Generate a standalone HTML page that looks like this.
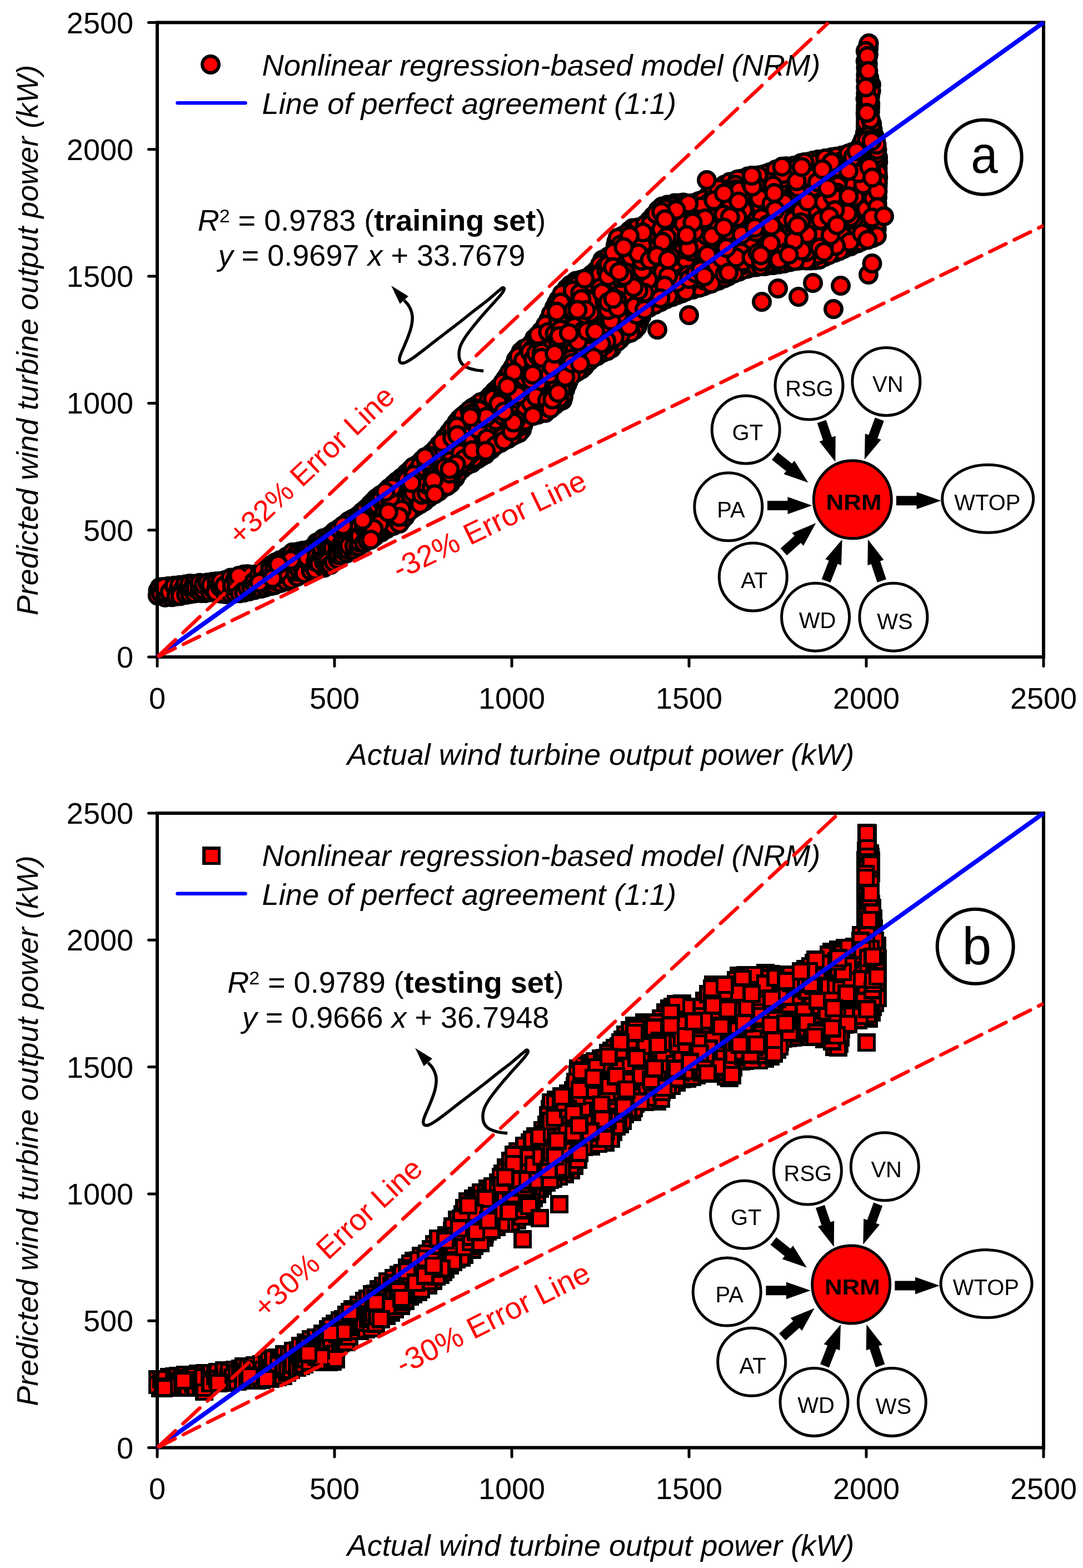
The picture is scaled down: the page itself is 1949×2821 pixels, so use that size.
<!DOCTYPE html>
<html><head><meta charset="utf-8"><title>NRM scatter plots</title>
<style>html,body{margin:0;padding:0;background:#fff;width:1949px;height:2821px;overflow:hidden}svg{display:block}</style>
</head><body>
<svg width="1949" height="2821" viewBox="0 0 1949 2821">
<rect width="1949" height="2821" fill="#fff"/>
<g fill="#ff0000" stroke="#000" stroke-width="6">
<circle cx="1293.4" cy="504.7" r="15"/>
<circle cx="1499.4" cy="430.3" r="15"/>
<circle cx="1379.9" cy="332.3" r="15"/>
<circle cx="999.1" cy="643.3" r="15"/>
<circle cx="1379.4" cy="374.7" r="15"/>
<circle cx="1106.4" cy="561.7" r="15"/>
<circle cx="1223.7" cy="400.7" r="15"/>
<circle cx="1457.3" cy="385.3" r="15"/>
<circle cx="1177.1" cy="470" r="15"/>
<circle cx="1001.6" cy="659.7" r="15"/>
<circle cx="1221" cy="478.3" r="15"/>
<circle cx="1389.7" cy="321.7" r="15"/>
<circle cx="1017.2" cy="701" r="15"/>
<circle cx="1337.9" cy="407.2" r="15"/>
<circle cx="1320.2" cy="326.4" r="15"/>
<circle cx="1126.2" cy="554.2" r="15"/>
<circle cx="1330.3" cy="488.4" r="15"/>
<circle cx="1051.1" cy="632.7" r="15"/>
<circle cx="1002" cy="579.6" r="15"/>
<circle cx="1253" cy="513.8" r="15"/>
<circle cx="1102.9" cy="570.7" r="15"/>
<circle cx="1242.4" cy="480.5" r="15"/>
<circle cx="1372.5" cy="314.3" r="15"/>
<circle cx="1110.3" cy="483.7" r="15"/>
<circle cx="1177.2" cy="416.7" r="15"/>
<circle cx="1106.3" cy="493.9" r="15"/>
<circle cx="1189" cy="543.2" r="15"/>
<circle cx="1176.2" cy="494.5" r="15"/>
<circle cx="1577.8" cy="411.9" r="15"/>
<circle cx="1392.9" cy="313.2" r="15"/>
<circle cx="1443.9" cy="467.9" r="15"/>
<circle cx="1457.2" cy="330" r="15"/>
<circle cx="1561.6" cy="104.5" r="15"/>
<circle cx="1309.9" cy="426.2" r="15"/>
<circle cx="1212.6" cy="453.8" r="15"/>
<circle cx="1343.3" cy="439.2" r="15"/>
<circle cx="1094.2" cy="589.1" r="15"/>
<circle cx="1236.2" cy="459.6" r="15"/>
<circle cx="1378.6" cy="323.9" r="15"/>
<circle cx="1429.2" cy="372.5" r="15"/>
<circle cx="1551.7" cy="338.5" r="15"/>
<circle cx="1326.7" cy="448.9" r="15"/>
<circle cx="1550" cy="282.3" r="15"/>
<circle cx="1195.2" cy="495.2" r="15"/>
<circle cx="1277.3" cy="430.5" r="15"/>
<circle cx="1363.8" cy="464.8" r="15"/>
<circle cx="1354.4" cy="342.2" r="15"/>
<circle cx="1524.9" cy="319.4" r="15"/>
<circle cx="1579.5" cy="302.6" r="15"/>
<circle cx="1255.8" cy="386.8" r="15"/>
<circle cx="1554.7" cy="321.8" r="15"/>
<circle cx="1069.5" cy="522.6" r="15"/>
<circle cx="1497.1" cy="414.2" r="15"/>
<circle cx="1501.9" cy="454.7" r="15"/>
<circle cx="1019.5" cy="571.7" r="15"/>
<circle cx="1030.2" cy="571" r="15"/>
<circle cx="1189.9" cy="468.3" r="15"/>
<circle cx="1314" cy="477.8" r="15"/>
<circle cx="1317.2" cy="396.8" r="15"/>
<circle cx="1009.2" cy="582.2" r="15"/>
<circle cx="1370.2" cy="322.2" r="15"/>
<circle cx="1415.3" cy="467.4" r="15"/>
<circle cx="1195.9" cy="416.8" r="15"/>
<circle cx="990.2" cy="604.7" r="15"/>
<circle cx="1474" cy="301.8" r="15"/>
<circle cx="1052" cy="649.1" r="15"/>
<circle cx="1572.2" cy="300.3" r="15"/>
<circle cx="1558.4" cy="121.8" r="15"/>
<circle cx="1573.3" cy="286.8" r="15"/>
<circle cx="1478.2" cy="432.2" r="15"/>
<circle cx="1544" cy="348.7" r="15"/>
<circle cx="1201" cy="368.4" r="15"/>
<circle cx="1066.1" cy="572.3" r="15"/>
<circle cx="1518.4" cy="375.4" r="15"/>
<circle cx="1323.9" cy="455.3" r="15"/>
<circle cx="1338.1" cy="344.1" r="15"/>
<circle cx="1098.2" cy="507.9" r="15"/>
<circle cx="1179" cy="433.4" r="15"/>
<circle cx="1511.9" cy="361.9" r="15"/>
<circle cx="1488.1" cy="436.8" r="15"/>
<circle cx="1006" cy="619.2" r="15"/>
<circle cx="1356.9" cy="445.2" r="15"/>
<circle cx="1104.8" cy="619.6" r="15"/>
<circle cx="1558.2" cy="212.7" r="15"/>
<circle cx="1129.1" cy="594.9" r="15"/>
<circle cx="1402.4" cy="455.9" r="15"/>
<circle cx="1169.6" cy="411.3" r="15"/>
<circle cx="1566" cy="193.7" r="15"/>
<circle cx="1129.5" cy="483.9" r="15"/>
<circle cx="1309.5" cy="452.3" r="15"/>
<circle cx="1263.3" cy="428.8" r="15"/>
<circle cx="1416.7" cy="383.8" r="15"/>
<circle cx="1449.8" cy="346.2" r="15"/>
<circle cx="1515.7" cy="432.3" r="15"/>
<circle cx="1422" cy="316.2" r="15"/>
<circle cx="1308.7" cy="395.3" r="15"/>
<circle cx="1302.5" cy="453.9" r="15"/>
<circle cx="1386.6" cy="416.6" r="15"/>
<circle cx="1435.2" cy="454.8" r="15"/>
<circle cx="1220.3" cy="497.2" r="15"/>
<circle cx="1325.4" cy="372.4" r="15"/>
<circle cx="1064.6" cy="493.7" r="15"/>
<circle cx="1396.6" cy="384.7" r="15"/>
<circle cx="1499.7" cy="346.2" r="15"/>
<circle cx="1444.2" cy="424" r="15"/>
<circle cx="1465.7" cy="431.6" r="15"/>
<circle cx="1119.7" cy="424.5" r="15"/>
<circle cx="1293.6" cy="419.7" r="15"/>
<circle cx="1102" cy="585.1" r="15"/>
<circle cx="1431.5" cy="332.2" r="15"/>
<circle cx="1203.6" cy="526.1" r="15"/>
<circle cx="1550.5" cy="378.2" r="15"/>
<circle cx="1330.2" cy="469.8" r="15"/>
<circle cx="1126.6" cy="582.5" r="15"/>
<circle cx="1042.2" cy="631.3" r="15"/>
<circle cx="1344.8" cy="386.6" r="15"/>
<circle cx="1049.5" cy="642.2" r="15"/>
<circle cx="1081.9" cy="573.3" r="15"/>
<circle cx="1020.6" cy="692.1" r="15"/>
<circle cx="1019.4" cy="620.9" r="15"/>
<circle cx="997.7" cy="571.7" r="15"/>
<circle cx="1291" cy="350.4" r="15"/>
<circle cx="1347.4" cy="449" r="15"/>
<circle cx="1579" cy="355.1" r="15"/>
<circle cx="1199.9" cy="445" r="15"/>
<circle cx="1521.9" cy="414.1" r="15"/>
<circle cx="1032.6" cy="672.5" r="15"/>
<circle cx="1542.2" cy="324.8" r="15"/>
<circle cx="1520.5" cy="291.1" r="15"/>
<circle cx="1242.7" cy="462.1" r="15"/>
<circle cx="1493.6" cy="299.8" r="15"/>
<circle cx="1375.4" cy="407.3" r="15"/>
<circle cx="1243.6" cy="406.3" r="15"/>
<circle cx="1133.6" cy="551.5" r="15"/>
<circle cx="1087.8" cy="566.4" r="15"/>
<circle cx="1218.8" cy="489.8" r="15"/>
<circle cx="1385.9" cy="449.4" r="15"/>
<circle cx="1399.6" cy="410.2" r="15"/>
<circle cx="1049.3" cy="564.9" r="15"/>
<circle cx="1040.5" cy="604.5" r="15"/>
<circle cx="1349" cy="396.1" r="15"/>
<circle cx="1404.6" cy="363.9" r="15"/>
<circle cx="1529.7" cy="428.4" r="15"/>
<circle cx="1467.7" cy="341.8" r="15"/>
<circle cx="1504.7" cy="398.3" r="15"/>
<circle cx="1478.4" cy="353.6" r="15"/>
<circle cx="1288.7" cy="403.5" r="15"/>
<circle cx="1490.2" cy="451.9" r="15"/>
<circle cx="1548.3" cy="354.3" r="15"/>
<circle cx="1115.3" cy="447.9" r="15"/>
<circle cx="1475.6" cy="322.3" r="15"/>
<circle cx="1415.8" cy="353" r="15"/>
<circle cx="1265.6" cy="515.2" r="15"/>
<circle cx="1453.8" cy="436.6" r="15"/>
<circle cx="1107.6" cy="514.7" r="15"/>
<circle cx="1519.9" cy="306.2" r="15"/>
<circle cx="1566.7" cy="344.3" r="15"/>
<circle cx="1236.3" cy="382.6" r="15"/>
<circle cx="1154.3" cy="569.1" r="15"/>
<circle cx="1018.6" cy="531.7" r="15"/>
<circle cx="1046" cy="609.2" r="15"/>
<circle cx="1139.9" cy="583.3" r="15"/>
<circle cx="1146.6" cy="508.3" r="15"/>
<circle cx="1513.6" cy="303.8" r="15"/>
<circle cx="1169.9" cy="434.2" r="15"/>
<circle cx="1515.2" cy="279.7" r="15"/>
<circle cx="1312.1" cy="441.8" r="15"/>
<circle cx="1259.2" cy="435.3" r="15"/>
<circle cx="1283.9" cy="378.6" r="15"/>
<circle cx="1085.2" cy="557.3" r="15"/>
<circle cx="1496.1" cy="376.5" r="15"/>
<circle cx="1296.6" cy="498.7" r="15"/>
<circle cx="1127" cy="568.9" r="15"/>
<circle cx="1558.4" cy="273.9" r="15"/>
<circle cx="1362.2" cy="326.1" r="15"/>
<circle cx="1139.2" cy="420.6" r="15"/>
<circle cx="1250.3" cy="437.3" r="15"/>
<circle cx="1094.4" cy="607.7" r="15"/>
<circle cx="1427.1" cy="453.4" r="15"/>
<circle cx="1391" cy="341.1" r="15"/>
<circle cx="1135.1" cy="468.7" r="15"/>
<circle cx="1367.1" cy="406.3" r="15"/>
<circle cx="1568.1" cy="272" r="15"/>
<circle cx="1013.2" cy="576.2" r="15"/>
<circle cx="1229.7" cy="364.6" r="15"/>
<circle cx="1526" cy="328" r="15"/>
<circle cx="1340.3" cy="400.7" r="15"/>
<circle cx="1228.3" cy="475.2" r="15"/>
<circle cx="1187.7" cy="443.4" r="15"/>
<circle cx="1250.3" cy="406.9" r="15"/>
<circle cx="1016" cy="539.3" r="15"/>
<circle cx="1214.1" cy="365.6" r="15"/>
<circle cx="1150.1" cy="578.9" r="15"/>
<circle cx="1216.7" cy="518.7" r="15"/>
<circle cx="1456.1" cy="291" r="15"/>
<circle cx="1079.9" cy="564.7" r="15"/>
<circle cx="1221.5" cy="365.4" r="15"/>
<circle cx="1496.7" cy="283" r="15"/>
<circle cx="1536.2" cy="347.8" r="15"/>
<circle cx="1533.4" cy="340.6" r="15"/>
<circle cx="1154.4" cy="408.2" r="15"/>
<circle cx="1152.6" cy="514.1" r="15"/>
<circle cx="1397.3" cy="436.2" r="15"/>
<circle cx="1111.2" cy="467.5" r="15"/>
<circle cx="1168.7" cy="396.3" r="15"/>
<circle cx="1183.7" cy="509.3" r="15"/>
<circle cx="1326.2" cy="480.7" r="15"/>
<circle cx="1017.1" cy="597" r="15"/>
<circle cx="1422.1" cy="464.4" r="15"/>
<circle cx="1153.3" cy="543.4" r="15"/>
<circle cx="1423.2" cy="357" r="15"/>
<circle cx="1519.5" cy="315" r="15"/>
<circle cx="1265.6" cy="441.5" r="15"/>
<circle cx="1570.1" cy="421.5" r="15"/>
<circle cx="1088.7" cy="534.1" r="15"/>
<circle cx="1047.8" cy="615.5" r="15"/>
<circle cx="1384.7" cy="431.5" r="15"/>
<circle cx="1051.1" cy="574.4" r="15"/>
<circle cx="1248.7" cy="484.3" r="15"/>
<circle cx="1480.9" cy="380.2" r="15"/>
<circle cx="1563.8" cy="350.8" r="15"/>
<circle cx="1410.1" cy="381.3" r="15"/>
<circle cx="1100.4" cy="552.2" r="15"/>
<circle cx="1364.6" cy="396.4" r="15"/>
<circle cx="1189.3" cy="389.4" r="15"/>
<circle cx="1150.2" cy="476" r="15"/>
<circle cx="1245" cy="511.9" r="15"/>
<circle cx="1173.7" cy="457.6" r="15"/>
<circle cx="1539.6" cy="403.7" r="15"/>
<circle cx="1467" cy="302.9" r="15"/>
<circle cx="1056.1" cy="524.1" r="15"/>
<circle cx="1210.6" cy="508" r="15"/>
<circle cx="1465.2" cy="411.2" r="15"/>
<circle cx="1173.2" cy="449.6" r="15"/>
<circle cx="1040.6" cy="645" r="15"/>
<circle cx="1023" cy="562.9" r="15"/>
<circle cx="1354.4" cy="369.8" r="15"/>
<circle cx="1294.8" cy="399.3" r="15"/>
<circle cx="1490" cy="403.6" r="15"/>
<circle cx="1002.7" cy="629.7" r="15"/>
<circle cx="1207.7" cy="500.8" r="15"/>
<circle cx="1411.7" cy="459.4" r="15"/>
<circle cx="1003.7" cy="650.7" r="15"/>
<circle cx="1489" cy="419.6" r="15"/>
<circle cx="1033.8" cy="516.1" r="15"/>
<circle cx="1444" cy="339.9" r="15"/>
<circle cx="1111.3" cy="475.7" r="15"/>
<circle cx="1153.8" cy="435.4" r="15"/>
<circle cx="990.3" cy="587.4" r="15"/>
<circle cx="1529.2" cy="289.1" r="15"/>
<circle cx="1391.1" cy="443.6" r="15"/>
<circle cx="1315.9" cy="334.1" r="15"/>
<circle cx="1574.4" cy="377.7" r="15"/>
<circle cx="1506.9" cy="431.3" r="15"/>
<circle cx="1558.2" cy="190.6" r="15"/>
<circle cx="1518.6" cy="323.9" r="15"/>
<circle cx="1210.2" cy="441" r="15"/>
<circle cx="1041.2" cy="546.9" r="15"/>
<circle cx="1442.3" cy="333.6" r="15"/>
<circle cx="1013.3" cy="693.2" r="15"/>
<circle cx="1189.4" cy="404.3" r="15"/>
<circle cx="1357.6" cy="426.6" r="15"/>
<circle cx="1383.6" cy="477.3" r="15"/>
<circle cx="1494" cy="368.8" r="15"/>
<circle cx="1063.9" cy="516.5" r="15"/>
<circle cx="1401.4" cy="475.6" r="15"/>
<circle cx="1183.4" cy="467.5" r="15"/>
<circle cx="999.1" cy="677.6" r="15"/>
<circle cx="1116.9" cy="432.2" r="15"/>
<circle cx="1567.9" cy="152.3" r="15"/>
<circle cx="1497.5" cy="340" r="15"/>
<circle cx="1120.4" cy="548.4" r="15"/>
<circle cx="1086.6" cy="492.6" r="15"/>
<circle cx="1395.7" cy="325.8" r="15"/>
<circle cx="1186" cy="490.6" r="15"/>
<circle cx="994.5" cy="669" r="15"/>
<circle cx="1060" cy="604.2" r="15"/>
<circle cx="1073.2" cy="571.1" r="15"/>
<circle cx="1409.9" cy="388.3" r="15"/>
<circle cx="1199.9" cy="483.1" r="15"/>
<circle cx="1471.8" cy="404.4" r="15"/>
<circle cx="1351.7" cy="405.1" r="15"/>
<circle cx="1227.4" cy="435.5" r="15"/>
<circle cx="1457.6" cy="409.1" r="15"/>
<circle cx="1564.1" cy="311.2" r="15"/>
<circle cx="1492.1" cy="331.8" r="15"/>
<circle cx="1003.3" cy="724.7" r="15"/>
<circle cx="1543.7" cy="411" r="15"/>
<circle cx="1119" cy="473.4" r="15"/>
<circle cx="1052.9" cy="603" r="15"/>
<circle cx="1291.4" cy="361.1" r="15"/>
<circle cx="1209.7" cy="515.7" r="15"/>
<circle cx="1054.9" cy="543.4" r="15"/>
<circle cx="1548.3" cy="319" r="15"/>
<circle cx="1146.7" cy="588.6" r="15"/>
<circle cx="1530.7" cy="443.3" r="15"/>
<circle cx="1196.5" cy="472.3" r="15"/>
<circle cx="1384.3" cy="390.8" r="15"/>
<circle cx="1445.4" cy="458.4" r="15"/>
<circle cx="1503.9" cy="413.3" r="15"/>
<circle cx="1172.6" cy="506.8" r="15"/>
<circle cx="1518.3" cy="298.9" r="15"/>
<circle cx="1408.8" cy="427.7" r="15"/>
<circle cx="1372" cy="344.4" r="15"/>
<circle cx="1075.1" cy="508.8" r="15"/>
<circle cx="1273.5" cy="490.6" r="15"/>
<circle cx="984.5" cy="642.6" r="15"/>
<circle cx="1538.2" cy="319" r="15"/>
<circle cx="1344.3" cy="431.7" r="15"/>
<circle cx="1331.4" cy="433.3" r="15"/>
<circle cx="1143.3" cy="532.6" r="15"/>
<circle cx="1303.5" cy="332.5" r="15"/>
<circle cx="1065.2" cy="581.8" r="15"/>
<circle cx="1471.1" cy="415.2" r="15"/>
<circle cx="1453" cy="414.6" r="15"/>
<circle cx="1415.8" cy="370.1" r="15"/>
<circle cx="1340.9" cy="459" r="15"/>
<circle cx="1052" cy="514.4" r="15"/>
<circle cx="1401.6" cy="343.5" r="15"/>
<circle cx="983.4" cy="658.5" r="15"/>
<circle cx="1171.2" cy="520.1" r="15"/>
<circle cx="1289.1" cy="447.2" r="15"/>
<circle cx="1152.7" cy="533.6" r="15"/>
<circle cx="1141.9" cy="594" r="15"/>
<circle cx="1027.9" cy="607" r="15"/>
<circle cx="1208" cy="448.9" r="15"/>
<circle cx="1534.3" cy="273.6" r="15"/>
<circle cx="1249.4" cy="382.7" r="15"/>
<circle cx="1568.8" cy="293.8" r="15"/>
<circle cx="1345" cy="483.4" r="15"/>
<circle cx="1558.3" cy="135" r="15"/>
<circle cx="1429.2" cy="352.3" r="15"/>
<circle cx="1337.1" cy="429.3" r="15"/>
<circle cx="1078.5" cy="592.9" r="15"/>
<circle cx="1450.1" cy="427.5" r="15"/>
<circle cx="1119.4" cy="595.5" r="15"/>
<circle cx="1052.5" cy="584.5" r="15"/>
<circle cx="1035.5" cy="527.3" r="15"/>
<circle cx="1000.4" cy="593.5" r="15"/>
<circle cx="1269.5" cy="415.3" r="15"/>
<circle cx="1115.9" cy="610.4" r="15"/>
<circle cx="1493.4" cy="444.8" r="15"/>
<circle cx="1188" cy="477.1" r="15"/>
<circle cx="1308.4" cy="381.5" r="15"/>
<circle cx="1343.6" cy="411.1" r="15"/>
<circle cx="1167.1" cy="495.7" r="15"/>
<circle cx="1331.1" cy="334" r="15"/>
<circle cx="1217.3" cy="411.7" r="15"/>
<circle cx="1416.3" cy="408.5" r="15"/>
<circle cx="1206.7" cy="410" r="15"/>
<circle cx="1333.1" cy="461.8" r="15"/>
<circle cx="1459.6" cy="461" r="15"/>
<circle cx="1177.1" cy="426.9" r="15"/>
<circle cx="1296.4" cy="426.1" r="15"/>
<circle cx="971" cy="625.8" r="15"/>
<circle cx="1572.6" cy="325.9" r="15"/>
<circle cx="994.6" cy="692.7" r="15"/>
<circle cx="1219.1" cy="371.7" r="15"/>
<circle cx="1015.9" cy="608" r="15"/>
<circle cx="995" cy="685.7" r="15"/>
<circle cx="1100.3" cy="515.7" r="15"/>
<circle cx="1149.3" cy="427.5" r="15"/>
<circle cx="1275.9" cy="413" r="15"/>
<circle cx="1500.4" cy="314.5" r="15"/>
<circle cx="1557.1" cy="342.4" r="15"/>
<circle cx="1235.7" cy="374.7" r="15"/>
<circle cx="1076.5" cy="524.2" r="15"/>
<circle cx="1553.8" cy="348.7" r="15"/>
<circle cx="1445.7" cy="416.1" r="15"/>
<circle cx="1427.2" cy="365.1" r="15"/>
<circle cx="979" cy="701.8" r="15"/>
<circle cx="1023.5" cy="663.2" r="15"/>
<circle cx="1100.9" cy="626.5" r="15"/>
<circle cx="1559.7" cy="386.1" r="15"/>
<circle cx="1570.6" cy="233" r="15"/>
<circle cx="1415.3" cy="342.2" r="15"/>
<circle cx="1297.7" cy="356.9" r="15"/>
<circle cx="1568.8" cy="331.8" r="15"/>
<circle cx="1566.7" cy="278.5" r="15"/>
<circle cx="1580.3" cy="291.8" r="15"/>
<circle cx="1345.6" cy="317.5" r="15"/>
<circle cx="1571.1" cy="407.7" r="15"/>
<circle cx="1236" cy="485.8" r="15"/>
<circle cx="1376.8" cy="471.5" r="15"/>
<circle cx="1540.3" cy="417.7" r="15"/>
<circle cx="1331.7" cy="368.7" r="15"/>
<circle cx="1258.5" cy="412.2" r="15"/>
<circle cx="1364" cy="340.8" r="15"/>
<circle cx="1007.3" cy="663.4" r="15"/>
<circle cx="1354.9" cy="391.3" r="15"/>
<circle cx="1473.8" cy="311" r="15"/>
<circle cx="1036.2" cy="505.5" r="15"/>
<circle cx="1453.5" cy="297.7" r="15"/>
<circle cx="1248" cy="391.4" r="15"/>
<circle cx="1272" cy="476.7" r="15"/>
<circle cx="1476.8" cy="410.2" r="15"/>
<circle cx="1392.3" cy="390.5" r="15"/>
<circle cx="1522.7" cy="439.4" r="15"/>
<circle cx="1307.5" cy="484.2" r="15"/>
<circle cx="1415.9" cy="416.7" r="15"/>
<circle cx="1516.7" cy="367.4" r="15"/>
<circle cx="1169.2" cy="421.1" r="15"/>
<circle cx="1389.5" cy="467.4" r="15"/>
<circle cx="1401.5" cy="442.5" r="15"/>
<circle cx="1564.3" cy="208.4" r="15"/>
<circle cx="1134" cy="570.3" r="15"/>
<circle cx="1118.9" cy="506.3" r="15"/>
<circle cx="1125.9" cy="453.2" r="15"/>
<circle cx="1491.7" cy="324.1" r="15"/>
<circle cx="1259" cy="493.8" r="15"/>
<circle cx="990" cy="680.4" r="15"/>
<circle cx="1211.5" cy="523.9" r="15"/>
<circle cx="1465" cy="384.1" r="15"/>
<circle cx="1313.2" cy="340.4" r="15"/>
<circle cx="1375.5" cy="461.2" r="15"/>
<circle cx="1279.8" cy="418.6" r="15"/>
<circle cx="1433.6" cy="386.5" r="15"/>
<circle cx="1440.4" cy="357.7" r="15"/>
<circle cx="1224.1" cy="386.8" r="15"/>
<circle cx="1350" cy="420.4" r="15"/>
<circle cx="1099.5" cy="524.7" r="15"/>
<circle cx="1544.3" cy="423.8" r="15"/>
<circle cx="1272.2" cy="404.3" r="15"/>
<circle cx="1549.5" cy="259.7" r="15"/>
<circle cx="1398" cy="368.9" r="15"/>
<circle cx="1422.8" cy="370.6" r="15"/>
<circle cx="1198.4" cy="409.4" r="15"/>
<circle cx="1184.9" cy="415.8" r="15"/>
<circle cx="972.1" cy="720.4" r="15"/>
<circle cx="1205.9" cy="480.4" r="15"/>
<circle cx="1142.6" cy="472.5" r="15"/>
<circle cx="1013.5" cy="614.9" r="15"/>
<circle cx="1351.4" cy="474.3" r="15"/>
<circle cx="1269.9" cy="381.7" r="15"/>
<circle cx="1280.7" cy="463.1" r="15"/>
<circle cx="1223.1" cy="416.3" r="15"/>
<circle cx="1299.1" cy="442.5" r="15"/>
<circle cx="1369.1" cy="414.4" r="15"/>
<circle cx="1306.6" cy="354.9" r="15"/>
<circle cx="1123.5" cy="562.6" r="15"/>
<circle cx="1410.7" cy="405.1" r="15"/>
<circle cx="1057.3" cy="535.5" r="15"/>
<circle cx="1571" cy="312.2" r="15"/>
<circle cx="1300.6" cy="403.2" r="15"/>
<circle cx="1484.9" cy="394.1" r="15"/>
<circle cx="1286.5" cy="506.7" r="15"/>
<circle cx="1296" cy="450.4" r="15"/>
<circle cx="1558.9" cy="364.2" r="15"/>
<circle cx="1249.8" cy="464" r="15"/>
<circle cx="1123.4" cy="468.3" r="15"/>
<circle cx="1404" cy="448.7" r="15"/>
<circle cx="1226.9" cy="527.8" r="15"/>
<circle cx="1032" cy="533" r="15"/>
<circle cx="1514.3" cy="397.4" r="15"/>
<circle cx="1292.5" cy="441.1" r="15"/>
<circle cx="1448.1" cy="353.8" r="15"/>
<circle cx="1024.9" cy="624.7" r="15"/>
<circle cx="986.6" cy="665.8" r="15"/>
<circle cx="1492.5" cy="345.1" r="15"/>
<circle cx="1220.8" cy="432.8" r="15"/>
<circle cx="1350.1" cy="374.7" r="15"/>
<circle cx="1229.5" cy="442" r="15"/>
<circle cx="1363.4" cy="447.7" r="15"/>
<circle cx="1228.5" cy="412" r="15"/>
<circle cx="1387.2" cy="351.2" r="15"/>
<circle cx="1446.8" cy="360.6" r="15"/>
<circle cx="993.1" cy="593.9" r="15"/>
<circle cx="1110.7" cy="615.1" r="15"/>
<circle cx="985.8" cy="707.2" r="15"/>
<circle cx="1055.2" cy="622.3" r="15"/>
<circle cx="1294.5" cy="492" r="15"/>
<circle cx="1241.4" cy="378.5" r="15"/>
<circle cx="1004.2" cy="682.1" r="15"/>
<circle cx="1580.3" cy="319.6" r="15"/>
<circle cx="1224.5" cy="464.8" r="15"/>
<circle cx="1400.7" cy="417.2" r="15"/>
<circle cx="1314.5" cy="434.7" r="15"/>
<circle cx="1028.9" cy="635.2" r="15"/>
<circle cx="1388.7" cy="384.1" r="15"/>
<circle cx="1432.5" cy="440.1" r="15"/>
<circle cx="1106.4" cy="522.8" r="15"/>
<circle cx="1482.6" cy="335.2" r="15"/>
<circle cx="1296.1" cy="365.9" r="15"/>
<circle cx="1182.1" cy="391.8" r="15"/>
<circle cx="1573.9" cy="245.4" r="15"/>
<circle cx="1471.8" cy="363.4" r="15"/>
<circle cx="1466.9" cy="467.9" r="15"/>
<circle cx="1332.6" cy="403.4" r="15"/>
<circle cx="1549" cy="406.6" r="15"/>
<circle cx="1382" cy="355.9" r="15"/>
<circle cx="1380.5" cy="441" r="15"/>
<circle cx="1401.2" cy="332.8" r="15"/>
<circle cx="1178.4" cy="502.9" r="15"/>
<circle cx="1378.6" cy="398" r="15"/>
<circle cx="1072.3" cy="529.3" r="15"/>
<circle cx="1333.2" cy="412.4" r="15"/>
<circle cx="1021.7" cy="633.6" r="15"/>
<circle cx="1262.7" cy="406" r="15"/>
<circle cx="1350.5" cy="436.1" r="15"/>
<circle cx="1551.1" cy="305.8" r="15"/>
<circle cx="981.9" cy="689.3" r="15"/>
<circle cx="1061.4" cy="587.4" r="15"/>
<circle cx="1301.2" cy="476.3" r="15"/>
<circle cx="1149.6" cy="554.3" r="15"/>
<circle cx="1175.3" cy="388.7" r="15"/>
<circle cx="1215.4" cy="385.3" r="15"/>
<circle cx="1253.5" cy="372.9" r="15"/>
<circle cx="1216" cy="468.5" r="15"/>
<circle cx="1183.7" cy="409.1" r="15"/>
<circle cx="1176" cy="396.6" r="15"/>
<circle cx="1024.4" cy="525.1" r="15"/>
<circle cx="969.4" cy="610.2" r="15"/>
<circle cx="1463.3" cy="325.3" r="15"/>
<circle cx="1027.2" cy="581.1" r="15"/>
<circle cx="1465.5" cy="455.1" r="15"/>
<circle cx="1263.8" cy="470" r="15"/>
<circle cx="1317.9" cy="485.6" r="15"/>
<circle cx="990.5" cy="632.5" r="15"/>
<circle cx="1041.6" cy="590.9" r="15"/>
<circle cx="1178.1" cy="527.7" r="15"/>
<circle cx="1229.8" cy="507.1" r="15"/>
<circle cx="1209.4" cy="492.4" r="15"/>
<circle cx="994" cy="618.6" r="15"/>
<circle cx="1529.7" cy="416.9" r="15"/>
<circle cx="981" cy="725.7" r="15"/>
<circle cx="1314.4" cy="354.5" r="15"/>
<circle cx="1579.8" cy="311.1" r="15"/>
<circle cx="1346.2" cy="335.2" r="15"/>
<circle cx="1032.9" cy="611.8" r="15"/>
<circle cx="1222.8" cy="451.4" r="15"/>
<circle cx="1530.2" cy="314.8" r="15"/>
<circle cx="1334.6" cy="447" r="15"/>
<circle cx="1299.2" cy="415" r="15"/>
<circle cx="1483.6" cy="370.6" r="15"/>
<circle cx="1109.8" cy="597" r="15"/>
<circle cx="1118.7" cy="541.9" r="15"/>
<circle cx="1522.5" cy="421.8" r="15"/>
<circle cx="1558.4" cy="229.9" r="15"/>
<circle cx="1574.4" cy="387.4" r="15"/>
<circle cx="1245.5" cy="468.8" r="15"/>
<circle cx="1051.9" cy="549.1" r="15"/>
<circle cx="1512.5" cy="439.6" r="15"/>
<circle cx="1246.7" cy="521" r="15"/>
<circle cx="1228.6" cy="514.4" r="15"/>
<circle cx="1126.7" cy="601.2" r="15"/>
<circle cx="1346.5" cy="323.9" r="15"/>
<circle cx="1570.7" cy="428.1" r="15"/>
<circle cx="1265.6" cy="463.6" r="15"/>
<circle cx="1315.9" cy="370.5" r="15"/>
<circle cx="1010.1" cy="624.7" r="15"/>
<circle cx="1438.9" cy="461.8" r="15"/>
<circle cx="1501.1" cy="420.5" r="15"/>
<circle cx="1058.7" cy="510.2" r="15"/>
<circle cx="1572.4" cy="340.2" r="15"/>
<circle cx="1553.1" cy="270.1" r="15"/>
<circle cx="1256.8" cy="468.8" r="15"/>
<circle cx="1317.2" cy="417.7" r="15"/>
<circle cx="1072.4" cy="625.2" r="15"/>
<circle cx="1419.5" cy="377.1" r="15"/>
<circle cx="1397.2" cy="398.6" r="15"/>
<circle cx="982.4" cy="636.4" r="15"/>
<circle cx="1027.3" cy="618" r="15"/>
<circle cx="1381.1" cy="423.9" r="15"/>
<circle cx="1204.2" cy="488.2" r="15"/>
<circle cx="1335.4" cy="321.4" r="15"/>
<circle cx="1490.4" cy="413.2" r="15"/>
<circle cx="1077.4" cy="501.6" r="15"/>
<circle cx="1230.1" cy="456.8" r="15"/>
<circle cx="1206.2" cy="434.5" r="15"/>
<circle cx="1359.1" cy="437.5" r="15"/>
<circle cx="1259.3" cy="461.9" r="15"/>
<circle cx="1158.6" cy="538.5" r="15"/>
<circle cx="1513.1" cy="329.6" r="15"/>
<circle cx="1419" cy="399.4" r="15"/>
<circle cx="1040.9" cy="597.9" r="15"/>
<circle cx="1147.8" cy="467.5" r="15"/>
<circle cx="949.2" cy="685" r="15"/>
<circle cx="1482.5" cy="311.1" r="15"/>
<circle cx="1513.3" cy="317.2" r="15"/>
<circle cx="1005.7" cy="670.1" r="15"/>
<circle cx="1153.2" cy="447.8" r="15"/>
<circle cx="1491.8" cy="361.3" r="15"/>
<circle cx="991.2" cy="642.9" r="15"/>
<circle cx="1349.6" cy="413.9" r="15"/>
<circle cx="1404.7" cy="349.5" r="15"/>
<circle cx="1391.6" cy="476.9" r="15"/>
<circle cx="1359" cy="319" r="15"/>
<circle cx="1289.1" cy="478.6" r="15"/>
<circle cx="1502.4" cy="287.9" r="15"/>
<circle cx="979.6" cy="676.5" r="15"/>
<circle cx="1411" cy="451.9" r="15"/>
<circle cx="1384.2" cy="316.4" r="15"/>
<circle cx="1249.2" cy="502.5" r="15"/>
<circle cx="1505.2" cy="281.7" r="15"/>
<circle cx="1131" cy="560" r="15"/>
<circle cx="1277.1" cy="441.6" r="15"/>
<circle cx="1373.2" cy="445.5" r="15"/>
<circle cx="1462.2" cy="297.2" r="15"/>
<circle cx="1036.5" cy="652.3" r="15"/>
<circle cx="1499.4" cy="448.1" r="15"/>
<circle cx="979.5" cy="589.9" r="15"/>
<circle cx="1065.5" cy="592.6" r="15"/>
<circle cx="994.9" cy="704.1" r="15"/>
<circle cx="1579.5" cy="335.6" r="15"/>
<circle cx="999.3" cy="712.1" r="15"/>
<circle cx="1179.6" cy="451.3" r="15"/>
<circle cx="1535.9" cy="423.3" r="15"/>
<circle cx="1469.3" cy="351.6" r="15"/>
<circle cx="968.9" cy="664.1" r="15"/>
<circle cx="1331.7" cy="382.2" r="15"/>
<circle cx="1158" cy="519.9" r="15"/>
<circle cx="1260.5" cy="399.2" r="15"/>
<circle cx="1335" cy="440" r="15"/>
<circle cx="1081.7" cy="541" r="15"/>
<circle cx="1399.9" cy="313.6" r="15"/>
<circle cx="1448.8" cy="315.5" r="15"/>
<circle cx="1281.3" cy="353.4" r="15"/>
<circle cx="1026" cy="592.7" r="15"/>
<circle cx="1034.1" cy="548.7" r="15"/>
<circle cx="1009.8" cy="686.3" r="15"/>
<circle cx="1442.8" cy="409.8" r="15"/>
<circle cx="1512.1" cy="339.6" r="15"/>
<circle cx="1302" cy="393" r="15"/>
<circle cx="1343.2" cy="424.9" r="15"/>
<circle cx="1461.9" cy="417.2" r="15"/>
<circle cx="1134.3" cy="437.6" r="15"/>
<circle cx="1424.9" cy="416.9" r="15"/>
<circle cx="1229.4" cy="382.2" r="15"/>
<circle cx="1096.2" cy="468.4" r="15"/>
<circle cx="1026.4" cy="512.4" r="15"/>
<circle cx="1171.3" cy="474.3" r="15"/>
<circle cx="1255" cy="442" r="15"/>
<circle cx="1129.4" cy="472.9" r="15"/>
<circle cx="1265.9" cy="481.5" r="15"/>
<circle cx="1057.5" cy="579" r="15"/>
<circle cx="1556.9" cy="239.3" r="15"/>
<circle cx="1369.5" cy="383" r="15"/>
<circle cx="1461.5" cy="403.8" r="15"/>
<circle cx="1393.8" cy="419.2" r="15"/>
<circle cx="1010.3" cy="679.2" r="15"/>
<circle cx="1437.6" cy="444.2" r="15"/>
<circle cx="997.9" cy="729.3" r="15"/>
<circle cx="966.2" cy="648.2" r="15"/>
<circle cx="1188.6" cy="516.6" r="15"/>
<circle cx="1450.4" cy="406.4" r="15"/>
<circle cx="1072.6" cy="577.8" r="15"/>
<circle cx="1376.1" cy="381.3" r="15"/>
<circle cx="969" cy="728.8" r="15"/>
<circle cx="1546.9" cy="266.2" r="15"/>
<circle cx="1008.5" cy="643.2" r="15"/>
<circle cx="1258.9" cy="507.2" r="15"/>
<circle cx="1238.1" cy="519" r="15"/>
<circle cx="1284.5" cy="346.9" r="15"/>
<circle cx="1109.5" cy="572.1" r="15"/>
<circle cx="1072.4" cy="616.8" r="15"/>
<circle cx="1065" cy="549.5" r="15"/>
<circle cx="1132.7" cy="522.3" r="15"/>
<circle cx="1540.2" cy="290.3" r="15"/>
<circle cx="988.1" cy="687" r="15"/>
<circle cx="1339.1" cy="371.2" r="15"/>
<circle cx="1317.9" cy="445.4" r="15"/>
<circle cx="1436.2" cy="352.6" r="15"/>
<circle cx="1359.6" cy="473.6" r="15"/>
<circle cx="1103.2" cy="600" r="15"/>
<circle cx="1562.6" cy="80.6" r="15"/>
<circle cx="945.8" cy="634.3" r="15"/>
<circle cx="1452.2" cy="461.4" r="15"/>
<circle cx="1372.1" cy="365.5" r="15"/>
<circle cx="1561" cy="151.2" r="15"/>
<circle cx="1499" cy="390.5" r="15"/>
<circle cx="1437.4" cy="468.8" r="15"/>
<circle cx="1183.7" cy="482.7" r="15"/>
<circle cx="1215.2" cy="446.3" r="15"/>
<circle cx="1382.1" cy="410.7" r="15"/>
<circle cx="1432.1" cy="318" r="15"/>
<circle cx="1316.7" cy="454.7" r="15"/>
<circle cx="1294.5" cy="381.7" r="15"/>
<circle cx="1552.1" cy="313.1" r="15"/>
<circle cx="1407.9" cy="337.6" r="15"/>
<circle cx="1325.9" cy="427.6" r="15"/>
<circle cx="954.4" cy="696.5" r="15"/>
<circle cx="959.7" cy="719" r="15"/>
<circle cx="1081.3" cy="582.1" r="15"/>
<circle cx="1557.6" cy="177.7" r="15"/>
<circle cx="1126.7" cy="439.9" r="15"/>
<circle cx="1214.3" cy="396.6" r="15"/>
<circle cx="1143.3" cy="557.4" r="15"/>
<circle cx="1076.4" cy="602.8" r="15"/>
<circle cx="1519.7" cy="337.8" r="15"/>
<circle cx="1084.1" cy="606.8" r="15"/>
<circle cx="1180" cy="441.2" r="15"/>
<circle cx="1580.1" cy="283" r="15"/>
<circle cx="1136.3" cy="430.2" r="15"/>
<circle cx="1282.3" cy="493.8" r="15"/>
<circle cx="996.6" cy="583.4" r="15"/>
<circle cx="939.9" cy="668.6" r="15"/>
<circle cx="987.2" cy="575.4" r="15"/>
<circle cx="1384.4" cy="340.5" r="15"/>
<circle cx="1213.9" cy="475.5" r="15"/>
<circle cx="1266.7" cy="366.3" r="15"/>
<circle cx="1342.8" cy="475.7" r="15"/>
<circle cx="1048.7" cy="522.3" r="15"/>
<circle cx="1395.8" cy="471.4" r="15"/>
<circle cx="1016.5" cy="661.5" r="15"/>
<circle cx="1424.3" cy="345.9" r="15"/>
<circle cx="1126" cy="502.1" r="15"/>
<circle cx="989.3" cy="698.6" r="15"/>
<circle cx="1519.9" cy="331.2" r="15"/>
<circle cx="1532.9" cy="376" r="15"/>
<circle cx="1536.5" cy="386.4" r="15"/>
<circle cx="1056.4" cy="568.2" r="15"/>
<circle cx="1490.1" cy="309.2" r="15"/>
<circle cx="1075.7" cy="559.1" r="15"/>
<circle cx="1528.8" cy="370.5" r="15"/>
<circle cx="963.9" cy="678.5" r="15"/>
<circle cx="1484.2" cy="323" r="15"/>
<circle cx="1138.5" cy="562.4" r="15"/>
<circle cx="1195.7" cy="387.7" r="15"/>
<circle cx="1562.5" cy="288.6" r="15"/>
<circle cx="1557.4" cy="299.8" r="15"/>
<circle cx="968.2" cy="746.1" r="15"/>
<circle cx="1491.4" cy="317.2" r="15"/>
<circle cx="1084" cy="467.6" r="15"/>
<circle cx="963.4" cy="660.2" r="15"/>
<circle cx="1272.9" cy="353.8" r="15"/>
<circle cx="1115.4" cy="515.1" r="15"/>
<circle cx="942.2" cy="723.2" r="15"/>
<circle cx="1577.8" cy="393.1" r="15"/>
<circle cx="939" cy="773.4" r="15"/>
<circle cx="1353.6" cy="322.7" r="15"/>
<circle cx="1184" cy="378" r="15"/>
<circle cx="937.5" cy="680.6" r="15"/>
<circle cx="1155.3" cy="455.3" r="15"/>
<circle cx="957.6" cy="639" r="15"/>
<circle cx="943" cy="627.6" r="15"/>
<circle cx="1019.7" cy="588.7" r="15"/>
<circle cx="1271.6" cy="512.5" r="15"/>
<circle cx="1353.7" cy="481" r="15"/>
<circle cx="968.5" cy="618.2" r="15"/>
<circle cx="1260.9" cy="476.2" r="15"/>
<circle cx="1246.1" cy="495.3" r="15"/>
<circle cx="1316.8" cy="346.1" r="15"/>
<circle cx="1243.5" cy="488.7" r="15"/>
<circle cx="1167.9" cy="454.2" r="15"/>
<circle cx="1441.2" cy="308.1" r="15"/>
<circle cx="1403.4" cy="403.1" r="15"/>
<circle cx="1463.1" cy="391.4" r="15"/>
<circle cx="1377.8" cy="430.4" r="15"/>
<circle cx="1370.1" cy="451.7" r="15"/>
<circle cx="1084.4" cy="634.8" r="15"/>
<circle cx="963" cy="698.9" r="15"/>
<circle cx="1510.6" cy="413.9" r="15"/>
<circle cx="999.6" cy="623" r="15"/>
<circle cx="984.3" cy="733.7" r="15"/>
<circle cx="952.4" cy="659.2" r="15"/>
<circle cx="964" cy="706.2" r="15"/>
<circle cx="1559" cy="247" r="15"/>
<circle cx="1239.3" cy="415.3" r="15"/>
<circle cx="1579.8" cy="327.9" r="15"/>
<circle cx="1409" cy="344.2" r="15"/>
<circle cx="1226.4" cy="501.3" r="15"/>
<circle cx="1482.5" cy="427.1" r="15"/>
<circle cx="1133.1" cy="414.7" r="15"/>
<circle cx="1083.2" cy="600.3" r="15"/>
<circle cx="1113.1" cy="531" r="15"/>
<circle cx="1540.8" cy="380.8" r="15"/>
<circle cx="1013.3" cy="668" r="15"/>
<circle cx="955.6" cy="742.2" r="15"/>
<circle cx="1089.7" cy="506" r="15"/>
<circle cx="1072.5" cy="487.1" r="15"/>
<circle cx="1363" cy="374" r="15"/>
<circle cx="1442.8" cy="431.3" r="15"/>
<circle cx="1012.2" cy="720.5" r="15"/>
<circle cx="940.2" cy="700.1" r="15"/>
<circle cx="1508.6" cy="393.1" r="15"/>
<circle cx="1372.7" cy="436.6" r="15"/>
<circle cx="1437.6" cy="435.6" r="15"/>
<circle cx="1044.5" cy="517.1" r="15"/>
<circle cx="1558" cy="227" r="15"/>
<circle cx="1539.2" cy="370" r="15"/>
<circle cx="1009.7" cy="654.4" r="15"/>
<circle cx="1342.5" cy="352.2" r="15"/>
<circle cx="950.5" cy="729.9" r="15"/>
<circle cx="1492.5" cy="396.6" r="15"/>
<circle cx="1312.9" cy="327.6" r="15"/>
<circle cx="1016.1" cy="629.9" r="15"/>
<circle cx="959.7" cy="690.2" r="15"/>
<circle cx="1297.5" cy="374.9" r="15"/>
<circle cx="1178.3" cy="534.7" r="15"/>
<circle cx="1332.9" cy="327.8" r="15"/>
<circle cx="1572" cy="363.4" r="15"/>
<circle cx="1182.3" cy="497.6" r="15"/>
<circle cx="1080.8" cy="486.1" r="15"/>
<circle cx="1306.4" cy="459.9" r="15"/>
<circle cx="1522.4" cy="283.7" r="15"/>
<circle cx="1447.3" cy="369" r="15"/>
<circle cx="1093.4" cy="521.6" r="15"/>
<circle cx="1194" cy="441.9" r="15"/>
<circle cx="1562.9" cy="98.1" r="15"/>
<circle cx="975.1" cy="695.4" r="15"/>
<circle cx="948.7" cy="722.3" r="15"/>
<circle cx="1044.4" cy="503.7" r="15"/>
<circle cx="933.4" cy="695.9" r="15"/>
<circle cx="997.5" cy="553.3" r="15"/>
<circle cx="1136" cy="478.5" r="15"/>
<circle cx="1261.1" cy="392.1" r="15"/>
<circle cx="975.6" cy="686.9" r="15"/>
<circle cx="947.1" cy="745.1" r="15"/>
<circle cx="1022.4" cy="653.3" r="15"/>
<circle cx="1566.7" cy="414.7" r="15"/>
<circle cx="1466.7" cy="443.5" r="15"/>
<circle cx="1002.2" cy="691.8" r="15"/>
<circle cx="922.8" cy="676.6" r="15"/>
<circle cx="1020.1" cy="554.3" r="15"/>
<circle cx="934.9" cy="753.2" r="15"/>
<circle cx="928.2" cy="748.7" r="15"/>
<circle cx="941.5" cy="764.9" r="15"/>
<circle cx="1141.3" cy="464.9" r="15"/>
<circle cx="1196.3" cy="452.7" r="15"/>
<circle cx="951.8" cy="650.7" r="15"/>
<circle cx="1005.3" cy="538.4" r="15"/>
<circle cx="1559.5" cy="265.3" r="15"/>
<circle cx="1467.7" cy="421.5" r="15"/>
<circle cx="935" cy="746.4" r="15"/>
<circle cx="1094.7" cy="461.4" r="15"/>
<circle cx="1330.8" cy="349.1" r="15"/>
<circle cx="1073.1" cy="586.8" r="15"/>
<circle cx="1578.1" cy="276.7" r="15"/>
<circle cx="1422.5" cy="440" r="15"/>
<circle cx="929.2" cy="731.8" r="15"/>
<circle cx="974" cy="668.9" r="15"/>
<circle cx="1198.2" cy="402.2" r="15"/>
<circle cx="962" cy="608.5" r="15"/>
<circle cx="1421.6" cy="326.6" r="15"/>
<circle cx="1522.1" cy="430.4" r="15"/>
<circle cx="1518.3" cy="447.9" r="15"/>
<circle cx="1563.8" cy="238.9" r="15"/>
<circle cx="1267.4" cy="448.8" r="15"/>
<circle cx="1214.6" cy="430.4" r="15"/>
<circle cx="1185.4" cy="436.5" r="15"/>
<circle cx="968" cy="673.5" r="15"/>
<circle cx="1019.9" cy="518.8" r="15"/>
<circle cx="1148.5" cy="442" r="15"/>
<circle cx="1147.6" cy="547.2" r="15"/>
<circle cx="1126.4" cy="517.3" r="15"/>
<circle cx="1398.2" cy="358.6" r="15"/>
<circle cx="1460.6" cy="311.6" r="15"/>
<circle cx="1339.5" cy="334.8" r="15"/>
<circle cx="922.4" cy="661.2" r="15"/>
<circle cx="1208.2" cy="370.8" r="15"/>
<circle cx="909.7" cy="773.9" r="15"/>
<circle cx="936.2" cy="661.6" r="15"/>
<circle cx="935.4" cy="704.6" r="15"/>
<circle cx="1518.1" cy="357.4" r="15"/>
<circle cx="1546.6" cy="398.6" r="15"/>
<circle cx="1564.6" cy="371.8" r="15"/>
<circle cx="902.2" cy="695" r="15"/>
<circle cx="1326.8" cy="400.4" r="15"/>
<circle cx="1448.7" cy="330.5" r="15"/>
<circle cx="1051" cy="532.2" r="15"/>
<circle cx="1155.7" cy="424.6" r="15"/>
<circle cx="1328" cy="420.8" r="15"/>
<circle cx="1113.5" cy="524.6" r="15"/>
<circle cx="921.2" cy="745.5" r="15"/>
<circle cx="901.8" cy="754.3" r="15"/>
<circle cx="916.5" cy="728.3" r="15"/>
<circle cx="929.9" cy="665.2" r="15"/>
<circle cx="1223.3" cy="521.5" r="15"/>
<circle cx="1483.1" cy="462.5" r="15"/>
<circle cx="929.7" cy="683.2" r="15"/>
<circle cx="1441.3" cy="293.5" r="15"/>
<circle cx="906.4" cy="707.1" r="15"/>
<circle cx="912.7" cy="733.8" r="15"/>
<circle cx="1184" cy="521.8" r="15"/>
<circle cx="981.1" cy="669.9" r="15"/>
<circle cx="1406" cy="356.9" r="15"/>
<circle cx="934.8" cy="655.1" r="15"/>
<circle cx="1356.6" cy="452.6" r="15"/>
<circle cx="1081.8" cy="507.2" r="15"/>
<circle cx="1038" cy="573.8" r="15"/>
<circle cx="1328.2" cy="439.3" r="15"/>
<circle cx="978.9" cy="600.6" r="15"/>
<circle cx="1019.6" cy="581.8" r="15"/>
<circle cx="933.8" cy="760.1" r="15"/>
<circle cx="1349.8" cy="348.3" r="15"/>
<circle cx="1444" cy="437.7" r="15"/>
<circle cx="989.2" cy="725.7" r="15"/>
<circle cx="1091.7" cy="515.2" r="15"/>
<circle cx="915.3" cy="715.6" r="15"/>
<circle cx="1487.4" cy="349.3" r="15"/>
<circle cx="1146.1" cy="483.2" r="15"/>
<circle cx="922.8" cy="704.1" r="15"/>
<circle cx="1557.7" cy="204.1" r="15"/>
<circle cx="1271.4" cy="436.9" r="15"/>
<circle cx="913.3" cy="747.2" r="15"/>
<circle cx="1132.3" cy="446.7" r="15"/>
<circle cx="1341.6" cy="328.4" r="15"/>
<circle cx="897.6" cy="733.3" r="15"/>
<circle cx="883.7" cy="809.1" r="15"/>
<circle cx="901" cy="796.8" r="15"/>
<circle cx="904.1" cy="722.7" r="15"/>
<circle cx="926.6" cy="698.1" r="15"/>
<circle cx="885.3" cy="785.3" r="15"/>
<circle cx="1031.9" cy="661.3" r="15"/>
<circle cx="937.9" cy="688.4" r="15"/>
<circle cx="891.2" cy="730.9" r="15"/>
<circle cx="1434.6" cy="429.3" r="15"/>
<circle cx="887.3" cy="724.1" r="15"/>
<circle cx="1422.7" cy="333.2" r="15"/>
<circle cx="932.7" cy="737.3" r="15"/>
<circle cx="884.4" cy="736.2" r="15"/>
<circle cx="1457.9" cy="303" r="15"/>
<circle cx="892.8" cy="764.8" r="15"/>
<circle cx="915.9" cy="771" r="15"/>
<circle cx="1142.1" cy="541.7" r="15"/>
<circle cx="896.3" cy="711.1" r="15"/>
<circle cx="1377.5" cy="418.3" r="15"/>
<circle cx="1353.4" cy="358.4" r="15"/>
<circle cx="1148.4" cy="418.3" r="15"/>
<circle cx="884.1" cy="772.2" r="15"/>
<circle cx="867.1" cy="808.8" r="15"/>
<circle cx="956.5" cy="618.1" r="15"/>
<circle cx="1161" cy="449.7" r="15"/>
<circle cx="888" cy="748.8" r="15"/>
<circle cx="937.6" cy="632.5" r="15"/>
<circle cx="896.9" cy="747" r="15"/>
<circle cx="907.9" cy="762.8" r="15"/>
<circle cx="1435.7" cy="370.9" r="15"/>
<circle cx="903.5" cy="777.2" r="15"/>
<circle cx="927.6" cy="781.7" r="15"/>
<circle cx="873.6" cy="757.5" r="15"/>
<circle cx="1385.2" cy="309.9" r="15"/>
<circle cx="856.7" cy="818.7" r="15"/>
<circle cx="934.3" cy="779.1" r="15"/>
<circle cx="854.5" cy="787" r="15"/>
<circle cx="1161.5" cy="512.7" r="15"/>
<circle cx="1238.7" cy="474.8" r="15"/>
<circle cx="913.2" cy="687.8" r="15"/>
<circle cx="1472.4" cy="287.1" r="15"/>
<circle cx="878" cy="805.6" r="15"/>
<circle cx="895.4" cy="739.9" r="15"/>
<circle cx="909.8" cy="754.1" r="15"/>
<circle cx="1170.3" cy="543.3" r="15"/>
<circle cx="896.5" cy="718.8" r="15"/>
<circle cx="1557.2" cy="292.5" r="15"/>
<circle cx="917.8" cy="763.7" r="15"/>
<circle cx="975.4" cy="739.7" r="15"/>
<circle cx="939.7" cy="735.4" r="15"/>
<circle cx="951.1" cy="703.7" r="15"/>
<circle cx="956.2" cy="734.6" r="15"/>
<circle cx="1218.6" cy="530.7" r="15"/>
<circle cx="877.7" cy="743.5" r="15"/>
<circle cx="869.9" cy="728.4" r="15"/>
<circle cx="913.2" cy="676" r="15"/>
<circle cx="919.2" cy="738.9" r="15"/>
<circle cx="867.8" cy="775.6" r="15"/>
<circle cx="849.4" cy="833.2" r="15"/>
<circle cx="910" cy="780.4" r="15"/>
<circle cx="928.9" cy="764.9" r="15"/>
<circle cx="973.9" cy="595.7" r="15"/>
<circle cx="871.5" cy="721.3" r="15"/>
<circle cx="867.3" cy="821.1" r="15"/>
<circle cx="867.8" cy="746.9" r="15"/>
<circle cx="961.3" cy="728.9" r="15"/>
<circle cx="849.6" cy="771.8" r="15"/>
<circle cx="859.6" cy="826.1" r="15"/>
<circle cx="855.7" cy="778.7" r="15"/>
<circle cx="832" cy="771.3" r="15"/>
<circle cx="828" cy="763.2" r="15"/>
<circle cx="287.6" cy="1056.6" r="15"/>
<circle cx="284.4" cy="1062.6" r="15"/>
<circle cx="283.7" cy="1071.6" r="15"/>
<circle cx="293.6" cy="1062.7" r="15"/>
<circle cx="297.2" cy="1074.8" r="15"/>
<circle cx="289.9" cy="1068.1" r="15"/>
<circle cx="854.4" cy="739" r="15"/>
<circle cx="900.5" cy="763.8" r="15"/>
<circle cx="303.2" cy="1054.7" r="15"/>
<circle cx="299.3" cy="1068" r="15"/>
<circle cx="294.8" cy="1056" r="15"/>
<circle cx="1221.3" cy="513.6" r="15"/>
<circle cx="313.1" cy="1064.1" r="15"/>
<circle cx="309.6" cy="1074.2" r="15"/>
<circle cx="305.6" cy="1065.2" r="15"/>
<circle cx="844.8" cy="790.2" r="15"/>
<circle cx="313.8" cy="1053.8" r="15"/>
<circle cx="321" cy="1061.6" r="15"/>
<circle cx="826.9" cy="753.5" r="15"/>
<circle cx="323" cy="1052.7" r="15"/>
<circle cx="317.4" cy="1072.7" r="15"/>
<circle cx="842.6" cy="804.7" r="15"/>
<circle cx="329.1" cy="1060.7" r="15"/>
<circle cx="324.7" cy="1072.3" r="15"/>
<circle cx="335" cy="1069.9" r="15"/>
<circle cx="333.1" cy="1051.5" r="15"/>
<circle cx="338.5" cy="1057.3" r="15"/>
<circle cx="342.1" cy="1068.8" r="15"/>
<circle cx="341.5" cy="1049.9" r="15"/>
<circle cx="349.4" cy="1050.5" r="15"/>
<circle cx="345.5" cy="1060.2" r="15"/>
<circle cx="350.3" cy="1067.5" r="15"/>
<circle cx="352.1" cy="1059" r="15"/>
<circle cx="359.5" cy="1060.3" r="15"/>
<circle cx="359.4" cy="1048.8" r="15"/>
<circle cx="361.7" cy="1067.1" r="15"/>
<circle cx="369.3" cy="1067.1" r="15"/>
<circle cx="839.8" cy="779.3" r="15"/>
<circle cx="373.2" cy="1056.2" r="15"/>
<circle cx="366.2" cy="1061.1" r="15"/>
<circle cx="366.4" cy="1051.8" r="15"/>
<circle cx="373.2" cy="1048.3" r="15"/>
<circle cx="819.2" cy="860.1" r="15"/>
<circle cx="378.7" cy="1065.6" r="15"/>
<circle cx="382.6" cy="1058.4" r="15"/>
<circle cx="382.6" cy="1046.7" r="15"/>
<circle cx="379.4" cy="1052.5" r="15"/>
<circle cx="390.2" cy="1046.1" r="15"/>
<circle cx="836.5" cy="818.3" r="15"/>
<circle cx="397.4" cy="1068" r="15"/>
<circle cx="389.6" cy="1057.7" r="15"/>
<circle cx="388.2" cy="1065.6" r="15"/>
<circle cx="395.9" cy="1055.4" r="15"/>
<circle cx="405.8" cy="1043.5" r="15"/>
<circle cx="397.5" cy="1045.5" r="15"/>
<circle cx="401.1" cy="1060" r="15"/>
<circle cx="406.2" cy="1069.1" r="15"/>
<circle cx="410.3" cy="1050.9" r="15"/>
<circle cx="411" cy="1059.9" r="15"/>
<circle cx="415.2" cy="1046.4" r="15"/>
<circle cx="403.9" cy="1053.4" r="15"/>
<circle cx="415.2" cy="1039.5" r="15"/>
<circle cx="417.9" cy="1063.1" r="15"/>
<circle cx="416.2" cy="1069.5" r="15"/>
<circle cx="421.6" cy="1046.9" r="15"/>
<circle cx="423.2" cy="1067.5" r="15"/>
<circle cx="418" cy="1053.5" r="15"/>
<circle cx="814.5" cy="800.5" r="15"/>
<circle cx="428.7" cy="1061.4" r="15"/>
<circle cx="435.1" cy="1059.7" r="15"/>
<circle cx="425.8" cy="1054.4" r="15"/>
<circle cx="431" cy="1045.1" r="15"/>
<circle cx="435.1" cy="1039.8" r="15"/>
<circle cx="424" cy="1039.9" r="15"/>
<circle cx="431.6" cy="1067.3" r="15"/>
<circle cx="436.7" cy="1052.4" r="15"/>
<circle cx="439.2" cy="1065.9" r="15"/>
<circle cx="445.8" cy="1032.9" r="15"/>
<circle cx="441.7" cy="1045.3" r="15"/>
<circle cx="445.9" cy="1050.5" r="15"/>
<circle cx="448.1" cy="1064.1" r="15"/>
<circle cx="438.5" cy="1033.6" r="15"/>
<circle cx="444.9" cy="1057.2" r="15"/>
<circle cx="450.1" cy="1041.4" r="15"/>
<circle cx="458" cy="1061.6" r="15"/>
<circle cx="458.2" cy="1033.4" r="15"/>
<circle cx="452.1" cy="1056.3" r="15"/>
<circle cx="461.7" cy="1042.9" r="15"/>
<circle cx="456.4" cy="1048.8" r="15"/>
<circle cx="474.6" cy="1045.7" r="15"/>
<circle cx="460.8" cy="1054.7" r="15"/>
<circle cx="470.1" cy="1059" r="15"/>
<circle cx="472.9" cy="1038.3" r="15"/>
<circle cx="479.6" cy="1021.3" r="15"/>
<circle cx="477.5" cy="1056.7" r="15"/>
<circle cx="479.2" cy="1029.5" r="15"/>
<circle cx="466.1" cy="1031.4" r="15"/>
<circle cx="481.1" cy="1051.2" r="15"/>
<circle cx="862.9" cy="815.8" r="15"/>
<circle cx="472.5" cy="1026.5" r="15"/>
<circle cx="487.4" cy="1054.3" r="15"/>
<circle cx="486.4" cy="1017.6" r="15"/>
<circle cx="858" cy="745.4" r="15"/>
<circle cx="479.3" cy="1040.2" r="15"/>
<circle cx="484.8" cy="1044.2" r="15"/>
<circle cx="487.4" cy="1031.7" r="15"/>
<circle cx="873.9" cy="817.5" r="15"/>
<circle cx="495.1" cy="1012" r="15"/>
<circle cx="486.6" cy="1024.2" r="15"/>
<circle cx="494.3" cy="1019.4" r="15"/>
<circle cx="493.5" cy="1026.6" r="15"/>
<circle cx="494.4" cy="1052.8" r="15"/>
<circle cx="503.6" cy="1008" r="15"/>
<circle cx="497.2" cy="1046" r="15"/>
<circle cx="505.5" cy="1020.1" r="15"/>
<circle cx="502.6" cy="1042.2" r="15"/>
<circle cx="510" cy="1041.7" r="15"/>
<circle cx="505.5" cy="1048.7" r="15"/>
<circle cx="504.8" cy="1035" r="15"/>
<circle cx="508.3" cy="1012.9" r="15"/>
<circle cx="512.9" cy="1019.8" r="15"/>
<circle cx="873.2" cy="766.2" r="15"/>
<circle cx="515.9" cy="1001.2" r="15"/>
<circle cx="510.5" cy="1006.5" r="15"/>
<circle cx="510.1" cy="1030.1" r="15"/>
<circle cx="513.5" cy="1036.2" r="15"/>
<circle cx="520.5" cy="1027.9" r="15"/>
<circle cx="515.7" cy="1046" r="15"/>
<circle cx="516.7" cy="1009.6" r="15"/>
<circle cx="523" cy="1000.3" r="15"/>
<circle cx="522.9" cy="1020.5" r="15"/>
<circle cx="526.1" cy="1036.6" r="15"/>
<circle cx="523.1" cy="1013.8" r="15"/>
<circle cx="526.2" cy="993.7" r="15"/>
<circle cx="524.2" cy="1042.9" r="15"/>
<circle cx="533.4" cy="1007.4" r="15"/>
<circle cx="529.8" cy="1014.5" r="15"/>
<circle cx="534.8" cy="1037.4" r="15"/>
<circle cx="538.2" cy="1002.3" r="15"/>
<circle cx="531.4" cy="998.9" r="15"/>
<circle cx="531.4" cy="1028.6" r="15"/>
<circle cx="836.8" cy="763.8" r="15"/>
<circle cx="537.4" cy="992.4" r="15"/>
<circle cx="540.3" cy="1028.9" r="15"/>
<circle cx="544.9" cy="990.7" r="15"/>
<circle cx="544.3" cy="997.8" r="15"/>
<circle cx="535.3" cy="1020.6" r="15"/>
<circle cx="547.9" cy="1015.3" r="15"/>
<circle cx="538.6" cy="1013.9" r="15"/>
<circle cx="544.9" cy="1021.2" r="15"/>
<circle cx="554" cy="1020.8" r="15"/>
<circle cx="544.4" cy="1006.8" r="15"/>
<circle cx="551.2" cy="995.9" r="15"/>
<circle cx="553.8" cy="989.6" r="15"/>
<circle cx="547.6" cy="1031.4" r="15"/>
<circle cx="812.6" cy="863.1" r="15"/>
<circle cx="559.8" cy="1027" r="15"/>
<circle cx="559" cy="994.1" r="15"/>
<circle cx="561.7" cy="985.8" r="15"/>
<circle cx="560.2" cy="1004.2" r="15"/>
<circle cx="811.2" cy="869.6" r="15"/>
<circle cx="556.6" cy="1011.3" r="15"/>
<circle cx="568.3" cy="1018.2" r="15"/>
<circle cx="561.7" cy="1016.3" r="15"/>
<circle cx="552.5" cy="1002.8" r="15"/>
<circle cx="569.8" cy="991.6" r="15"/>
<circle cx="575" cy="1022.7" r="15"/>
<circle cx="569.7" cy="976.3" r="15"/>
<circle cx="569" cy="984.4" r="15"/>
<circle cx="567.9" cy="1025.4" r="15"/>
<circle cx="568.2" cy="1010.4" r="15"/>
<circle cx="570.2" cy="999.7" r="15"/>
<circle cx="575.4" cy="1007.1" r="15"/>
<circle cx="832.4" cy="842.9" r="15"/>
<circle cx="583.1" cy="1021.6" r="15"/>
<circle cx="574.5" cy="1014.1" r="15"/>
<circle cx="576.1" cy="978.3" r="15"/>
<circle cx="581.5" cy="968.6" r="15"/>
<circle cx="582.5" cy="991.6" r="15"/>
<circle cx="578.5" cy="998.6" r="15"/>
<circle cx="578.9" cy="985" r="15"/>
<circle cx="588.5" cy="970.1" r="15"/>
<circle cx="582.8" cy="1010.5" r="15"/>
<circle cx="584.3" cy="1003.5" r="15"/>
<circle cx="584.3" cy="977.7" r="15"/>
<circle cx="587.4" cy="1016.1" r="15"/>
<circle cx="592.4" cy="964.1" r="15"/>
<circle cx="589.6" cy="982.7" r="15"/>
<circle cx="904.3" cy="731.7" r="15"/>
<circle cx="790.3" cy="842.3" r="15"/>
<circle cx="590.4" cy="994.6" r="15"/>
<circle cx="590.7" cy="1001.7" r="15"/>
<circle cx="591.8" cy="976.1" r="15"/>
<circle cx="595.3" cy="970" r="15"/>
<circle cx="599.1" cy="992.6" r="15"/>
<circle cx="598.1" cy="977.5" r="15"/>
<circle cx="597.6" cy="1002.5" r="15"/>
<circle cx="590" cy="1010.1" r="15"/>
<circle cx="594.9" cy="1016.3" r="15"/>
<circle cx="841.3" cy="836.6" r="15"/>
<circle cx="601.6" cy="971.9" r="15"/>
<circle cx="817.6" cy="793.8" r="15"/>
<circle cx="600.8" cy="1011.2" r="15"/>
<circle cx="598.9" cy="985.4" r="15"/>
<circle cx="611.6" cy="966.6" r="15"/>
<circle cx="607.1" cy="978.6" r="15"/>
<circle cx="607.4" cy="985.2" r="15"/>
<circle cx="607.2" cy="992.1" r="15"/>
<circle cx="608.3" cy="959.7" r="15"/>
<circle cx="601.9" cy="956" r="15"/>
<circle cx="608" cy="1006.2" r="15"/>
<circle cx="601.9" cy="962.9" r="15"/>
<circle cx="614.7" cy="978.9" r="15"/>
<circle cx="615.4" cy="956.9" r="15"/>
<circle cx="807.6" cy="837.1" r="15"/>
<circle cx="610.1" cy="951.1" r="15"/>
<circle cx="609.4" cy="998.5" r="15"/>
<circle cx="622.8" cy="964.3" r="15"/>
<circle cx="616.1" cy="998.7" r="15"/>
<circle cx="618.3" cy="970.8" r="15"/>
<circle cx="617.6" cy="990.3" r="15"/>
<circle cx="621.7" cy="982.3" r="15"/>
<circle cx="621.9" cy="957.2" r="15"/>
<circle cx="627.1" cy="937.5" r="15"/>
<circle cx="623.9" cy="974.8" r="15"/>
<circle cx="623.8" cy="995.5" r="15"/>
<circle cx="626.1" cy="989.3" r="15"/>
<circle cx="627.4" cy="947.8" r="15"/>
<circle cx="857" cy="729.7" r="15"/>
<circle cx="630.9" cy="965.7" r="15"/>
<circle cx="627.9" cy="954.6" r="15"/>
<circle cx="821.9" cy="759.5" r="15"/>
<circle cx="633.8" cy="957.7" r="15"/>
<circle cx="976.4" cy="613.8" r="15"/>
<circle cx="634.1" cy="975.5" r="15"/>
<circle cx="634.9" cy="989.2" r="15"/>
<circle cx="628.3" cy="981.8" r="15"/>
<circle cx="800.3" cy="809.4" r="15"/>
<circle cx="633.4" cy="950.6" r="15"/>
<circle cx="634.8" cy="933.2" r="15"/>
<circle cx="639.9" cy="949.7" r="15"/>
<circle cx="636.7" cy="942.8" r="15"/>
<circle cx="640.1" cy="967.9" r="15"/>
<circle cx="643.2" cy="956.4" r="15"/>
<circle cx="644.2" cy="927.8" r="15"/>
<circle cx="642.4" cy="934.1" r="15"/>
<circle cx="637.7" cy="982.5" r="15"/>
<circle cx="645.1" cy="983.1" r="15"/>
<circle cx="801" cy="853.2" r="15"/>
<circle cx="644.7" cy="940.4" r="15"/>
<circle cx="653.6" cy="970" r="15"/>
<circle cx="651.5" cy="943.3" r="15"/>
<circle cx="651.7" cy="920.9" r="15"/>
<circle cx="646.9" cy="976" r="15"/>
<circle cx="646.1" cy="947.7" r="15"/>
<circle cx="652.1" cy="958.8" r="15"/>
<circle cx="658.8" cy="965.3" r="15"/>
<circle cx="647.4" cy="964.3" r="15"/>
<circle cx="656.4" cy="926" r="15"/>
<circle cx="658.3" cy="915.6" r="15"/>
<circle cx="665.2" cy="926.3" r="15"/>
<circle cx="654.9" cy="949.9" r="15"/>
<circle cx="655.1" cy="977" r="15"/>
<circle cx="660.2" cy="932.9" r="15"/>
<circle cx="783.5" cy="821.6" r="15"/>
<circle cx="660.8" cy="953.6" r="15"/>
<circle cx="661.5" cy="946.3" r="15"/>
<circle cx="664.1" cy="938.3" r="15"/>
<circle cx="661.1" cy="972.7" r="15"/>
<circle cx="657.8" cy="940.8" r="15"/>
<circle cx="668.8" cy="958.9" r="15"/>
<circle cx="666.3" cy="907.4" r="15"/>
<circle cx="792.4" cy="871.5" r="15"/>
<circle cx="671.7" cy="938.2" r="15"/>
<circle cx="671.3" cy="928.8" r="15"/>
<circle cx="669.7" cy="945.6" r="15"/>
<circle cx="795.1" cy="837" r="15"/>
<circle cx="674.5" cy="923.2" r="15"/>
<circle cx="674.5" cy="965.3" r="15"/>
<circle cx="671.4" cy="902.5" r="15"/>
<circle cx="679.3" cy="918.6" r="15"/>
<circle cx="669.4" cy="917.1" r="15"/>
<circle cx="681.7" cy="927.1" r="15"/>
<circle cx="678.8" cy="933.6" r="15"/>
<circle cx="800.4" cy="832.6" r="15"/>
<circle cx="672.7" cy="910.1" r="15"/>
<circle cx="677" cy="896.6" r="15"/>
<circle cx="785.1" cy="879.7" r="15"/>
<circle cx="685.5" cy="920.6" r="15"/>
<circle cx="686" cy="913.3" r="15"/>
<circle cx="686.3" cy="957.7" r="15"/>
<circle cx="684.2" cy="891.1" r="15"/>
<circle cx="680.4" cy="902.4" r="15"/>
<circle cx="680.6" cy="950.5" r="15"/>
<circle cx="676.6" cy="958.4" r="15"/>
<circle cx="680" cy="910.1" r="15"/>
<circle cx="890" cy="775.1" r="15"/>
<circle cx="687.6" cy="933.3" r="15"/>
<circle cx="688.2" cy="904.2" r="15"/>
<circle cx="689.5" cy="926.7" r="15"/>
<circle cx="861.2" cy="802.6" r="15"/>
<circle cx="695.6" cy="913.5" r="15"/>
<circle cx="696.2" cy="951.6" r="15"/>
<circle cx="693.5" cy="891.7" r="15"/>
<circle cx="692.1" cy="920.8" r="15"/>
<circle cx="686.2" cy="897.6" r="15"/>
<circle cx="697.4" cy="934.3" r="15"/>
<circle cx="832.9" cy="783.5" r="15"/>
<circle cx="690.7" cy="941.1" r="15"/>
<circle cx="806" cy="864" r="15"/>
<circle cx="695.3" cy="903.1" r="15"/>
<circle cx="689.6" cy="949.1" r="15"/>
<circle cx="699.4" cy="878.5" r="15"/>
<circle cx="702.2" cy="915.8" r="15"/>
<circle cx="706.3" cy="928.7" r="15"/>
<circle cx="702.4" cy="903.6" r="15"/>
<circle cx="709.2" cy="897" r="15"/>
<circle cx="700.3" cy="886.2" r="15"/>
<circle cx="698.2" cy="945.3" r="15"/>
<circle cx="743.6" cy="897.6" r="15"/>
<circle cx="708.4" cy="871.1" r="15"/>
<circle cx="714.5" cy="880.8" r="15"/>
<circle cx="893.9" cy="780.6" r="15"/>
<circle cx="721.3" cy="905.5" r="15"/>
<circle cx="705.6" cy="939.4" r="15"/>
<circle cx="707.5" cy="886.4" r="15"/>
<circle cx="706.6" cy="910.9" r="15"/>
<circle cx="714.1" cy="866.1" r="15"/>
<circle cx="768.7" cy="879" r="15"/>
<circle cx="714.9" cy="916.4" r="15"/>
<circle cx="721.1" cy="886" r="15"/>
<circle cx="775.8" cy="869.6" r="15"/>
<circle cx="715.7" cy="890.4" r="15"/>
<circle cx="708.9" cy="921.1" r="15"/>
<circle cx="708.1" cy="945.9" r="15"/>
<circle cx="714.6" cy="924.8" r="15"/>
<circle cx="713.4" cy="906.8" r="15"/>
<circle cx="756.4" cy="870.6" r="15"/>
<circle cx="725.6" cy="880.9" r="15"/>
<circle cx="725.6" cy="923.6" r="15"/>
<circle cx="729.1" cy="875" r="15"/>
<circle cx="723" cy="869.6" r="15"/>
<circle cx="718.1" cy="896.5" r="15"/>
<circle cx="790" cy="884.2" r="15"/>
<circle cx="725.8" cy="910.7" r="15"/>
<circle cx="715.3" cy="936.1" r="15"/>
<circle cx="740" cy="862.3" r="15"/>
<circle cx="735.3" cy="897.5" r="15"/>
<circle cx="715.8" cy="874" r="15"/>
<circle cx="808.9" cy="807.5" r="15"/>
<circle cx="724" cy="935.1" r="15"/>
<circle cx="722.3" cy="859.4" r="15"/>
<circle cx="718.9" cy="942.1" r="15"/>
<circle cx="729.2" cy="929.4" r="15"/>
<circle cx="748.9" cy="911.1" r="15"/>
<circle cx="733" cy="910.8" r="15"/>
<circle cx="733.6" cy="904.2" r="15"/>
<circle cx="733.8" cy="870.3" r="15"/>
<circle cx="761.9" cy="882.9" r="15"/>
<circle cx="727.5" cy="888.9" r="15"/>
<circle cx="854.8" cy="764.3" r="15"/>
<circle cx="783.8" cy="843.3" r="15"/>
<circle cx="754.9" cy="852.9" r="15"/>
<circle cx="776.7" cy="814.9" r="15"/>
<circle cx="731.8" cy="851.1" r="15"/>
<circle cx="738.9" cy="844.8" r="15"/>
<circle cx="803.9" cy="825.8" r="15"/>
<circle cx="759.1" cy="877" r="15"/>
<circle cx="752.6" cy="843.5" r="15"/>
<circle cx="826" cy="822.3" r="15"/>
<circle cx="763.9" cy="902.2" r="15"/>
<circle cx="729" cy="857.1" r="15"/>
<circle cx="744" cy="904.5" r="15"/>
<circle cx="736.6" cy="855.8" r="15"/>
<circle cx="763.4" cy="835.4" r="15"/>
<circle cx="763.7" cy="895.4" r="15"/>
<circle cx="725.1" cy="898.3" r="15"/>
<circle cx="734" cy="883.2" r="15"/>
<circle cx="742.5" cy="915.2" r="15"/>
<circle cx="750.2" cy="836.2" r="15"/>
<circle cx="751.5" cy="878" r="15"/>
<circle cx="743.7" cy="839.7" r="15"/>
<circle cx="772" cy="862.8" r="15"/>
<circle cx="762.8" cy="850.5" r="15"/>
<circle cx="735.3" cy="921" r="15"/>
<circle cx="749" cy="849" r="15"/>
<circle cx="749.9" cy="871" r="15"/>
<circle cx="731.9" cy="863.4" r="15"/>
<circle cx="740.4" cy="875.6" r="15"/>
<circle cx="739.1" cy="891.6" r="15"/>
<circle cx="753.7" cy="898.4" r="15"/>
<circle cx="772.5" cy="894.9" r="15"/>
<circle cx="790.1" cy="800.2" r="15"/>
<circle cx="759" cy="844.9" r="15"/>
<circle cx="749.9" cy="860.1" r="15"/>
<circle cx="759.2" cy="828.1" r="15"/>
<circle cx="776.8" cy="884.3" r="15"/>
<circle cx="752.7" cy="888.2" r="15"/>
<circle cx="800.8" cy="787.1" r="15"/>
<circle cx="787.3" cy="866.4" r="15"/>
<circle cx="770.6" cy="849.9" r="15"/>
<circle cx="826.9" cy="831.2" r="15"/>
<circle cx="743.8" cy="886" r="15"/>
<circle cx="756.1" cy="906.9" r="15"/>
<circle cx="756.6" cy="836.8" r="15"/>
<circle cx="874.7" cy="778.9" r="15"/>
<circle cx="762.6" cy="858.6" r="15"/>
<circle cx="756.5" cy="863.9" r="15"/>
<circle cx="759.2" cy="889.9" r="15"/>
<circle cx="763.9" cy="865.6" r="15"/>
<circle cx="824.1" cy="851.4" r="15"/>
<circle cx="781.3" cy="836.2" r="15"/>
<circle cx="772.6" cy="837.8" r="15"/>
<circle cx="744.4" cy="854.4" r="15"/>
<circle cx="787.6" cy="833.3" r="15"/>
<circle cx="786.8" cy="858.8" r="15"/>
<circle cx="826.4" cy="800.4" r="15"/>
<circle cx="767.7" cy="886.6" r="15"/>
<circle cx="766.3" cy="843.4" r="15"/>
<circle cx="797.7" cy="877.5" r="15"/>
<circle cx="807.3" cy="784.7" r="15"/>
<circle cx="776.5" cy="827.4" r="15"/>
<circle cx="789.3" cy="817.7" r="15"/>
<circle cx="767.8" cy="872.2" r="15"/>
<circle cx="792.6" cy="806.6" r="15"/>
<circle cx="777.1" cy="845.6" r="15"/>
<circle cx="833" cy="757.6" r="15"/>
<circle cx="867.3" cy="799.7" r="15"/>
<circle cx="816.1" cy="849.5" r="15"/>
<circle cx="838.5" cy="794.3" r="15"/>
<circle cx="777.1" cy="857.1" r="15"/>
<circle cx="785" cy="872.9" r="15"/>
<circle cx="824.4" cy="808.4" r="15"/>
<circle cx="839.2" cy="742.9" r="15"/>
<circle cx="785.4" cy="850.2" r="15"/>
<circle cx="839.2" cy="753.5" r="15"/>
<circle cx="795" cy="813.5" r="15"/>
<circle cx="793.7" cy="848.5" r="15"/>
<circle cx="776.8" cy="877" r="15"/>
<circle cx="801.1" cy="800.1" r="15"/>
<circle cx="816.3" cy="842.9" r="15"/>
<circle cx="796.2" cy="822.8" r="15"/>
<circle cx="814.3" cy="835.9" r="15"/>
<circle cx="801.8" cy="818.9" r="15"/>
<circle cx="834.7" cy="799.8" r="15"/>
<circle cx="800.5" cy="859.9" r="15"/>
<circle cx="818.1" cy="825.6" r="15"/>
<circle cx="793.5" cy="862.4" r="15"/>
<circle cx="790.1" cy="825.7" r="15"/>
<circle cx="805.2" cy="793.2" r="15"/>
<circle cx="793.7" cy="855.5" r="15"/>
<circle cx="869" cy="790" r="15"/>
<circle cx="843.4" cy="828.6" r="15"/>
<circle cx="809.1" cy="817.9" r="15"/>
<circle cx="784.4" cy="807.5" r="15"/>
<circle cx="817.6" cy="818.8" r="15"/>
<circle cx="825.1" cy="840.8" r="15"/>
<circle cx="896.4" cy="698.1" r="15"/>
<circle cx="817.7" cy="810.4" r="15"/>
<circle cx="832.4" cy="748.5" r="15"/>
<circle cx="811.4" cy="828.8" r="15"/>
<circle cx="799.5" cy="870.3" r="15"/>
<circle cx="852.9" cy="804.1" r="15"/>
<circle cx="818.9" cy="774.8" r="15"/>
<circle cx="856" cy="797.6" r="15"/>
<circle cx="834.4" cy="806.8" r="15"/>
<circle cx="814.2" cy="780.7" r="15"/>
<circle cx="852.6" cy="824.2" r="15"/>
<circle cx="807.6" cy="799.7" r="15"/>
<circle cx="842.5" cy="821.5" r="15"/>
<circle cx="804.8" cy="874.5" r="15"/>
<circle cx="859.2" cy="757" r="15"/>
<circle cx="1051.8" cy="659.4" r="15"/>
<circle cx="1405.8" cy="372.9" r="15"/>
<circle cx="845.2" cy="760.6" r="15"/>
<circle cx="890.3" cy="703.6" r="15"/>
<circle cx="877.4" cy="734.4" r="15"/>
<circle cx="808.2" cy="777.9" r="15"/>
<circle cx="833.6" cy="833.2" r="15"/>
<circle cx="824" cy="791.9" r="15"/>
<circle cx="826.5" cy="776.9" r="15"/>
<circle cx="1257.3" cy="362.1" r="15"/>
<circle cx="881.1" cy="754.4" r="15"/>
<circle cx="928.6" cy="647.1" r="15"/>
<circle cx="830.8" cy="794.5" r="15"/>
<circle cx="842.5" cy="811.2" r="15"/>
<circle cx="840.8" cy="771.8" r="15"/>
<circle cx="864.9" cy="762.1" r="15"/>
<circle cx="928.4" cy="690.2" r="15"/>
<circle cx="1132.6" cy="494.2" r="15"/>
<circle cx="847.9" cy="816.1" r="15"/>
<circle cx="846.7" cy="782.9" r="15"/>
<circle cx="991.5" cy="564.8" r="15"/>
<circle cx="859.7" cy="809.6" r="15"/>
<circle cx="909" cy="681.9" r="15"/>
<circle cx="862.5" cy="781.7" r="15"/>
<circle cx="1563.1" cy="87.3" r="15"/>
<circle cx="844.8" cy="796.9" r="15"/>
<circle cx="923.5" cy="715.2" r="15"/>
<circle cx="892.8" cy="787.4" r="15"/>
<circle cx="829" cy="815" r="15"/>
<circle cx="835.8" cy="825.4" r="15"/>
<circle cx="918.8" cy="721.3" r="15"/>
<circle cx="863.1" cy="792.9" r="15"/>
<circle cx="850.8" cy="793.1" r="15"/>
<circle cx="885.3" cy="762.4" r="15"/>
<circle cx="864.6" cy="723.8" r="15"/>
<circle cx="850.6" cy="733.2" r="15"/>
<circle cx="1401" cy="389.9" r="15"/>
<circle cx="852.7" cy="755.1" r="15"/>
<circle cx="944.8" cy="657" r="15"/>
<circle cx="930.6" cy="674.6" r="15"/>
<circle cx="896.3" cy="772.5" r="15"/>
<circle cx="849.9" cy="809.9" r="15"/>
<circle cx="876.5" cy="727.2" r="15"/>
<circle cx="884.9" cy="796.1" r="15"/>
<circle cx="1093.1" cy="578.7" r="15"/>
<circle cx="1553.1" cy="401" r="15"/>
<circle cx="882.3" cy="711.8" r="15"/>
<circle cx="879.9" cy="719" r="15"/>
<circle cx="1530.7" cy="361.7" r="15"/>
<circle cx="904.8" cy="769.5" r="15"/>
<circle cx="873.9" cy="799.8" r="15"/>
<circle cx="869.1" cy="783.3" r="15"/>
<circle cx="1347.2" cy="366.9" r="15"/>
<circle cx="869.7" cy="736.9" r="15"/>
<circle cx="882.2" cy="779.2" r="15"/>
<circle cx="900" cy="789.9" r="15"/>
<circle cx="876.9" cy="772.2" r="15"/>
<circle cx="940.9" cy="749.6" r="15"/>
<circle cx="859.8" cy="771.6" r="15"/>
<circle cx="893.1" cy="794.5" r="15"/>
<circle cx="1524.7" cy="377" r="15"/>
<circle cx="1306.1" cy="369.7" r="15"/>
<circle cx="1480.3" cy="402.4" r="15"/>
<circle cx="1566.4" cy="265.4" r="15"/>
<circle cx="1428.5" cy="308.5" r="15"/>
<circle cx="888.6" cy="741.4" r="15"/>
<circle cx="1331.7" cy="375.3" r="15"/>
<circle cx="917" cy="669.3" r="15"/>
<circle cx="889.3" cy="710.5" r="15"/>
<circle cx="982" cy="583.9" r="15"/>
<circle cx="980.9" cy="622.1" r="15"/>
<circle cx="952.2" cy="749.1" r="15"/>
<circle cx="1349.1" cy="456.9" r="15"/>
<circle cx="935" cy="767.6" r="15"/>
<circle cx="900.1" cy="704.3" r="15"/>
<circle cx="1543.1" cy="437.7" r="15"/>
<circle cx="1128.2" cy="509.6" r="15"/>
<circle cx="1094.8" cy="624" r="15"/>
<circle cx="1047" cy="626.6" r="15"/>
<circle cx="911.9" cy="723.5" r="15"/>
<circle cx="876.2" cy="789" r="15"/>
<circle cx="892.1" cy="756.4" r="15"/>
<circle cx="887.3" cy="717.1" r="15"/>
<circle cx="1230.9" cy="418.6" r="15"/>
<circle cx="891.7" cy="801.6" r="15"/>
<circle cx="1565.9" cy="173.4" r="15"/>
<circle cx="919.9" cy="696.5" r="15"/>
<circle cx="904.3" cy="714.5" r="15"/>
<circle cx="914.1" cy="709.2" r="15"/>
<circle cx="874.2" cy="811" r="15"/>
<circle cx="1202.8" cy="419.6" r="15"/>
<circle cx="1368.4" cy="430.1" r="15"/>
<circle cx="1085.5" cy="548.7" r="15"/>
<circle cx="1410.9" cy="473.9" r="15"/>
<circle cx="1567.5" cy="381.9" r="15"/>
<circle cx="914.6" cy="789.4" r="15"/>
<circle cx="1220.8" cy="458.5" r="15"/>
<circle cx="1369.3" cy="422.9" r="15"/>
<circle cx="1142.1" cy="439.1" r="15"/>
<circle cx="906" cy="700.5" r="15"/>
<circle cx="904.7" cy="688.2" r="15"/>
<circle cx="921.2" cy="784.9" r="15"/>
<circle cx="1319.6" cy="404.7" r="15"/>
<circle cx="1458.2" cy="345.4" r="15"/>
<circle cx="1376.4" cy="479" r="15"/>
<circle cx="975.6" cy="662.3" r="15"/>
<circle cx="1033.7" cy="600.7" r="15"/>
<circle cx="920.1" cy="687.3" r="15"/>
<circle cx="1023.9" cy="540.1" r="15"/>
<circle cx="1561.9" cy="407" r="15"/>
<circle cx="974.9" cy="709.3" r="15"/>
<circle cx="1228.5" cy="393.8" r="15"/>
<circle cx="926.5" cy="739.9" r="15"/>
<circle cx="913" cy="702.7" r="15"/>
<circle cx="1174.2" cy="486.7" r="15"/>
<circle cx="897.2" cy="726.2" r="15"/>
<circle cx="904.9" cy="748.2" r="15"/>
<circle cx="1471" cy="451.3" r="15"/>
<circle cx="1120.5" cy="568.6" r="15"/>
<circle cx="980.9" cy="607.5" r="15"/>
<circle cx="1027" cy="553.8" r="15"/>
<circle cx="1158.9" cy="546.9" r="15"/>
<circle cx="904.9" cy="785.3" r="15"/>
<circle cx="918.8" cy="752.4" r="15"/>
<circle cx="933.3" cy="726.6" r="15"/>
<circle cx="935.3" cy="648.4" r="15"/>
<circle cx="940.5" cy="742.4" r="15"/>
<circle cx="1164.4" cy="533.6" r="15"/>
<circle cx="1163.1" cy="427.8" r="15"/>
<circle cx="927.1" cy="772.2" r="15"/>
<circle cx="1365" cy="365.6" r="15"/>
<circle cx="1229.3" cy="490.8" r="15"/>
<circle cx="1200.3" cy="383" r="15"/>
<circle cx="1245" cy="442" r="15"/>
<circle cx="1377.9" cy="388.4" r="15"/>
<circle cx="1458" cy="453.9" r="15"/>
<circle cx="926.1" cy="655.1" r="15"/>
<circle cx="1570.5" cy="400.9" r="15"/>
<circle cx="1236.1" cy="441.1" r="15"/>
<circle cx="1195.5" cy="464.3" r="15"/>
<circle cx="925.6" cy="722.6" r="15"/>
<circle cx="1150.2" cy="499.4" r="15"/>
<circle cx="939.3" cy="710.2" r="15"/>
<circle cx="922.3" cy="732.3" r="15"/>
<circle cx="1335.8" cy="393.6" r="15"/>
<circle cx="1469.3" cy="396.8" r="15"/>
<circle cx="1004.7" cy="573.3" r="15"/>
<circle cx="964.7" cy="624.1" r="15"/>
<circle cx="907" cy="792.8" r="15"/>
<circle cx="1485.8" cy="447.1" r="15"/>
<circle cx="1285.4" cy="437.9" r="15"/>
<circle cx="1214.7" cy="405.3" r="15"/>
<circle cx="1325" cy="409.3" r="15"/>
<circle cx="1070.2" cy="605.1" r="15"/>
<circle cx="1339.6" cy="361.3" r="15"/>
<circle cx="1128.3" cy="545.5" r="15"/>
<circle cx="942.5" cy="693.8" r="15"/>
<circle cx="1003.3" cy="586.1" r="15"/>
<circle cx="981.1" cy="629" r="15"/>
<circle cx="1446.2" cy="444.5" r="15"/>
<circle cx="1474.3" cy="467.1" r="15"/>
<circle cx="1576.1" cy="252.8" r="15"/>
<circle cx="948" cy="667.2" r="15"/>
<circle cx="920.6" cy="775.7" r="15"/>
<circle cx="1451.2" cy="396" r="15"/>
<circle cx="949.6" cy="642.6" r="15"/>
<circle cx="981.9" cy="682.7" r="15"/>
<circle cx="1486.7" cy="386.2" r="15"/>
<circle cx="932.1" cy="718.2" r="15"/>
<circle cx="983.9" cy="649.2" r="15"/>
<circle cx="940.2" cy="640" r="15"/>
<circle cx="1254.2" cy="401.7" r="15"/>
<circle cx="1288.5" cy="430.5" r="15"/>
<circle cx="1041" cy="511.3" r="15"/>
<circle cx="1287.1" cy="420.5" r="15"/>
<circle cx="953.2" cy="717.3" r="15"/>
<circle cx="1522.1" cy="403.8" r="15"/>
<circle cx="1427.9" cy="298.2" r="15"/>
<circle cx="965.2" cy="723.2" r="15"/>
<circle cx="1229.7" cy="482.8" r="15"/>
<circle cx="1478.8" cy="347.1" r="15"/>
<circle cx="1504.3" cy="339.7" r="15"/>
<circle cx="990.5" cy="651.4" r="15"/>
<circle cx="1226.7" cy="424.3" r="15"/>
<circle cx="1076.1" cy="546.9" r="15"/>
<circle cx="1062.2" cy="528.6" r="15"/>
<circle cx="1259" cy="378.5" r="15"/>
<circle cx="1214.7" cy="462.1" r="15"/>
<circle cx="1319.2" cy="424.7" r="15"/>
<circle cx="1543" cy="431" r="15"/>
<circle cx="949.7" cy="691.6" r="15"/>
<circle cx="933.2" cy="640.9" r="15"/>
<circle cx="1483.9" cy="342.4" r="15"/>
<circle cx="1289.1" cy="497.1" r="15"/>
<circle cx="1303.9" cy="420.7" r="15"/>
<circle cx="1138.3" cy="410.4" r="15"/>
<circle cx="1221.1" cy="440.4" r="15"/>
<circle cx="1359.6" cy="360.7" r="15"/>
<circle cx="1318" cy="466.1" r="15"/>
<circle cx="956" cy="666.5" r="15"/>
<circle cx="1560.3" cy="316.8" r="15"/>
<circle cx="944.6" cy="757" r="15"/>
<circle cx="1012.1" cy="601.4" r="15"/>
<circle cx="944.6" cy="716.8" r="15"/>
<circle cx="1458.9" cy="372" r="15"/>
<circle cx="1034.6" cy="621.4" r="15"/>
<circle cx="1104.9" cy="530.1" r="15"/>
<circle cx="1420.5" cy="451.3" r="15"/>
<circle cx="1177.2" cy="511.6" r="15"/>
<circle cx="1284.4" cy="408.4" r="15"/>
<circle cx="1411.8" cy="306.8" r="15"/>
<circle cx="1505.9" cy="293.5" r="15"/>
<circle cx="1159.2" cy="475.4" r="15"/>
<circle cx="964.5" cy="737.6" r="15"/>
<circle cx="1293.6" cy="485.1" r="15"/>
<circle cx="1185.7" cy="528.1" r="15"/>
<circle cx="1342.5" cy="393.1" r="15"/>
<circle cx="1258.5" cy="517.4" r="15"/>
<circle cx="1402.6" cy="320.7" r="15"/>
<circle cx="1567.7" cy="163.6" r="15"/>
<circle cx="1025.4" cy="532.1" r="15"/>
<circle cx="946.1" cy="738" r="15"/>
<circle cx="1132.7" cy="515" r="15"/>
<circle cx="1536.7" cy="439.2" r="15"/>
<circle cx="1501" cy="321.6" r="15"/>
<circle cx="1166.1" cy="480.5" r="15"/>
<circle cx="1254.6" cy="479.5" r="15"/>
<circle cx="1023.4" cy="684.7" r="15"/>
<circle cx="945.9" cy="708.6" r="15"/>
<circle cx="1162.5" cy="439.2" r="15"/>
<circle cx="1492.2" cy="431.5" r="15"/>
<circle cx="941.8" cy="648.6" r="15"/>
<circle cx="1026.1" cy="669.7" r="15"/>
<circle cx="1176.9" cy="541.3" r="15"/>
<circle cx="1360.6" cy="401.7" r="15"/>
<circle cx="1020.8" cy="546.3" r="15"/>
<circle cx="1555.8" cy="393.2" r="15"/>
<circle cx="1183.3" cy="398.5" r="15"/>
<circle cx="1044.5" cy="637.8" r="15"/>
<circle cx="1119.1" cy="586.2" r="15"/>
<circle cx="1380.3" cy="455" r="15"/>
<circle cx="1043.3" cy="621" r="15"/>
<circle cx="1402.9" cy="307.4" r="15"/>
<circle cx="974.9" cy="731.9" r="15"/>
<circle cx="944.2" cy="679.7" r="15"/>
<circle cx="1247.6" cy="365.5" r="15"/>
<circle cx="1500.1" cy="361.3" r="15"/>
<circle cx="1193.7" cy="505.5" r="15"/>
<circle cx="1008.8" cy="566.5" r="15"/>
<circle cx="1235.9" cy="452.7" r="15"/>
<circle cx="1533.9" cy="293.7" r="15"/>
<circle cx="1554.3" cy="428.7" r="15"/>
<circle cx="1454.9" cy="352" r="15"/>
<circle cx="1133.9" cy="529.1" r="15"/>
<circle cx="1300.7" cy="340.2" r="15"/>
<circle cx="1171.5" cy="442.4" r="15"/>
<circle cx="1097.8" cy="594.6" r="15"/>
<circle cx="1404.7" cy="435.1" r="15"/>
<circle cx="951.9" cy="673.5" r="15"/>
<circle cx="1160.4" cy="493.3" r="15"/>
<circle cx="1516.4" cy="344.7" r="15"/>
<circle cx="1538.7" cy="361.2" r="15"/>
<circle cx="1510.2" cy="451.5" r="15"/>
<circle cx="957.5" cy="705.6" r="15"/>
<circle cx="1069.5" cy="536.1" r="15"/>
<circle cx="1442.5" cy="349.3" r="15"/>
<circle cx="1207.4" cy="473.6" r="15"/>
<circle cx="1078.7" cy="534" r="15"/>
<circle cx="1264.8" cy="385.8" r="15"/>
<circle cx="1138.2" cy="455.3" r="15"/>
<circle cx="1147" cy="433.9" r="15"/>
<circle cx="1453.5" cy="443.7" r="15"/>
<circle cx="1448" cy="383.6" r="15"/>
<circle cx="1307.7" cy="402.1" r="15"/>
<circle cx="1267.4" cy="399.8" r="15"/>
<circle cx="1526.4" cy="296.3" r="15"/>
<circle cx="1016.9" cy="524.8" r="15"/>
<circle cx="1514.4" cy="385.4" r="15"/>
<circle cx="971.7" cy="680.5" r="15"/>
<circle cx="1097.2" cy="533.3" r="15"/>
<circle cx="1163" cy="414.7" r="15"/>
<circle cx="1309.3" cy="469.9" r="15"/>
<circle cx="1572.9" cy="265.2" r="15"/>
<circle cx="962.4" cy="667.8" r="15"/>
<circle cx="1046.2" cy="664.5" r="15"/>
<circle cx="1086.6" cy="474.1" r="15"/>
<circle cx="1080" cy="475.7" r="15"/>
<circle cx="1564.7" cy="227.6" r="15"/>
<circle cx="1527.9" cy="408.9" r="15"/>
<circle cx="1408.9" cy="440.2" r="15"/>
<circle cx="1285.4" cy="468.1" r="15"/>
<circle cx="992.1" cy="611.5" r="15"/>
<circle cx="950.2" cy="624.3" r="15"/>
<circle cx="1559.6" cy="334.9" r="15"/>
<circle cx="1044" cy="570.6" r="15"/>
<circle cx="970.3" cy="704.4" r="15"/>
<circle cx="1306.1" cy="433.3" r="15"/>
<circle cx="1425.7" cy="410.2" r="15"/>
<circle cx="1084.9" cy="589.8" r="15"/>
<circle cx="1147.3" cy="409.4" r="15"/>
<circle cx="958.5" cy="627.8" r="15"/>
<circle cx="1287.5" cy="385.7" r="15"/>
<circle cx="1465.4" cy="371.6" r="15"/>
<circle cx="1117.6" cy="454.9" r="15"/>
<circle cx="985" cy="614.3" r="15"/>
<circle cx="1519.5" cy="393.3" r="15"/>
<circle cx="1086.3" cy="628.2" r="15"/>
<circle cx="1014.1" cy="713.7" r="15"/>
<circle cx="1166.3" cy="460.7" r="15"/>
<circle cx="1440.4" cy="386.1" r="15"/>
<circle cx="1189.7" cy="396.6" r="15"/>
<circle cx="967.6" cy="690.4" r="15"/>
<circle cx="1380.9" cy="466.1" r="15"/>
<circle cx="1558.9" cy="356.8" r="15"/>
<circle cx="1439.7" cy="319.2" r="15"/>
<circle cx="1544.5" cy="339.2" r="15"/>
<circle cx="1310.5" cy="497.3" r="15"/>
<circle cx="1355.1" cy="381.1" r="15"/>
<circle cx="1209.4" cy="417.1" r="15"/>
<circle cx="1163.4" cy="487.2" r="15"/>
<circle cx="1337" cy="484.9" r="15"/>
<circle cx="1168.4" cy="553.4" r="15"/>
<circle cx="1402.9" cy="382.1" r="15"/>
<circle cx="1361.5" cy="350.3" r="15"/>
<circle cx="953.7" cy="633.3" r="15"/>
<circle cx="1140.3" cy="506" r="15"/>
<circle cx="956.6" cy="683.5" r="15"/>
<circle cx="1185.3" cy="424.3" r="15"/>
<circle cx="1369.3" cy="331.9" r="15"/>
<circle cx="1190" cy="455.3" r="15"/>
<circle cx="1242.2" cy="431.8" r="15"/>
<circle cx="968.2" cy="602.6" r="15"/>
<circle cx="961.1" cy="653.8" r="15"/>
<circle cx="1481" cy="328.7" r="15"/>
<circle cx="997.8" cy="653.8" r="15"/>
<circle cx="981.4" cy="742.7" r="15"/>
<circle cx="1544.7" cy="374.3" r="15"/>
<circle cx="1326.5" cy="355.4" r="15"/>
<circle cx="1238.3" cy="511" r="15"/>
<circle cx="972.7" cy="652.3" r="15"/>
<circle cx="1395" cy="452.8" r="15"/>
<circle cx="980" cy="714.8" r="15"/>
<circle cx="959.8" cy="646.1" r="15"/>
<circle cx="955.2" cy="724.8" r="15"/>
<circle cx="1177.6" cy="406" r="15"/>
<circle cx="1397.5" cy="462" r="15"/>
<circle cx="1088.9" cy="583.9" r="15"/>
<circle cx="1001.6" cy="545.1" r="15"/>
<circle cx="1094" cy="571.7" r="15"/>
<circle cx="1296.4" cy="345.4" r="15"/>
<circle cx="1558.2" cy="197.4" r="15"/>
<circle cx="1346.5" cy="359.8" r="15"/>
<circle cx="1478.6" cy="386.6" r="15"/>
<circle cx="1461.2" cy="423.7" r="15"/>
<circle cx="1546.6" cy="330.2" r="15"/>
<circle cx="1291.5" cy="371.2" r="15"/>
<circle cx="1458.3" cy="468.4" r="15"/>
<circle cx="968.2" cy="641.2" r="15"/>
<circle cx="1533.5" cy="308.6" r="15"/>
<circle cx="1460" cy="447.7" r="15"/>
<circle cx="1389.8" cy="396.6" r="15"/>
<circle cx="1214.9" cy="501.7" r="15"/>
<circle cx="1033.9" cy="565.1" r="15"/>
<circle cx="1011.3" cy="528.2" r="15"/>
<circle cx="1076.6" cy="610.5" r="15"/>
<circle cx="1565.2" cy="361.3" r="15"/>
<circle cx="1324.6" cy="379.2" r="15"/>
<circle cx="1365.1" cy="439.9" r="15"/>
<circle cx="1508.3" cy="424.4" r="15"/>
<circle cx="1336.9" cy="386.5" r="15"/>
<circle cx="1281.9" cy="501.6" r="15"/>
<circle cx="1321.5" cy="432.6" r="15"/>
<circle cx="1558.2" cy="220.3" r="15"/>
<circle cx="1422.4" cy="391.8" r="15"/>
<circle cx="1563.9" cy="258.6" r="15"/>
<circle cx="1160.7" cy="404.1" r="15"/>
<circle cx="1015.6" cy="645.5" r="15"/>
<circle cx="1406.2" cy="420.8" r="15"/>
<circle cx="1442.2" cy="327" r="15"/>
<circle cx="1203.6" cy="518" r="15"/>
<circle cx="1536.6" cy="410.9" r="15"/>
<circle cx="1380.7" cy="365" r="15"/>
<circle cx="993" cy="625.2" r="15"/>
<circle cx="1535.5" cy="432.5" r="15"/>
<circle cx="964.5" cy="714" r="15"/>
<circle cx="1199.4" cy="437.2" r="15"/>
<circle cx="1378.2" cy="349.1" r="15"/>
<circle cx="1561" cy="420.7" r="15"/>
<circle cx="1469" cy="321.2" r="15"/>
<circle cx="1247.4" cy="475.8" r="15"/>
<circle cx="1142.4" cy="449" r="15"/>
<circle cx="1344" cy="379.9" r="15"/>
<circle cx="1378.8" cy="312.6" r="15"/>
<circle cx="1144.2" cy="573" r="15"/>
<circle cx="1320.9" cy="361.8" r="15"/>
<circle cx="1491.6" cy="458.7" r="15"/>
<circle cx="1006.8" cy="716.5" r="15"/>
<circle cx="1229.1" cy="371.1" r="15"/>
<circle cx="986.4" cy="597.6" r="15"/>
<circle cx="1114.8" cy="577.4" r="15"/>
<circle cx="1171.2" cy="402.5" r="15"/>
<circle cx="1135" cy="598.5" r="15"/>
<circle cx="1327.6" cy="322.7" r="15"/>
<circle cx="1334.6" cy="477.6" r="15"/>
<circle cx="1001.7" cy="698.6" r="15"/>
<circle cx="964.9" cy="635.3" r="15"/>
<circle cx="1524.9" cy="344.7" r="15"/>
<circle cx="1044.7" cy="553.4" r="15"/>
<circle cx="1253" cy="458.1" r="15"/>
<circle cx="1139.7" cy="487.3" r="15"/>
<circle cx="1346.5" cy="469" r="15"/>
<circle cx="1561" cy="154" r="15"/>
<circle cx="1320.6" cy="492" r="15"/>
<circle cx="1099.7" cy="614.1" r="15"/>
<circle cx="1563.6" cy="78" r="15"/>
<circle cx="998.4" cy="600.4" r="15"/>
<circle cx="1556.2" cy="258.4" r="15"/>
<circle cx="1463" cy="288.9" r="15"/>
<circle cx="1108.8" cy="589.3" r="15"/>
<circle cx="1070.4" cy="563.6" r="15"/>
<circle cx="1512.4" cy="291" r="15"/>
<circle cx="1540.6" cy="306.4" r="15"/>
<circle cx="1547.7" cy="299.6" r="15"/>
<circle cx="1396" cy="305" r="15"/>
<circle cx="1275.3" cy="502.3" r="15"/>
<circle cx="1386.6" cy="377" r="15"/>
<circle cx="1374.4" cy="338.2" r="15"/>
<circle cx="1490.5" cy="293.8" r="15"/>
<circle cx="1117.8" cy="557.8" r="15"/>
<circle cx="1415.9" cy="322.3" r="15"/>
<circle cx="1066.6" cy="613" r="15"/>
<circle cx="1166.9" cy="527.3" r="15"/>
<circle cx="1283.7" cy="454.6" r="15"/>
<circle cx="1406.5" cy="411.8" r="15"/>
<circle cx="1560.6" cy="282" r="15"/>
<circle cx="1193.2" cy="426.5" r="15"/>
<circle cx="1033.7" cy="639.7" r="15"/>
<circle cx="1552.3" cy="361.8" r="15"/>
<circle cx="1303.4" cy="500.4" r="15"/>
<circle cx="1207.2" cy="403.4" r="15"/>
<circle cx="1093.5" cy="631.2" r="15"/>
<circle cx="1213.2" cy="482.7" r="15"/>
<circle cx="1451.5" cy="336.9" r="15"/>
<circle cx="1572.6" cy="370.5" r="15"/>
<circle cx="1244.4" cy="372.6" r="15"/>
<circle cx="1070" cy="544.6" r="15"/>
<circle cx="1021.1" cy="612.1" r="15"/>
<circle cx="1280.7" cy="473.6" r="15"/>
<circle cx="1569.3" cy="222.9" r="15"/>
<circle cx="1178.6" cy="548.2" r="15"/>
<circle cx="1310.4" cy="347.7" r="15"/>
<circle cx="1479.2" cy="288.1" r="15"/>
<circle cx="1203" cy="507.6" r="15"/>
<circle cx="1133.6" cy="578.1" r="15"/>
<circle cx="1360.9" cy="384.2" r="15"/>
<circle cx="1068.4" cy="555.9" r="15"/>
<circle cx="1271.4" cy="374.3" r="15"/>
<circle cx="1550.3" cy="388.8" r="15"/>
<circle cx="1007.3" cy="635.5" r="15"/>
<circle cx="1549.5" cy="434.8" r="15"/>
<circle cx="1449.4" cy="375.6" r="15"/>
<circle cx="1471.5" cy="438.9" r="15"/>
<circle cx="1170.9" cy="534.8" r="15"/>
<circle cx="1577.7" cy="402.3" r="15"/>
<circle cx="958.7" cy="674.1" r="15"/>
<circle cx="1121.4" cy="576.3" r="15"/>
<circle cx="974.6" cy="634.5" r="15"/>
<circle cx="1379.4" cy="448.4" r="15"/>
<circle cx="1553.2" cy="251.3" r="15"/>
<circle cx="1559" cy="130" r="15"/>
<circle cx="1578.6" cy="365.5" r="15"/>
<circle cx="1180.5" cy="384.5" r="15"/>
<circle cx="1531.2" cy="323.5" r="15"/>
<circle cx="1015.8" cy="564.3" r="15"/>
<circle cx="989.1" cy="673.4" r="15"/>
<circle cx="1155.6" cy="441.7" r="15"/>
<circle cx="1278" cy="385.7" r="15"/>
<circle cx="1126.5" cy="430.6" r="15"/>
<circle cx="1567.1" cy="246.9" r="15"/>
<circle cx="1140.8" cy="497.9" r="15"/>
<circle cx="1209.7" cy="534.3" r="15"/>
<circle cx="1258.6" cy="453.2" r="15"/>
<circle cx="1153.6" cy="505.4" r="15"/>
<circle cx="1058.5" cy="552" r="15"/>
<circle cx="1019.9" cy="672.3" r="15"/>
<circle cx="1272.3" cy="465.4" r="15"/>
<circle cx="1499.5" cy="404.7" r="15"/>
<circle cx="1084.8" cy="501.2" r="15"/>
<circle cx="1434.1" cy="361.5" r="15"/>
<circle cx="1116.5" cy="603.6" r="15"/>
<circle cx="1578.5" cy="269.4" r="15"/>
<circle cx="1010.5" cy="701.9" r="15"/>
<circle cx="1337.9" cy="377.8" r="15"/>
<circle cx="1250.6" cy="450" r="15"/>
<circle cx="1155.3" cy="562.7" r="15"/>
<circle cx="1577.9" cy="424.4" r="15"/>
<circle cx="1533.1" cy="404.8" r="15"/>
<circle cx="959.3" cy="748.3" r="15"/>
<circle cx="1426.1" cy="385.2" r="15"/>
<circle cx="974.5" cy="643.7" r="15"/>
<circle cx="1040.6" cy="564.2" r="15"/>
<circle cx="1286.4" cy="488.6" r="15"/>
<circle cx="1471.4" cy="386.3" r="15"/>
<circle cx="1204.2" cy="376.5" r="15"/>
<circle cx="1240.1" cy="388.4" r="15"/>
<circle cx="1565.8" cy="200.9" r="15"/>
<circle cx="1157" cy="418.2" r="15"/>
<circle cx="1385.5" cy="327.5" r="15"/>
<circle cx="1424.8" cy="446.3" r="15"/>
<circle cx="1156.8" cy="462.6" r="15"/>
<circle cx="1005.9" cy="550" r="15"/>
<circle cx="1421.5" cy="471.6" r="15"/>
<circle cx="1472.9" cy="337.5" r="15"/>
<circle cx="1544.7" cy="365.7" r="15"/>
<circle cx="1446.8" cy="390.9" r="15"/>
<circle cx="1427.2" cy="402.7" r="15"/>
<circle cx="1233.2" cy="389.1" r="15"/>
<circle cx="1037.1" cy="537.5" r="15"/>
<circle cx="1462.3" cy="437.9" r="15"/>
<circle cx="1191.3" cy="371.4" r="15"/>
<circle cx="1323.6" cy="332.4" r="15"/>
<circle cx="1013.8" cy="556.4" r="15"/>
<circle cx="988.4" cy="714" r="15"/>
<circle cx="1267.7" cy="504.7" r="15"/>
<circle cx="1405.1" cy="395.2" r="15"/>
<circle cx="1500.2" cy="328.7" r="15"/>
<circle cx="1543.7" cy="388.1" r="15"/>
<circle cx="1473.3" cy="458.3" r="15"/>
<circle cx="1279.9" cy="510.3" r="15"/>
<circle cx="1071.4" cy="494.3" r="15"/>
<circle cx="1361" cy="480.5" r="15"/>
<circle cx="1425.9" cy="423.6" r="15"/>
<circle cx="1364.7" cy="315.4" r="15"/>
<circle cx="1265.7" cy="359.1" r="15"/>
<circle cx="1476.8" cy="369.9" r="15"/>
<circle cx="984.9" cy="720.2" r="15"/>
<circle cx="990.6" cy="735.6" r="15"/>
<circle cx="1308.7" cy="361.4" r="15"/>
<circle cx="1092.4" cy="528.3" r="15"/>
<circle cx="1030.3" cy="541.8" r="15"/>
<circle cx="1293" cy="339.5" r="15"/>
<circle cx="1462.6" cy="351.8" r="15"/>
<circle cx="1560.6" cy="245.1" r="15"/>
<circle cx="1127.4" cy="537" r="15"/>
<circle cx="1234.4" cy="467" r="15"/>
<circle cx="1210.1" cy="425.4" r="15"/>
<circle cx="1436" cy="394.4" r="15"/>
<circle cx="1577.6" cy="260.3" r="15"/>
<circle cx="1105.5" cy="463.6" r="15"/>
<circle cx="1391.2" cy="426.8" r="15"/>
<circle cx="1128.4" cy="419.5" r="15"/>
<circle cx="1090.9" cy="599.1" r="15"/>
<circle cx="1512.6" cy="406.7" r="15"/>
<circle cx="1296.3" cy="435.4" r="15"/>
<circle cx="1207.1" cy="394.1" r="15"/>
<circle cx="1527.2" cy="275.9" r="15"/>
<circle cx="1140.2" cy="525.8" r="15"/>
<circle cx="1388.7" cy="358.1" r="15"/>
<circle cx="1018.9" cy="639.7" r="15"/>
<circle cx="1346.9" cy="342.2" r="15"/>
<circle cx="1107.7" cy="442.5" r="15"/>
<circle cx="1079.2" cy="553.4" r="15"/>
<circle cx="1548.3" cy="275" r="15"/>
<circle cx="1566.2" cy="186.6" r="15"/>
<circle cx="1416.2" cy="312.9" r="15"/>
<circle cx="1504.9" cy="371.7" r="15"/>
<circle cx="1484.9" cy="356.6" r="15"/>
<circle cx="1557.8" cy="92" r="15"/>
<circle cx="1244" cy="452.4" r="15"/>
<circle cx="1258.7" cy="500.5" r="15"/>
<circle cx="1369.3" cy="371.6" r="15"/>
<circle cx="1340.9" cy="417.5" r="15"/>
<circle cx="1360.7" cy="334.4" r="15"/>
<circle cx="1324" cy="340.6" r="15"/>
<circle cx="1266.2" cy="455.9" r="15"/>
<circle cx="1218.4" cy="421.5" r="15"/>
<circle cx="1465.2" cy="358" r="15"/>
<circle cx="1341.5" cy="445.8" r="15"/>
<circle cx="1452.3" cy="307.3" r="15"/>
<circle cx="1323" cy="471.1" r="15"/>
<circle cx="1277.6" cy="363" r="15"/>
<circle cx="1014.9" cy="549.6" r="15"/>
<circle cx="1261.3" cy="421" r="15"/>
<circle cx="1436.2" cy="413" r="15"/>
<circle cx="1562.4" cy="392.7" r="15"/>
<circle cx="1507" cy="315.2" r="15"/>
<circle cx="1237.2" cy="404" r="15"/>
<circle cx="1560.2" cy="252.1" r="15"/>
<circle cx="1533.7" cy="300.5" r="15"/>
<circle cx="1120.4" cy="520.5" r="15"/>
<circle cx="1423.3" cy="303.4" r="15"/>
<circle cx="1318" cy="382.7" r="15"/>
<circle cx="1196.7" cy="375.3" r="15"/>
<circle cx="1414.6" cy="331.2" r="15"/>
<circle cx="1105.4" cy="547.3" r="15"/>
<circle cx="1552.3" cy="368.8" r="15"/>
<circle cx="1231.5" cy="497.1" r="15"/>
<circle cx="1065.9" cy="619.5" r="15"/>
<circle cx="1109.3" cy="434.9" r="15"/>
<circle cx="1219.4" cy="392.1" r="15"/>
<circle cx="1579.2" cy="382.5" r="15"/>
<circle cx="1478.9" cy="294.9" r="15"/>
<circle cx="1295.5" cy="457.2" r="15"/>
<circle cx="1253.3" cy="429" r="15"/>
<circle cx="1293.3" cy="468.6" r="15"/>
<circle cx="1088.9" cy="480.2" r="15"/>
<circle cx="1193.1" cy="481.9" r="15"/>
<circle cx="1436.4" cy="313" r="15"/>
<circle cx="1337.2" cy="470.6" r="15"/>
<circle cx="1334.2" cy="355.5" r="15"/>
<circle cx="1562.6" cy="327.7" r="15"/>
<circle cx="1291.1" cy="392.8" r="15"/>
<circle cx="1551.4" cy="289.6" r="15"/>
<circle cx="994.4" cy="660.4" r="15"/>
<circle cx="1003.1" cy="610.7" r="15"/>
<circle cx="1113" cy="546.7" r="15"/>
<circle cx="1299.9" cy="487.8" r="15"/>
<circle cx="1495" cy="437.8" r="15"/>
<circle cx="1426.8" cy="338.7" r="15"/>
<circle cx="1566.7" cy="214.8" r="15"/>
<circle cx="1277.3" cy="395.2" r="15"/>
<circle cx="1427.7" cy="461" r="15"/>
<circle cx="1281.5" cy="446.6" r="15"/>
<circle cx="1511.5" cy="310.4" r="15"/>
<circle cx="1321.3" cy="350.9" r="15"/>
<circle cx="1234.3" cy="524.6" r="15"/>
<circle cx="1457.7" cy="397.8" r="15"/>
<circle cx="1059" cy="613.7" r="15"/>
<circle cx="1190.3" cy="412.1" r="15"/>
<circle cx="1030.8" cy="522.7" r="15"/>
<circle cx="1414.8" cy="299.2" r="15"/>
<circle cx="1135.5" cy="540" r="15"/>
<circle cx="1455.3" cy="378.5" r="15"/>
<circle cx="1568.7" cy="253.8" r="15"/>
<circle cx="1523" cy="363.3" r="15"/>
<circle cx="1102.5" cy="502.3" r="15"/>
<circle cx="1238.3" cy="395.6" r="15"/>
<circle cx="1062.6" cy="562.8" r="15"/>
<circle cx="1072.9" cy="516.5" r="15"/>
<circle cx="1540.4" cy="298.9" r="15"/>
<circle cx="1350.9" cy="429.6" r="15"/>
<circle cx="1558" cy="178" r="15"/>
<circle cx="1133.3" cy="505.1" r="15"/>
<circle cx="1426.5" cy="322" r="15"/>
<circle cx="1108.5" cy="579.2" r="15"/>
<circle cx="994.2" cy="718.8" r="15"/>
<circle cx="1527" cy="335.8" r="15"/>
<circle cx="1521" cy="351.4" r="15"/>
<circle cx="1467.3" cy="333.2" r="15"/>
<circle cx="1116.5" cy="479.6" r="15"/>
<circle cx="1408.8" cy="465.7" r="15"/>
<circle cx="1441.1" cy="364.3" r="15"/>
<circle cx="1044" cy="527.2" r="15"/>
<circle cx="1276.6" cy="379.1" r="15"/>
<circle cx="1417.1" cy="361.4" r="15"/>
<circle cx="1208.7" cy="383.6" r="15"/>
<circle cx="1099" cy="564.8" r="15"/>
<circle cx="1060.9" cy="649.5" r="15"/>
<circle cx="1058.6" cy="498.9" r="15"/>
<circle cx="1280.6" cy="368.7" r="15"/>
<circle cx="1459.9" cy="363.9" r="15"/>
<circle cx="1506.1" cy="365.2" r="15"/>
<circle cx="1034.1" cy="581" r="15"/>
<circle cx="1568.1" cy="305.4" r="15"/>
<circle cx="1008.7" cy="593" r="15"/>
<circle cx="1108.3" cy="505.3" r="15"/>
<circle cx="1539.9" cy="331.1" r="15"/>
<circle cx="1555" cy="410.3" r="15"/>
<circle cx="1371.2" cy="399" r="15"/>
<circle cx="1176.7" cy="478.6" r="15"/>
<circle cx="1006.4" cy="604.8" r="15"/>
<circle cx="1313" cy="460.8" r="15"/>
<circle cx="1275.6" cy="451.9" r="15"/>
<circle cx="1312" cy="376" r="15"/>
<circle cx="1501.9" cy="308.1" r="15"/>
<circle cx="1105.1" cy="472.7" r="15"/>
<circle cx="1479.8" cy="417.3" r="15"/>
<circle cx="1433.3" cy="343.5" r="15"/>
<circle cx="1564.3" cy="139.9" r="15"/>
<circle cx="1532.9" cy="331.6" r="15"/>
<circle cx="1237.7" cy="494.6" r="15"/>
<circle cx="1004.4" cy="706.8" r="15"/>
<circle cx="1574.3" cy="349.9" r="15"/>
<circle cx="1431.4" cy="446.9" r="15"/>
<circle cx="1169.9" cy="512.9" r="15"/>
<circle cx="1451.1" cy="468.4" r="15"/>
<circle cx="1277.1" cy="483.8" r="15"/>
<circle cx="1148.2" cy="538.7" r="15"/>
<circle cx="1350.3" cy="443.2" r="15"/>
<circle cx="1218.4" cy="507.7" r="15"/>
<circle cx="1199.8" cy="426.4" r="15"/>
<circle cx="1469.2" cy="293.7" r="15"/>
<circle cx="1330.6" cy="342.5" r="15"/>
<circle cx="1516.7" cy="424.9" r="15"/>
<circle cx="1358.1" cy="459.9" r="15"/>
<circle cx="1452.4" cy="324.8" r="15"/>
<circle cx="1529.3" cy="435.1" r="15"/>
<circle cx="1488.3" cy="376.4" r="15"/>
<circle cx="1240.4" cy="502" r="15"/>
<circle cx="1560.3" cy="399.2" r="15"/>
<circle cx="1111.6" cy="428.1" r="15"/>
<circle cx="1224.1" cy="377.6" r="15"/>
<circle cx="1153.7" cy="492.3" r="15"/>
<circle cx="1509.1" cy="323.8" r="15"/>
<circle cx="1542.4" cy="280.3" r="15"/>
<circle cx="1504.1" cy="442.2" r="15"/>
<circle cx="1230.3" cy="448.6" r="15"/>
<circle cx="1066.4" cy="509.7" r="15"/>
<circle cx="1038.9" cy="659.5" r="15"/>
<circle cx="1261.2" cy="371.7" r="15"/>
<circle cx="1283" cy="399.9" r="15"/>
<circle cx="1557.7" cy="110.1" r="15"/>
<circle cx="1074.8" cy="640.4" r="15"/>
<circle cx="1033.5" cy="630.3" r="15"/>
<circle cx="1089.1" cy="620.1" r="15"/>
<circle cx="1242.8" cy="423.1" r="15"/>
<circle cx="1526.3" cy="396.2" r="15"/>
<circle cx="1177.7" cy="518.4" r="15"/>
<circle cx="1482.9" cy="440.9" r="15"/>
<circle cx="1483.3" cy="409" r="15"/>
<circle cx="1009.3" cy="544.2" r="15"/>
<circle cx="1407.2" cy="329.1" r="15"/>
<circle cx="1558.2" cy="144" r="15"/>
<circle cx="1132" cy="587.7" r="15"/>
<circle cx="1510.2" cy="376.5" r="15"/>
<circle cx="1507.5" cy="334" r="15"/>
<circle cx="1506.5" cy="346.7" r="15"/>
<circle cx="1370.4" cy="392.5" r="15"/>
<circle cx="1468" cy="314.7" r="15"/>
<circle cx="1122.6" cy="484" r="15"/>
<circle cx="1450.7" cy="453.5" r="15"/>
<circle cx="1456" cy="430.4" r="15"/>
<circle cx="1494.2" cy="382.8" r="15"/>
<circle cx="1413.8" cy="422.9" r="15"/>
<circle cx="1116.4" cy="440.5" r="15"/>
<circle cx="1063.3" cy="541.5" r="15"/>
<circle cx="1291.5" cy="462.4" r="15"/>
<circle cx="1473.1" cy="426" r="15"/>
<circle cx="1510.4" cy="353.8" r="15"/>
<circle cx="1376.7" cy="359.8" r="15"/>
<circle cx="1161.5" cy="467.7" r="15"/>
<circle cx="1113.6" cy="565.8" r="15"/>
<circle cx="1415.3" cy="393.1" r="15"/>
<circle cx="1360.1" cy="417.4" r="15"/>
<circle cx="1381.1" cy="404.1" r="15"/>
<circle cx="1078.4" cy="629.2" r="15"/>
<circle cx="1283.4" cy="482.2" r="15"/>
<circle cx="1435.8" cy="337.3" r="15"/>
<circle cx="1284.5" cy="360.8" r="15"/>
<circle cx="1304.3" cy="493.4" r="15"/>
<circle cx="1121" cy="534.8" r="15"/>
<circle cx="1436.8" cy="421.9" r="15"/>
<circle cx="1127.5" cy="460.7" r="15"/>
<circle cx="1251.9" cy="491.6" r="15"/>
<circle cx="1302.8" cy="347.7" r="15"/>
<circle cx="1190.2" cy="499.8" r="15"/>
<circle cx="1431.6" cy="378.9" r="15"/>
<circle cx="1310.8" cy="409.2" r="15"/>
<circle cx="1096.8" cy="483.3" r="15"/>
<circle cx="1422.9" cy="429.4" r="15"/>
<circle cx="1121" cy="460.9" r="15"/>
<circle cx="1558.3" cy="167.7" r="15"/>
<circle cx="1427.7" cy="395.8" r="15"/>
<circle cx="1283.5" cy="391.8" r="15"/>
<circle cx="1409.3" cy="321.1" r="15"/>
<circle cx="1043.9" cy="583.4" r="15"/>
<circle cx="1088.2" cy="542.5" r="15"/>
<circle cx="1430.4" cy="469.5" r="15"/>
<circle cx="1067.8" cy="634.9" r="15"/>
<circle cx="1536.1" cy="394.7" r="15"/>
<circle cx="1109.9" cy="458.4" r="15"/>
<circle cx="1125.6" cy="526.9" r="15"/>
<circle cx="1431.8" cy="417.7" r="15"/>
<circle cx="1409.1" cy="313.1" r="15"/>
<circle cx="1099.7" cy="576.8" r="15"/>
<circle cx="1106.1" cy="606.9" r="15"/>
<circle cx="1471.4" cy="379.4" r="15"/>
<circle cx="1201.7" cy="458.9" r="15"/>
<circle cx="1199" cy="538.2" r="15"/>
<circle cx="1453" cy="421.6" r="15"/>
<circle cx="1038.6" cy="669.1" r="15"/>
<circle cx="1194.7" cy="531.2" r="15"/>
<circle cx="1462.1" cy="337.2" r="15"/>
<circle cx="1261" cy="446.7" r="15"/>
<circle cx="1302.2" cy="385.9" r="15"/>
<circle cx="1292" cy="410.5" r="15"/>
<circle cx="1326.9" cy="390.7" r="15"/>
<circle cx="1392.7" cy="411.9" r="15"/>
<circle cx="1121.7" cy="512.3" r="15"/>
<circle cx="1260.9" cy="485.9" r="15"/>
<circle cx="1373.4" cy="354.1" r="15"/>
<circle cx="1491.3" cy="354.6" r="15"/>
<circle cx="1033.7" cy="587.8" r="15"/>
<circle cx="1069" cy="500.6" r="15"/>
<circle cx="1351.1" cy="328.8" r="15"/>
<circle cx="1334" cy="454.6" r="15"/>
<circle cx="1027.6" cy="677" r="15"/>
<circle cx="1135.4" cy="462.2" r="15"/>
<circle cx="1446.5" cy="321.8" r="15"/>
<circle cx="1559" cy="376.3" r="15"/>
<circle cx="1145.4" cy="565.9" r="15"/>
<circle cx="1558.3" cy="306.6" r="15"/>
<circle cx="1061.6" cy="630.4" r="15"/>
<circle cx="1551.1" cy="420.1" r="15"/>
<circle cx="1079.5" cy="493.8" r="15"/>
<circle cx="1390.5" cy="458.1" r="15"/>
<circle cx="1299.6" cy="464.9" r="15"/>
<circle cx="1324.7" cy="463.3" r="15"/>
<circle cx="1192.2" cy="435" r="15"/>
<circle cx="1434.5" cy="300.8" r="15"/>
<circle cx="1230.3" cy="402.4" r="15"/>
<circle cx="1366.7" cy="357" r="15"/>
<circle cx="1309.6" cy="416" r="15"/>
<circle cx="1159.5" cy="500" r="15"/>
<circle cx="1207.5" cy="462.4" r="15"/>
<circle cx="1196" cy="520.8" r="15"/>
<circle cx="1166.5" cy="502.7" r="15"/>
<circle cx="1091.2" cy="613.4" r="15"/>
<circle cx="1505.2" cy="301.4" r="15"/>
<circle cx="1415.8" cy="437.6" r="15"/>
<circle cx="1538.1" cy="354.3" r="15"/>
<circle cx="1202.9" cy="533" r="15"/>
<circle cx="1486.8" cy="301.6" r="15"/>
<circle cx="1239.2" cy="366.2" r="15"/>
<circle cx="1146.3" cy="492.7" r="15"/>
<circle cx="1402" cy="467.3" r="15"/>
<circle cx="1483" cy="364.1" r="15"/>
<circle cx="1192.8" cy="488.9" r="15"/>
<circle cx="1334.6" cy="422.1" r="15"/>
<circle cx="1059.3" cy="641" r="15"/>
<circle cx="1498.5" cy="352.9" r="15"/>
<circle cx="1271.8" cy="424" r="15"/>
<circle cx="1311" cy="490.5" r="15"/>
<circle cx="1267.7" cy="497.2" r="15"/>
<circle cx="1001.7" cy="560.8" r="15"/>
<circle cx="1391.2" cy="333.7" r="15"/>
<circle cx="1142.2" cy="550.9" r="15"/>
<circle cx="1480.3" cy="317.3" r="15"/>
<circle cx="1254.8" cy="394.7" r="15"/>
<circle cx="1388.5" cy="366.7" r="15"/>
<circle cx="1411.2" cy="364.7" r="15"/>
<circle cx="1561.8" cy="115.2" r="15"/>
<circle cx="1358.4" cy="409.7" r="15"/>
<circle cx="1116.6" cy="500.2" r="15"/>
<circle cx="1027.5" cy="645.8" r="15"/>
<circle cx="1133" cy="424.6" r="15"/>
<circle cx="1563.9" cy="179.9" r="15"/>
<circle cx="998.1" cy="636.2" r="15"/>
<circle cx="1414.2" cy="445.6" r="15"/>
<circle cx="1216.8" cy="377.8" r="15"/>
<circle cx="1416.3" cy="429.4" r="15"/>
<circle cx="1553.6" cy="332.1" r="15"/>
<circle cx="1395.1" cy="377.9" r="15"/>
<circle cx="1457.1" cy="318.7" r="15"/>
<circle cx="1401.1" cy="427.9" r="15"/>
<circle cx="1477" cy="396" r="15"/>
<circle cx="1561" cy="101" r="15"/>
<circle cx="1504.9" cy="386.6" r="15"/>
<circle cx="1527.3" cy="353.3" r="15"/>
<circle cx="1545.6" cy="311.4" r="15"/>
<circle cx="1163.8" cy="542.6" r="15"/>
<circle cx="1091.2" cy="487" r="15"/>
<circle cx="1307.1" cy="446" r="15"/>
<circle cx="1530.5" cy="390.5" r="15"/>
<circle cx="1092.4" cy="550.6" r="15"/>
<circle cx="1156" cy="486" r="15"/>
<circle cx="1485.2" cy="284.9" r="15"/>
<circle cx="1368.9" cy="478.7" r="15"/>
<circle cx="1017.3" cy="678.3" r="15"/>
<circle cx="1562.4" cy="127.8" r="15"/>
<circle cx="1525.2" cy="383.7" r="15"/>
<circle cx="1049.1" cy="595.5" r="15"/>
<circle cx="1564.2" cy="299.9" r="15"/>
<circle cx="1080.6" cy="517.4" r="15"/>
<circle cx="1046.3" cy="538.1" r="15"/>
<circle cx="1159.8" cy="557.3" r="15"/>
<circle cx="1496.7" cy="291.6" r="15"/>
<circle cx="1443" cy="450.7" r="15"/>
<circle cx="1095" cy="475.8" r="15"/>
<circle cx="1442.2" cy="379.5" r="15"/>
<circle cx="1571.8" cy="356.5" r="15"/>
<circle cx="1083.4" cy="526.6" r="15"/>
<circle cx="1040" cy="614.5" r="15"/>
<circle cx="1579.5" cy="343.9" r="15"/>
<circle cx="1453.4" cy="362.5" r="15"/>
<circle cx="1494.7" cy="423.3" r="15"/>
<circle cx="1235.1" cy="433.9" r="15"/>
<circle cx="1388.1" cy="406.2" r="15"/>
<circle cx="1104.2" cy="454.2" r="15"/>
<circle cx="1558.2" cy="157.2" r="15"/>
<circle cx="1578.9" cy="372.6" r="15"/>
<circle cx="1429" cy="432.8" r="15"/>
<circle cx="1502.5" cy="378.3" r="15"/>
<circle cx="1154.8" cy="469" r="15"/>
<circle cx="1081.8" cy="618.2" r="15"/>
<circle cx="1441.2" cy="400.1" r="15"/>
<circle cx="1354" cy="335.6" r="15"/>
<circle cx="1054.2" cy="558" r="15"/>
<circle cx="1202.3" cy="496.4" r="15"/>
<circle cx="1569.2" cy="391.6" r="15"/>
<circle cx="1313.8" cy="390.3" r="15"/>
<circle cx="1352.6" cy="463.5" r="15"/>
<circle cx="1125.6" cy="490.1" r="15"/>
<circle cx="1492.5" cy="389.2" r="15"/>
<circle cx="1159.2" cy="526.5" r="15"/>
<circle cx="1196.2" cy="514.1" r="15"/>
<circle cx="1101.4" cy="489" r="15"/>
<circle cx="1363.6" cy="455" r="15"/>
<circle cx="1052.1" cy="501.6" r="15"/>
<circle cx="1269.1" cy="393" r="15"/>
<circle cx="1475.2" cy="445.2" r="15"/>
<circle cx="1273" cy="458.3" r="15"/>
<circle cx="1148.7" cy="455.8" r="15"/>
<circle cx="1435.1" cy="405.8" r="15"/>
<circle cx="1239.2" cy="446.8" r="15"/>
<circle cx="1032.2" cy="558.3" r="15"/>
<circle cx="1122.4" cy="444.8" r="15"/>
<circle cx="1249.5" cy="417.1" r="15"/>
<circle cx="1535.1" cy="282.4" r="15"/>
<circle cx="1281.2" cy="425.1" r="15"/>
<circle cx="1169.5" cy="467.8" r="15"/>
<circle cx="1369.7" cy="470.8" r="15"/>
<circle cx="1419.6" cy="458.3" r="15"/>
<circle cx="1483" cy="453.1" r="15"/>
<circle cx="1110.4" cy="539.6" r="15"/>
<circle cx="1056.7" cy="595.8" r="15"/>
<circle cx="1071.2" cy="596.5" r="15"/>
<circle cx="1393.4" cy="347.3" r="15"/>
<circle cx="1094.2" cy="497" r="15"/>
<circle cx="1386.7" cy="437.7" r="15"/>
<circle cx="1190.1" cy="381.3" r="15"/>
<circle cx="1148.9" cy="522.7" r="15"/>
<circle cx="1471" cy="327.8" r="15"/>
<circle cx="1039.3" cy="557.5" r="15"/>
<circle cx="1541.3" cy="272.3" r="15"/>
<circle cx="1561.2" cy="431.5" r="15"/>
<circle cx="1023.9" cy="599.2" r="15"/>
<circle cx="1094.2" cy="557.7" r="15"/>
<circle cx="1433.8" cy="325.9" r="15"/>
<circle cx="1569.8" cy="319.4" r="15"/>
<circle cx="1369.2" cy="459.3" r="15"/>
<circle cx="1353" cy="316" r="15"/>
<circle cx="1094.7" cy="543.5" r="15"/>
<circle cx="1111.8" cy="554.6" r="15"/>
<circle cx="1489.5" cy="338.6" r="15"/>
<circle cx="1329.1" cy="362.6" r="15"/>
<circle cx="1447.8" cy="291.9" r="15"/>
<circle cx="1480" cy="304.4" r="15"/>
<circle cx="1246.4" cy="400.3" r="15"/>
<circle cx="1140.2" cy="516.7" r="15"/>
<circle cx="1103.2" cy="480.7" r="15"/>
<circle cx="1188.5" cy="536.7" r="15"/>
<circle cx="1182.1" cy="460.2" r="15"/>
<circle cx="1103.5" cy="537.5" r="15"/>
<circle cx="1122.3" cy="496.7" r="15"/>
<circle cx="1114.2" cy="489" r="15"/>
<circle cx="1029.4" cy="653.3" r="15"/>
<circle cx="1067.9" cy="643.5" r="15"/>
<circle cx="1197" cy="394.5" r="15"/>
<circle cx="1302.7" cy="409.6" r="15"/>
<circle cx="1442.7" cy="300.4" r="15"/>
<circle cx="1526.9" cy="307.6" r="15"/>
<circle cx="1407.4" cy="299.8" r="15"/>
<circle cx="1506.2" cy="405" r="15"/>
<circle cx="1043.9" cy="654.4" r="15"/>
<circle cx="1202.1" cy="466.9" r="15"/>
<circle cx="1560" cy="203" r="15"/>
<circle cx="1235.7" cy="423.1" r="15"/>
<circle cx="862.5" cy="737.5" r="15"/>
<circle cx="928.8" cy="755.7" r="15"/>
<circle cx="924" cy="760.2" r="15"/>
<circle cx="779.9" cy="864.1" r="15"/>
<circle cx="682.4" cy="942.5" r="15"/>
<circle cx="466.7" cy="1048.3" r="15"/>
<circle cx="795.4" cy="795.3" r="15"/>
<circle cx="864.6" cy="753" r="15"/>
<circle cx="672.4" cy="951.6" r="15"/>
<circle cx="702.6" cy="895" r="15"/>
<circle cx="652.7" cy="935.5" r="15"/>
<circle cx="667.4" cy="971" r="15"/>
<circle cx="523.5" cy="1007.2" r="15"/>
<circle cx="497.1" cy="1034.8" r="15"/>
<circle cx="706" cy="877.5" r="15"/>
<circle cx="782.5" cy="888.9" r="15"/>
<circle cx="502.2" cy="1028.9" r="15"/>
<circle cx="809.2" cy="852" r="15"/>
<circle cx="740.6" cy="869" r="15"/>
<circle cx="617.5" cy="945.3" r="15"/>
<circle cx="924.2" cy="669.1" r="15"/>
<circle cx="814.1" cy="769.9" r="15"/>
<circle cx="767" cy="829.3" r="15"/>
<circle cx="820.8" cy="835.4" r="15"/>
<circle cx="490.6" cy="1040.2" r="15"/>
<circle cx="771.4" cy="819.8" r="15"/>
<circle cx="814.2" cy="788" r="15"/>
<circle cx="429.5" cy="1036.1" r="15"/>
<circle cx="722.8" cy="916.9" r="15"/>
<circle cx="764.9" cy="822.5" r="15"/>
<circle cx="845" cy="737.6" r="15"/>
<circle cx="875.2" cy="750.1" r="15"/>
<circle cx="907.1" cy="740.6" r="15"/>
<circle cx="931.6" cy="711.1" r="15"/>
<circle cx="800.8" cy="841.1" r="15"/>
<circle cx="693.4" cy="884.8" r="15"/>
<circle cx="718.4" cy="930.1" r="15"/>
<circle cx="809.3" cy="844.1" r="15"/>
<circle cx="847.9" cy="744.2" r="15"/>
<circle cx="913.2" cy="694.9" r="15"/>
<circle cx="846.8" cy="750.6" r="15"/>
<circle cx="500.8" cy="1015.5" r="15"/>
<circle cx="822.2" cy="767.4" r="15"/>
<circle cx="698.7" cy="921.4" r="15"/>
<circle cx="822.8" cy="782.8" r="15"/>
<circle cx="1183" cy="593" r="15"/>
<circle cx="1240" cy="567" r="15"/>
<circle cx="1272" cy="324" r="15"/>
<circle cx="1371" cy="543" r="15"/>
<circle cx="1400" cy="519" r="15"/>
<circle cx="1437" cy="534" r="15"/>
<circle cx="1463" cy="509" r="15"/>
<circle cx="1513" cy="514" r="15"/>
<circle cx="1500" cy="556" r="15"/>
<circle cx="1563" cy="494" r="15"/>
<circle cx="1569.5" cy="474" r="15"/>
<circle cx="1591" cy="389" r="15"/>
</g>
<g fill="#ff0000" stroke="#000" stroke-width="5.5" shape-rendering="crispEdges">
<rect x="1073.4" y="2026.4" width="27.5" height="27.5"/>
<rect x="1068.2" y="2037.9" width="27.5" height="27.5"/>
<rect x="1515.2" y="1795.8" width="27.5" height="27.5"/>
<rect x="1396.5" y="1773" width="27.5" height="27.5"/>
<rect x="1302.1" y="1763.8" width="27.5" height="27.5"/>
<rect x="1299.6" y="1848" width="27.5" height="27.5"/>
<rect x="1221.9" y="1891.1" width="27.5" height="27.5"/>
<rect x="1066.3" y="1982.5" width="27.5" height="27.5"/>
<rect x="1535.5" y="1804.8" width="27.5" height="27.5"/>
<rect x="1221.1" y="1804.9" width="27.5" height="27.5"/>
<rect x="1334.8" y="1759.3" width="27.5" height="27.5"/>
<rect x="1480" y="1792.3" width="27.5" height="27.5"/>
<rect x="1454" y="1809.2" width="27.5" height="27.5"/>
<rect x="1364.3" y="1871.1" width="27.5" height="27.5"/>
<rect x="1181.7" y="1906.5" width="27.5" height="27.5"/>
<rect x="1510.6" y="1806.1" width="27.5" height="27.5"/>
<rect x="1045.4" y="1970.1" width="27.5" height="27.5"/>
<rect x="1110.3" y="1936.2" width="27.5" height="27.5"/>
<rect x="986.9" y="1964.3" width="27.5" height="27.5"/>
<rect x="1301.9" y="1900.5" width="27.5" height="27.5"/>
<rect x="1429.2" y="1821.7" width="27.5" height="27.5"/>
<rect x="1088" y="1977.2" width="27.5" height="27.5"/>
<rect x="1372.9" y="1770.1" width="27.5" height="27.5"/>
<rect x="1072.7" y="1985.7" width="27.5" height="27.5"/>
<rect x="1361.7" y="1779.5" width="27.5" height="27.5"/>
<rect x="1384.3" y="1874.9" width="27.5" height="27.5"/>
<rect x="1087.2" y="1876.5" width="27.5" height="27.5"/>
<rect x="1187.1" y="1815.5" width="27.5" height="27.5"/>
<rect x="1484.3" y="1810.7" width="27.5" height="27.5"/>
<rect x="1049.9" y="1942" width="27.5" height="27.5"/>
<rect x="1429.9" y="1755.7" width="27.5" height="27.5"/>
<rect x="1104.9" y="1942.1" width="27.5" height="27.5"/>
<rect x="1350.9" y="1831.9" width="27.5" height="27.5"/>
<rect x="1391.7" y="1805.3" width="27.5" height="27.5"/>
<rect x="1379.6" y="1775.9" width="27.5" height="27.5"/>
<rect x="1089.6" y="1895.5" width="27.5" height="27.5"/>
<rect x="1079" y="2014.3" width="27.5" height="27.5"/>
<rect x="1100.4" y="1903" width="27.5" height="27.5"/>
<rect x="1364" y="1830.4" width="27.5" height="27.5"/>
<rect x="1557.8" y="1638.4" width="27.5" height="27.5"/>
<rect x="1175.1" y="1907.4" width="27.5" height="27.5"/>
<rect x="1415.6" y="1751.3" width="27.5" height="27.5"/>
<rect x="1547.5" y="1719.7" width="27.5" height="27.5"/>
<rect x="1024.1" y="1993.9" width="27.5" height="27.5"/>
<rect x="1545.2" y="1611.2" width="27.5" height="27.5"/>
<rect x="1339.5" y="1836.2" width="27.5" height="27.5"/>
<rect x="1178.9" y="1829.9" width="27.5" height="27.5"/>
<rect x="1363.5" y="1736.3" width="27.5" height="27.5"/>
<rect x="1537.8" y="1791" width="27.5" height="27.5"/>
<rect x="1380.4" y="1828.6" width="27.5" height="27.5"/>
<rect x="1466.1" y="1712.6" width="27.5" height="27.5"/>
<rect x="1013.1" y="2042" width="27.5" height="27.5"/>
<rect x="1306.6" y="1870.5" width="27.5" height="27.5"/>
<rect x="1306" y="1797.5" width="27.5" height="27.5"/>
<rect x="1080.5" y="2028" width="27.5" height="27.5"/>
<rect x="1369.2" y="1752.6" width="27.5" height="27.5"/>
<rect x="1270" y="1758" width="27.5" height="27.5"/>
<rect x="1544.2" y="1534.1" width="27.5" height="27.5"/>
<rect x="1337.6" y="1765.4" width="27.5" height="27.5"/>
<rect x="1036" y="1951.5" width="27.5" height="27.5"/>
<rect x="1351.1" y="1803.6" width="27.5" height="27.5"/>
<rect x="1555.7" y="1687" width="27.5" height="27.5"/>
<rect x="1340.8" y="1862.3" width="27.5" height="27.5"/>
<rect x="1348.8" y="1839.6" width="27.5" height="27.5"/>
<rect x="1247.2" y="1899.7" width="27.5" height="27.5"/>
<rect x="1102.6" y="1973" width="27.5" height="27.5"/>
<rect x="1164.7" y="1857.1" width="27.5" height="27.5"/>
<rect x="1364.8" y="1854.2" width="27.5" height="27.5"/>
<rect x="1524.2" y="1725.1" width="27.5" height="27.5"/>
<rect x="1342.8" y="1801.1" width="27.5" height="27.5"/>
<rect x="1308.2" y="1809.3" width="27.5" height="27.5"/>
<rect x="1533.7" y="1732.7" width="27.5" height="27.5"/>
<rect x="1358.4" y="1836.7" width="27.5" height="27.5"/>
<rect x="1257" y="1860.3" width="27.5" height="27.5"/>
<rect x="1208.5" y="1861.3" width="27.5" height="27.5"/>
<rect x="1454.5" y="1736.3" width="27.5" height="27.5"/>
<rect x="1498.3" y="1757.4" width="27.5" height="27.5"/>
<rect x="1283" y="1792.8" width="27.5" height="27.5"/>
<rect x="1220.2" y="1901.4" width="27.5" height="27.5"/>
<rect x="1528.1" y="1807.1" width="27.5" height="27.5"/>
<rect x="1213.6" y="1792.2" width="27.5" height="27.5"/>
<rect x="1077.1" y="1923.2" width="27.5" height="27.5"/>
<rect x="1023.9" y="1950.4" width="27.5" height="27.5"/>
<rect x="1057.6" y="1989.4" width="27.5" height="27.5"/>
<rect x="1431.8" y="1844.8" width="27.5" height="27.5"/>
<rect x="1566" y="1760.7" width="27.5" height="27.5"/>
<rect x="1055.9" y="1954.2" width="27.5" height="27.5"/>
<rect x="1237.6" y="1878.9" width="27.5" height="27.5"/>
<rect x="1163.7" y="1923.7" width="27.5" height="27.5"/>
<rect x="1214.6" y="1833.8" width="27.5" height="27.5"/>
<rect x="1030.3" y="1975.9" width="27.5" height="27.5"/>
<rect x="1230.3" y="1855.6" width="27.5" height="27.5"/>
<rect x="1002.6" y="2098.5" width="27.5" height="27.5"/>
<rect x="1353.3" y="1778.6" width="27.5" height="27.5"/>
<rect x="1263.9" y="1825.4" width="27.5" height="27.5"/>
<rect x="1363.2" y="1890.8" width="27.5" height="27.5"/>
<rect x="1554.1" y="1612.3" width="27.5" height="27.5"/>
<rect x="1406.8" y="1761" width="27.5" height="27.5"/>
<rect x="1329.5" y="1776.6" width="27.5" height="27.5"/>
<rect x="1229.7" y="1890.3" width="27.5" height="27.5"/>
<rect x="1298.2" y="1819.1" width="27.5" height="27.5"/>
<rect x="1389.6" y="1818.5" width="27.5" height="27.5"/>
<rect x="1177.1" y="1890.9" width="27.5" height="27.5"/>
<rect x="1261.9" y="1895.6" width="27.5" height="27.5"/>
<rect x="1152" y="1894.7" width="27.5" height="27.5"/>
<rect x="1528.2" y="1799.1" width="27.5" height="27.5"/>
<rect x="1412.4" y="1840.6" width="27.5" height="27.5"/>
<rect x="1487.3" y="1825.7" width="27.5" height="27.5"/>
<rect x="1499.9" y="1791.2" width="27.5" height="27.5"/>
<rect x="1171.6" y="1837.6" width="27.5" height="27.5"/>
<rect x="1183.8" y="1808" width="27.5" height="27.5"/>
<rect x="1153.1" y="1872.8" width="27.5" height="27.5"/>
<rect x="1477.4" y="1734.9" width="27.5" height="27.5"/>
<rect x="1526.7" y="1732.9" width="27.5" height="27.5"/>
<rect x="975.8" y="1981.5" width="27.5" height="27.5"/>
<rect x="1343.5" y="1757.9" width="27.5" height="27.5"/>
<rect x="1183.8" y="1933.8" width="27.5" height="27.5"/>
<rect x="1551.9" y="1633.6" width="27.5" height="27.5"/>
<rect x="1261.7" y="1784.5" width="27.5" height="27.5"/>
<rect x="1446.1" y="1804.1" width="27.5" height="27.5"/>
<rect x="1128.4" y="1955.2" width="27.5" height="27.5"/>
<rect x="980.9" y="1987.5" width="27.5" height="27.5"/>
<rect x="1071.4" y="1992.9" width="27.5" height="27.5"/>
<rect x="1381.3" y="1795" width="27.5" height="27.5"/>
<rect x="1114.9" y="1918.4" width="27.5" height="27.5"/>
<rect x="1545.6" y="1666.3" width="27.5" height="27.5"/>
<rect x="1371.2" y="1873.5" width="27.5" height="27.5"/>
<rect x="1438.3" y="1814.2" width="27.5" height="27.5"/>
<rect x="1030.3" y="1960.6" width="27.5" height="27.5"/>
<rect x="1127.3" y="1942.5" width="27.5" height="27.5"/>
<rect x="1508.8" y="1738.2" width="27.5" height="27.5"/>
<rect x="1169.1" y="1967.7" width="27.5" height="27.5"/>
<rect x="1446" y="1772.1" width="27.5" height="27.5"/>
<rect x="1111.9" y="1961.6" width="27.5" height="27.5"/>
<rect x="1112.4" y="1928.5" width="27.5" height="27.5"/>
<rect x="1099.9" y="1961.5" width="27.5" height="27.5"/>
<rect x="973.5" y="2075.4" width="27.5" height="27.5"/>
<rect x="1050.9" y="2028.9" width="27.5" height="27.5"/>
<rect x="1427.4" y="1836" width="27.5" height="27.5"/>
<rect x="1274" y="1764.7" width="27.5" height="27.5"/>
<rect x="1254.5" y="1879.4" width="27.5" height="27.5"/>
<rect x="1445.8" y="1838.5" width="27.5" height="27.5"/>
<rect x="1453.2" y="1819" width="27.5" height="27.5"/>
<rect x="1140.9" y="1912.2" width="27.5" height="27.5"/>
<rect x="1484.5" y="1753.2" width="27.5" height="27.5"/>
<rect x="1182.7" y="1821.6" width="27.5" height="27.5"/>
<rect x="1546.1" y="1749" width="27.5" height="27.5"/>
<rect x="1544.6" y="1598.5" width="27.5" height="27.5"/>
<rect x="1542" y="1713" width="27.5" height="27.5"/>
<rect x="1316.1" y="1779.8" width="27.5" height="27.5"/>
<rect x="1191" y="1884.6" width="27.5" height="27.5"/>
<rect x="1110.1" y="1895.9" width="27.5" height="27.5"/>
<rect x="1335.2" y="1802.6" width="27.5" height="27.5"/>
<rect x="1145.5" y="1826" width="27.5" height="27.5"/>
<rect x="1489.9" y="1705.4" width="27.5" height="27.5"/>
<rect x="991" y="1992.4" width="27.5" height="27.5"/>
<rect x="1477" y="1723.3" width="27.5" height="27.5"/>
<rect x="1542.5" y="1807.3" width="27.5" height="27.5"/>
<rect x="982.3" y="2097.8" width="27.5" height="27.5"/>
<rect x="1021.2" y="2033.9" width="27.5" height="27.5"/>
<rect x="1426.4" y="1742.6" width="27.5" height="27.5"/>
<rect x="1258.5" y="1813.1" width="27.5" height="27.5"/>
<rect x="1084.6" y="2018.6" width="27.5" height="27.5"/>
<rect x="1101.1" y="1980.6" width="27.5" height="27.5"/>
<rect x="1535.5" y="1741.8" width="27.5" height="27.5"/>
<rect x="1017.8" y="1955.4" width="27.5" height="27.5"/>
<rect x="993.6" y="2032.7" width="27.5" height="27.5"/>
<rect x="1160" y="1887.4" width="27.5" height="27.5"/>
<rect x="999.2" y="2029.2" width="27.5" height="27.5"/>
<rect x="1445.1" y="1765.6" width="27.5" height="27.5"/>
<rect x="1027.1" y="1908.4" width="27.5" height="27.5"/>
<rect x="1421.2" y="1773.7" width="27.5" height="27.5"/>
<rect x="1180.3" y="1871.4" width="27.5" height="27.5"/>
<rect x="1236.8" y="1838" width="27.5" height="27.5"/>
<rect x="1041.5" y="1930.9" width="27.5" height="27.5"/>
<rect x="1553.3" y="1534.9" width="27.5" height="27.5"/>
<rect x="1045.4" y="1985.4" width="27.5" height="27.5"/>
<rect x="1254.7" y="1842.1" width="27.5" height="27.5"/>
<rect x="1209" y="1876.9" width="27.5" height="27.5"/>
<rect x="1045.9" y="1898.9" width="27.5" height="27.5"/>
<rect x="1088.3" y="1888" width="27.5" height="27.5"/>
<rect x="1312" y="1833.1" width="27.5" height="27.5"/>
<rect x="1395.4" y="1821.5" width="27.5" height="27.5"/>
<rect x="1430.1" y="1763.4" width="27.5" height="27.5"/>
<rect x="1356.8" y="1861" width="27.5" height="27.5"/>
<rect x="1540.4" y="1720.9" width="27.5" height="27.5"/>
<rect x="1305.2" y="1830.7" width="27.5" height="27.5"/>
<rect x="1541.5" y="1679.1" width="27.5" height="27.5"/>
<rect x="1433.6" y="1851.3" width="27.5" height="27.5"/>
<rect x="1389.6" y="1860.7" width="27.5" height="27.5"/>
<rect x="1269" y="1840" width="27.5" height="27.5"/>
<rect x="1342.5" y="1817.5" width="27.5" height="27.5"/>
<rect x="1343.8" y="1783.4" width="27.5" height="27.5"/>
<rect x="1269.6" y="1871.4" width="27.5" height="27.5"/>
<rect x="1564.6" y="1695.2" width="27.5" height="27.5"/>
<rect x="1212.4" y="1801.1" width="27.5" height="27.5"/>
<rect x="1038" y="2043" width="27.5" height="27.5"/>
<rect x="1114.2" y="1890.4" width="27.5" height="27.5"/>
<rect x="1541.2" y="1735.5" width="27.5" height="27.5"/>
<rect x="1106.6" y="1871.4" width="27.5" height="27.5"/>
<rect x="1273.9" y="1773.1" width="27.5" height="27.5"/>
<rect x="1455.8" y="1727.1" width="27.5" height="27.5"/>
<rect x="1488.8" y="1832.6" width="27.5" height="27.5"/>
<rect x="1436.1" y="1729.6" width="27.5" height="27.5"/>
<rect x="1000" y="2007.4" width="27.5" height="27.5"/>
<rect x="1387.1" y="1832.3" width="27.5" height="27.5"/>
<rect x="1137.8" y="1844.6" width="27.5" height="27.5"/>
<rect x="1111.4" y="1884.3" width="27.5" height="27.5"/>
<rect x="1009.6" y="1989.2" width="27.5" height="27.5"/>
<rect x="1346.2" y="1889.6" width="27.5" height="27.5"/>
<rect x="1377.8" y="1816.6" width="27.5" height="27.5"/>
<rect x="1464.1" y="1785.6" width="27.5" height="27.5"/>
<rect x="1238.4" y="1912.7" width="27.5" height="27.5"/>
<rect x="1294.2" y="1835.5" width="27.5" height="27.5"/>
<rect x="1426.5" y="1814.2" width="27.5" height="27.5"/>
<rect x="1320.6" y="1842.3" width="27.5" height="27.5"/>
<rect x="1552.9" y="1528.2" width="27.5" height="27.5"/>
<rect x="1553.9" y="1673.3" width="27.5" height="27.5"/>
<rect x="1515.5" y="1784" width="27.5" height="27.5"/>
<rect x="1157.2" y="1947.9" width="27.5" height="27.5"/>
<rect x="1524" y="1716.9" width="27.5" height="27.5"/>
<rect x="1270.8" y="1815" width="27.5" height="27.5"/>
<rect x="1265" y="1882.8" width="27.5" height="27.5"/>
<rect x="1113.7" y="1858.3" width="27.5" height="27.5"/>
<rect x="1401.5" y="1796.3" width="27.5" height="27.5"/>
<rect x="1005.6" y="2061.4" width="27.5" height="27.5"/>
<rect x="1055" y="1935.9" width="27.5" height="27.5"/>
<rect x="1052.1" y="1962.8" width="27.5" height="27.5"/>
<rect x="1328.2" y="1740.5" width="27.5" height="27.5"/>
<rect x="987" y="2080.8" width="27.5" height="27.5"/>
<rect x="1082.9" y="1927.1" width="27.5" height="27.5"/>
<rect x="1239.3" y="1802.8" width="27.5" height="27.5"/>
<rect x="982.5" y="2087.9" width="27.5" height="27.5"/>
<rect x="1460.1" y="1780.2" width="27.5" height="27.5"/>
<rect x="1013.6" y="2092.2" width="27.5" height="27.5"/>
<rect x="1148.4" y="1944.2" width="27.5" height="27.5"/>
<rect x="983" y="2007.1" width="27.5" height="27.5"/>
<rect x="1139.3" y="1945.4" width="27.5" height="27.5"/>
<rect x="1075.4" y="2041.7" width="27.5" height="27.5"/>
<rect x="1390" y="1772.2" width="27.5" height="27.5"/>
<rect x="1386.5" y="1749.9" width="27.5" height="27.5"/>
<rect x="1069.1" y="2012.3" width="27.5" height="27.5"/>
<rect x="1321.7" y="1767.1" width="27.5" height="27.5"/>
<rect x="1089.4" y="2023" width="27.5" height="27.5"/>
<rect x="1414.4" y="1832.3" width="27.5" height="27.5"/>
<rect x="1020" y="2083.7" width="27.5" height="27.5"/>
<rect x="1298.3" y="1883.6" width="27.5" height="27.5"/>
<rect x="1086.3" y="1992.8" width="27.5" height="27.5"/>
<rect x="958" y="2125.1" width="27.5" height="27.5"/>
<rect x="1308.2" y="1782.7" width="27.5" height="27.5"/>
<rect x="1224.8" y="1864.2" width="27.5" height="27.5"/>
<rect x="1124.8" y="1878.8" width="27.5" height="27.5"/>
<rect x="1192.9" y="1819.7" width="27.5" height="27.5"/>
<rect x="1290.6" y="1830.1" width="27.5" height="27.5"/>
<rect x="1047.2" y="2005.4" width="27.5" height="27.5"/>
<rect x="1229.6" y="1837.2" width="27.5" height="27.5"/>
<rect x="1316" y="1742.1" width="27.5" height="27.5"/>
<rect x="1339.1" y="1845.4" width="27.5" height="27.5"/>
<rect x="1551" y="1793.3" width="27.5" height="27.5"/>
<rect x="1549.2" y="1769.5" width="27.5" height="27.5"/>
<rect x="1100.5" y="1929.1" width="27.5" height="27.5"/>
<rect x="1447.3" y="1778.5" width="27.5" height="27.5"/>
<rect x="1544.1" y="1636.3" width="27.5" height="27.5"/>
<rect x="1307" y="1822.7" width="27.5" height="27.5"/>
<rect x="1328.6" y="1756.7" width="27.5" height="27.5"/>
<rect x="1169.7" y="1880.6" width="27.5" height="27.5"/>
<rect x="1323.2" y="1780.2" width="27.5" height="27.5"/>
<rect x="1095.1" y="1975.9" width="27.5" height="27.5"/>
<rect x="1062.8" y="1956.5" width="27.5" height="27.5"/>
<rect x="1426.1" y="1749.5" width="27.5" height="27.5"/>
<rect x="1358.9" y="1801" width="27.5" height="27.5"/>
<rect x="1460.8" y="1832.8" width="27.5" height="27.5"/>
<rect x="1067.7" y="1890.8" width="27.5" height="27.5"/>
<rect x="1203.8" y="1933.3" width="27.5" height="27.5"/>
<rect x="1115.4" y="1974.7" width="27.5" height="27.5"/>
<rect x="1319" y="1848.9" width="27.5" height="27.5"/>
<rect x="1557.2" y="1797.3" width="27.5" height="27.5"/>
<rect x="1248.2" y="1864.4" width="27.5" height="27.5"/>
<rect x="1204.5" y="1866.6" width="27.5" height="27.5"/>
<rect x="1249.2" y="1806.7" width="27.5" height="27.5"/>
<rect x="1288.9" y="1861.3" width="27.5" height="27.5"/>
<rect x="998.6" y="2057.5" width="27.5" height="27.5"/>
<rect x="1219.2" y="1840.3" width="27.5" height="27.5"/>
<rect x="1449.4" y="1730.7" width="27.5" height="27.5"/>
<rect x="1332.2" y="1830.7" width="27.5" height="27.5"/>
<rect x="1492.2" y="1856.7" width="27.5" height="27.5"/>
<rect x="1211" y="1845.5" width="27.5" height="27.5"/>
<rect x="1016.9" y="2049.1" width="27.5" height="27.5"/>
<rect x="1086.1" y="1933.3" width="27.5" height="27.5"/>
<rect x="1324.3" y="1857.2" width="27.5" height="27.5"/>
<rect x="994.7" y="1986" width="27.5" height="27.5"/>
<rect x="969.4" y="2060.3" width="27.5" height="27.5"/>
<rect x="1523.7" y="1689.3" width="27.5" height="27.5"/>
<rect x="1116.4" y="1907.5" width="27.5" height="27.5"/>
<rect x="1183.6" y="1920.1" width="27.5" height="27.5"/>
<rect x="1553.7" y="1714.4" width="27.5" height="27.5"/>
<rect x="1153.8" y="1844.3" width="27.5" height="27.5"/>
<rect x="1495.4" y="1806.4" width="27.5" height="27.5"/>
<rect x="1409.8" y="1777.7" width="27.5" height="27.5"/>
<rect x="1222.7" y="1926.4" width="27.5" height="27.5"/>
<rect x="1292.7" y="1787.4" width="27.5" height="27.5"/>
<rect x="1519.1" y="1801.6" width="27.5" height="27.5"/>
<rect x="1292.3" y="1854.6" width="27.5" height="27.5"/>
<rect x="1209.2" y="1813.9" width="27.5" height="27.5"/>
<rect x="999.5" y="2070.1" width="27.5" height="27.5"/>
<rect x="1509.1" y="1709.9" width="27.5" height="27.5"/>
<rect x="1255.3" y="1849.1" width="27.5" height="27.5"/>
<rect x="1291.2" y="1883.9" width="27.5" height="27.5"/>
<rect x="1549.9" y="1818.3" width="27.5" height="27.5"/>
<rect x="1347.1" y="1859.3" width="27.5" height="27.5"/>
<rect x="1087.8" y="1984.7" width="27.5" height="27.5"/>
<rect x="1250" y="1853.1" width="27.5" height="27.5"/>
<rect x="1350.9" y="1751.7" width="27.5" height="27.5"/>
<rect x="1116.9" y="1939.5" width="27.5" height="27.5"/>
<rect x="1329.5" y="1747.4" width="27.5" height="27.5"/>
<rect x="1506.4" y="1691.3" width="27.5" height="27.5"/>
<rect x="1365.6" y="1774.2" width="27.5" height="27.5"/>
<rect x="990.7" y="2051.7" width="27.5" height="27.5"/>
<rect x="1191.1" y="1801.2" width="27.5" height="27.5"/>
<rect x="1194.1" y="1878.9" width="27.5" height="27.5"/>
<rect x="1366.8" y="1844.1" width="27.5" height="27.5"/>
<rect x="1263.3" y="1902.8" width="27.5" height="27.5"/>
<rect x="948.6" y="2096.2" width="27.5" height="27.5"/>
<rect x="1485.6" y="1719.4" width="27.5" height="27.5"/>
<rect x="1407.6" y="1816.5" width="27.5" height="27.5"/>
<rect x="1199.2" y="1921.5" width="27.5" height="27.5"/>
<rect x="1264.7" y="1810.7" width="27.5" height="27.5"/>
<rect x="1046.6" y="1915.6" width="27.5" height="27.5"/>
<rect x="1203.8" y="1800.3" width="27.5" height="27.5"/>
<rect x="1074.9" y="1967.7" width="27.5" height="27.5"/>
<rect x="1102" y="2008.3" width="27.5" height="27.5"/>
<rect x="1075.1" y="1960.4" width="27.5" height="27.5"/>
<rect x="1230.9" y="1877.9" width="27.5" height="27.5"/>
<rect x="1131" y="1896.8" width="27.5" height="27.5"/>
<rect x="1100" y="1882.7" width="27.5" height="27.5"/>
<rect x="1403.6" y="1773.1" width="27.5" height="27.5"/>
<rect x="1107.3" y="1948.5" width="27.5" height="27.5"/>
<rect x="1405.2" y="1833.4" width="27.5" height="27.5"/>
<rect x="1544.7" y="1522" width="27.5" height="27.5"/>
<rect x="1263.4" y="1817.5" width="27.5" height="27.5"/>
<rect x="1368.1" y="1818.9" width="27.5" height="27.5"/>
<rect x="1458.3" y="1772.5" width="27.5" height="27.5"/>
<rect x="1048.9" y="2039.4" width="27.5" height="27.5"/>
<rect x="1003.7" y="2088.5" width="27.5" height="27.5"/>
<rect x="1396.8" y="1787.4" width="27.5" height="27.5"/>
<rect x="1288" y="1918" width="27.5" height="27.5"/>
<rect x="1087.6" y="2002.4" width="27.5" height="27.5"/>
<rect x="1278.5" y="1828.6" width="27.5" height="27.5"/>
<rect x="1024.7" y="2051.1" width="27.5" height="27.5"/>
<rect x="963" y="2119.3" width="27.5" height="27.5"/>
<rect x="1316.3" y="1791.5" width="27.5" height="27.5"/>
<rect x="1035.5" y="2013" width="27.5" height="27.5"/>
<rect x="1336.3" y="1795.6" width="27.5" height="27.5"/>
<rect x="1092.1" y="1996.3" width="27.5" height="27.5"/>
<rect x="1399.8" y="1807.6" width="27.5" height="27.5"/>
<rect x="1029.6" y="1954.1" width="27.5" height="27.5"/>
<rect x="1460.6" y="1807.8" width="27.5" height="27.5"/>
<rect x="1558.5" y="1656.5" width="27.5" height="27.5"/>
<rect x="1480" y="1744.9" width="27.5" height="27.5"/>
<rect x="1011.2" y="2004.7" width="27.5" height="27.5"/>
<rect x="956.6" y="2091.4" width="27.5" height="27.5"/>
<rect x="1534.5" y="1797.3" width="27.5" height="27.5"/>
<rect x="1247" y="1893.2" width="27.5" height="27.5"/>
<rect x="1360.1" y="1769.3" width="27.5" height="27.5"/>
<rect x="1503.2" y="1782.5" width="27.5" height="27.5"/>
<rect x="1542.3" y="1702" width="27.5" height="27.5"/>
<rect x="985.6" y="2021.7" width="27.5" height="27.5"/>
<rect x="1292.2" y="1823.3" width="27.5" height="27.5"/>
<rect x="1187.8" y="1847.4" width="27.5" height="27.5"/>
<rect x="1021.8" y="2018" width="27.5" height="27.5"/>
<rect x="1531.4" y="1725.6" width="27.5" height="27.5"/>
<rect x="1544.2" y="1588.4" width="27.5" height="27.5"/>
<rect x="1357.5" y="1828" width="27.5" height="27.5"/>
<rect x="1181.5" y="1844.8" width="27.5" height="27.5"/>
<rect x="1268.6" y="1847.6" width="27.5" height="27.5"/>
<rect x="1465.1" y="1767" width="27.5" height="27.5"/>
<rect x="1472.1" y="1797" width="27.5" height="27.5"/>
<rect x="1178.7" y="1852.3" width="27.5" height="27.5"/>
<rect x="1118.2" y="1874.4" width="27.5" height="27.5"/>
<rect x="1323.2" y="1773.7" width="27.5" height="27.5"/>
<rect x="1257.9" y="1867.3" width="27.5" height="27.5"/>
<rect x="1341.2" y="1807.9" width="27.5" height="27.5"/>
<rect x="1552.9" y="1581.2" width="27.5" height="27.5"/>
<rect x="1445.1" y="1825.8" width="27.5" height="27.5"/>
<rect x="1411.6" y="1826.3" width="27.5" height="27.5"/>
<rect x="1089.5" y="1967.8" width="27.5" height="27.5"/>
<rect x="1404" y="1854.1" width="27.5" height="27.5"/>
<rect x="1391.1" y="1754.7" width="27.5" height="27.5"/>
<rect x="1446.4" y="1819.2" width="27.5" height="27.5"/>
<rect x="1544.5" y="1624.7" width="27.5" height="27.5"/>
<rect x="1334.3" y="1866.8" width="27.5" height="27.5"/>
<rect x="1390.6" y="1846.4" width="27.5" height="27.5"/>
<rect x="1026.1" y="2000.5" width="27.5" height="27.5"/>
<rect x="1488.2" y="1744.5" width="27.5" height="27.5"/>
<rect x="1287.3" y="1801.7" width="27.5" height="27.5"/>
<rect x="1551.3" y="1743" width="27.5" height="27.5"/>
<rect x="1233.2" y="1797.9" width="27.5" height="27.5"/>
<rect x="961.6" y="2097" width="27.5" height="27.5"/>
<rect x="1472.2" y="1755.5" width="27.5" height="27.5"/>
<rect x="1196.3" y="1932.2" width="27.5" height="27.5"/>
<rect x="1437.9" y="1756.6" width="27.5" height="27.5"/>
<rect x="1519.9" y="1789.5" width="27.5" height="27.5"/>
<rect x="1298.3" y="1926.1" width="27.5" height="27.5"/>
<rect x="1447.4" y="1786.3" width="27.5" height="27.5"/>
<rect x="1207" y="1887" width="27.5" height="27.5"/>
<rect x="1161.4" y="1942" width="27.5" height="27.5"/>
<rect x="1203.1" y="1843.3" width="27.5" height="27.5"/>
<rect x="1255.7" y="1806.1" width="27.5" height="27.5"/>
<rect x="1123.4" y="1986.3" width="27.5" height="27.5"/>
<rect x="1106.6" y="1985" width="27.5" height="27.5"/>
<rect x="1042.9" y="2047.8" width="27.5" height="27.5"/>
<rect x="1435.7" y="1778" width="27.5" height="27.5"/>
<rect x="1060.6" y="1979.2" width="27.5" height="27.5"/>
<rect x="1008.6" y="2074.2" width="27.5" height="27.5"/>
<rect x="1328.2" y="1836.8" width="27.5" height="27.5"/>
<rect x="1428.2" y="1777.5" width="27.5" height="27.5"/>
<rect x="1038.3" y="1970.9" width="27.5" height="27.5"/>
<rect x="1157.8" y="1903.4" width="27.5" height="27.5"/>
<rect x="1451.8" y="1767.4" width="27.5" height="27.5"/>
<rect x="1357.6" y="1788.6" width="27.5" height="27.5"/>
<rect x="1079.8" y="1988.3" width="27.5" height="27.5"/>
<rect x="1551.8" y="1679.5" width="27.5" height="27.5"/>
<rect x="1103.1" y="1995.9" width="27.5" height="27.5"/>
<rect x="1372" y="1856.8" width="27.5" height="27.5"/>
<rect x="1190.2" y="1919.6" width="27.5" height="27.5"/>
<rect x="1481.1" y="1711" width="27.5" height="27.5"/>
<rect x="1427.7" y="1785.3" width="27.5" height="27.5"/>
<rect x="1167.5" y="1896" width="27.5" height="27.5"/>
<rect x="1006.6" y="2042.9" width="27.5" height="27.5"/>
<rect x="1038.2" y="2036.3" width="27.5" height="27.5"/>
<rect x="1330.3" y="1878" width="27.5" height="27.5"/>
<rect x="1155.4" y="1880.7" width="27.5" height="27.5"/>
<rect x="1277.1" y="1758.7" width="27.5" height="27.5"/>
<rect x="1422.3" y="1791" width="27.5" height="27.5"/>
<rect x="1305.3" y="1906.5" width="27.5" height="27.5"/>
<rect x="1423.6" y="1759.6" width="27.5" height="27.5"/>
<rect x="1380.9" y="1806.3" width="27.5" height="27.5"/>
<rect x="1137.1" y="1831.7" width="27.5" height="27.5"/>
<rect x="992.1" y="2016.4" width="27.5" height="27.5"/>
<rect x="1529.1" y="1782.7" width="27.5" height="27.5"/>
<rect x="966.8" y="2046" width="27.5" height="27.5"/>
<rect x="1186.2" y="1897.4" width="27.5" height="27.5"/>
<rect x="1331" y="1847.6" width="27.5" height="27.5"/>
<rect x="1062.8" y="1898.9" width="27.5" height="27.5"/>
<rect x="1469.1" y="1813.3" width="27.5" height="27.5"/>
<rect x="1296.6" y="1860.2" width="27.5" height="27.5"/>
<rect x="1036.5" y="1903.4" width="27.5" height="27.5"/>
<rect x="1507.5" y="1766.2" width="27.5" height="27.5"/>
<rect x="1273.8" y="1876.6" width="27.5" height="27.5"/>
<rect x="1036.8" y="1991.2" width="27.5" height="27.5"/>
<rect x="1187" y="1927.8" width="27.5" height="27.5"/>
<rect x="1312" y="1890.3" width="27.5" height="27.5"/>
<rect x="962.5" y="2019.4" width="27.5" height="27.5"/>
<rect x="1520.6" y="1821.2" width="27.5" height="27.5"/>
<rect x="1283.5" y="1911.9" width="27.5" height="27.5"/>
<rect x="991.9" y="1974.3" width="27.5" height="27.5"/>
<rect x="1504.1" y="1805.4" width="27.5" height="27.5"/>
<rect x="1095.8" y="1955.9" width="27.5" height="27.5"/>
<rect x="1423.9" y="1851" width="27.5" height="27.5"/>
<rect x="963" y="2026.8" width="27.5" height="27.5"/>
<rect x="1071.6" y="1928.1" width="27.5" height="27.5"/>
<rect x="1556.5" y="1647" width="27.5" height="27.5"/>
<rect x="949.9" y="2103.9" width="27.5" height="27.5"/>
<rect x="1345.5" y="1826.1" width="27.5" height="27.5"/>
<rect x="1350.7" y="1875.3" width="27.5" height="27.5"/>
<rect x="1422.8" y="1823.8" width="27.5" height="27.5"/>
<rect x="1544.1" y="1792.8" width="27.5" height="27.5"/>
<rect x="1237.7" y="1817.1" width="27.5" height="27.5"/>
<rect x="1132.3" y="1881.4" width="27.5" height="27.5"/>
<rect x="1458.5" y="1824.3" width="27.5" height="27.5"/>
<rect x="1450.3" y="1719.2" width="27.5" height="27.5"/>
<rect x="1217" y="1883.8" width="27.5" height="27.5"/>
<rect x="991.8" y="2102.5" width="27.5" height="27.5"/>
<rect x="1266.6" y="1890.7" width="27.5" height="27.5"/>
<rect x="1120" y="1850.5" width="27.5" height="27.5"/>
<rect x="1434.6" y="1736.7" width="27.5" height="27.5"/>
<rect x="1529.7" y="1738.7" width="27.5" height="27.5"/>
<rect x="998.5" y="2045.9" width="27.5" height="27.5"/>
<rect x="1433.9" y="1744.1" width="27.5" height="27.5"/>
<rect x="951.2" y="2077.2" width="27.5" height="27.5"/>
<rect x="1286.1" y="1810" width="27.5" height="27.5"/>
<rect x="1280.5" y="1769.7" width="27.5" height="27.5"/>
<rect x="1130.5" y="1928" width="27.5" height="27.5"/>
<rect x="1150" y="1915" width="27.5" height="27.5"/>
<rect x="1503.1" y="1722.4" width="27.5" height="27.5"/>
<rect x="1337.4" y="1750.5" width="27.5" height="27.5"/>
<rect x="1386.4" y="1799.3" width="27.5" height="27.5"/>
<rect x="951.6" y="2087" width="27.5" height="27.5"/>
<rect x="1541.3" y="1768.8" width="27.5" height="27.5"/>
<rect x="1048.1" y="1905.8" width="27.5" height="27.5"/>
<rect x="1221.2" y="1857.8" width="27.5" height="27.5"/>
<rect x="1179.2" y="1913.1" width="27.5" height="27.5"/>
<rect x="1379.9" y="1754.3" width="27.5" height="27.5"/>
<rect x="1429.8" y="1828.3" width="27.5" height="27.5"/>
<rect x="1012" y="2011.7" width="27.5" height="27.5"/>
<rect x="1052.2" y="2016.3" width="27.5" height="27.5"/>
<rect x="1294.1" y="1811.5" width="27.5" height="27.5"/>
<rect x="1145.4" y="1954.3" width="27.5" height="27.5"/>
<rect x="1185.5" y="1947.2" width="27.5" height="27.5"/>
<rect x="946.5" y="2142.2" width="27.5" height="27.5"/>
<rect x="1550.5" y="1563.4" width="27.5" height="27.5"/>
<rect x="1126.9" y="1852.9" width="27.5" height="27.5"/>
<rect x="1548.7" y="1726.7" width="27.5" height="27.5"/>
<rect x="1519.4" y="1742.2" width="27.5" height="27.5"/>
<rect x="1147.1" y="1925.1" width="27.5" height="27.5"/>
<rect x="1122.1" y="1971.3" width="27.5" height="27.5"/>
<rect x="1535.6" y="1709.6" width="27.5" height="27.5"/>
<rect x="1270.3" y="1903.2" width="27.5" height="27.5"/>
<rect x="969.5" y="2067.7" width="27.5" height="27.5"/>
<rect x="1543.8" y="1611.3" width="27.5" height="27.5"/>
<rect x="1549.2" y="1618.4" width="27.5" height="27.5"/>
<rect x="982.9" y="2045.5" width="27.5" height="27.5"/>
<rect x="1419.9" y="1766.4" width="27.5" height="27.5"/>
<rect x="1077.3" y="1916.3" width="27.5" height="27.5"/>
<rect x="1373.2" y="1806" width="27.5" height="27.5"/>
<rect x="997.1" y="2038.4" width="27.5" height="27.5"/>
<rect x="1475" y="1714.1" width="27.5" height="27.5"/>
<rect x="1377.6" y="1870.2" width="27.5" height="27.5"/>
<rect x="1553.4" y="1557" width="27.5" height="27.5"/>
<rect x="1245.6" y="1837" width="27.5" height="27.5"/>
<rect x="1512" y="1754.5" width="27.5" height="27.5"/>
<rect x="1049.9" y="2048.3" width="27.5" height="27.5"/>
<rect x="1085.5" y="2034.8" width="27.5" height="27.5"/>
<rect x="1288.8" y="1905.6" width="27.5" height="27.5"/>
<rect x="1327.8" y="1815.3" width="27.5" height="27.5"/>
<rect x="1308.5" y="1896" width="27.5" height="27.5"/>
<rect x="1325.3" y="1872.3" width="27.5" height="27.5"/>
<rect x="1350.1" y="1761.8" width="27.5" height="27.5"/>
<rect x="1543.1" y="1816.2" width="27.5" height="27.5"/>
<rect x="1186.1" y="1865" width="27.5" height="27.5"/>
<rect x="950.4" y="2052.1" width="27.5" height="27.5"/>
<rect x="1114.2" y="1901" width="27.5" height="27.5"/>
<rect x="1452.7" y="1752.3" width="27.5" height="27.5"/>
<rect x="1484.6" y="1759.8" width="27.5" height="27.5"/>
<rect x="1020.2" y="2076.3" width="27.5" height="27.5"/>
<rect x="1459.7" y="1719.4" width="27.5" height="27.5"/>
<rect x="1221.8" y="1819.3" width="27.5" height="27.5"/>
<rect x="1307.8" y="1791.2" width="27.5" height="27.5"/>
<rect x="1145.9" y="1887.1" width="27.5" height="27.5"/>
<rect x="1026.6" y="1938.4" width="27.5" height="27.5"/>
<rect x="1153" y="1953.7" width="27.5" height="27.5"/>
<rect x="943" y="2129.1" width="27.5" height="27.5"/>
<rect x="1200.6" y="1829.5" width="27.5" height="27.5"/>
<rect x="1331.8" y="1769.7" width="27.5" height="27.5"/>
<rect x="1018.7" y="2001.4" width="27.5" height="27.5"/>
<rect x="1308.9" y="1765.8" width="27.5" height="27.5"/>
<rect x="1154.8" y="1851.4" width="27.5" height="27.5"/>
<rect x="975.1" y="2098.3" width="27.5" height="27.5"/>
<rect x="1432.8" y="1799.5" width="27.5" height="27.5"/>
<rect x="970.7" y="2105" width="27.5" height="27.5"/>
<rect x="1076.1" y="1979.3" width="27.5" height="27.5"/>
<rect x="1292.8" y="1846.6" width="27.5" height="27.5"/>
<rect x="968.5" y="2095.7" width="27.5" height="27.5"/>
<rect x="1053.8" y="2001.3" width="27.5" height="27.5"/>
<rect x="1537.3" y="1763.1" width="27.5" height="27.5"/>
<rect x="1495" y="1694.4" width="27.5" height="27.5"/>
<rect x="1518" y="1735.6" width="27.5" height="27.5"/>
<rect x="1094.3" y="1982.4" width="27.5" height="27.5"/>
<rect x="1347.7" y="1812.7" width="27.5" height="27.5"/>
<rect x="1029.4" y="1989.4" width="27.5" height="27.5"/>
<rect x="1139.5" y="1861.4" width="27.5" height="27.5"/>
<rect x="1222.3" y="1826.5" width="27.5" height="27.5"/>
<rect x="1296.2" y="1905.7" width="27.5" height="27.5"/>
<rect x="1334.4" y="1816" width="27.5" height="27.5"/>
<rect x="1126.6" y="1904.7" width="27.5" height="27.5"/>
<rect x="1175.9" y="1818.3" width="27.5" height="27.5"/>
<rect x="1487.8" y="1869.7" width="27.5" height="27.5"/>
<rect x="1283.7" y="1855.9" width="27.5" height="27.5"/>
<rect x="957.4" y="2055.4" width="27.5" height="27.5"/>
<rect x="1078.1" y="1933.5" width="27.5" height="27.5"/>
<rect x="1284.2" y="1761.4" width="27.5" height="27.5"/>
<rect x="1144.8" y="1937.9" width="27.5" height="27.5"/>
<rect x="1412.3" y="1802" width="27.5" height="27.5"/>
<rect x="1384.3" y="1851.3" width="27.5" height="27.5"/>
<rect x="1097.7" y="1896.6" width="27.5" height="27.5"/>
<rect x="1092.2" y="1881.6" width="27.5" height="27.5"/>
<rect x="1497.2" y="1863.8" width="27.5" height="27.5"/>
<rect x="1195.8" y="1843.1" width="27.5" height="27.5"/>
<rect x="1257.8" y="1834.6" width="27.5" height="27.5"/>
<rect x="1536.2" y="1784.4" width="27.5" height="27.5"/>
<rect x="1069.1" y="1944.9" width="27.5" height="27.5"/>
<rect x="1168.8" y="1947.8" width="27.5" height="27.5"/>
<rect x="1037.2" y="1944.9" width="27.5" height="27.5"/>
<rect x="1052.1" y="1993.6" width="27.5" height="27.5"/>
<rect x="1254.7" y="1900.7" width="27.5" height="27.5"/>
<rect x="1545.2" y="1580.2" width="27.5" height="27.5"/>
<rect x="1044.2" y="1950.8" width="27.5" height="27.5"/>
<rect x="1557.9" y="1666.9" width="27.5" height="27.5"/>
<rect x="1083.3" y="1965.6" width="27.5" height="27.5"/>
<rect x="1485.5" y="1727.7" width="27.5" height="27.5"/>
<rect x="1136.9" y="1900.6" width="27.5" height="27.5"/>
<rect x="1207.3" y="1807.3" width="27.5" height="27.5"/>
<rect x="1322.3" y="1758.9" width="27.5" height="27.5"/>
<rect x="1285.6" y="1899.8" width="27.5" height="27.5"/>
<rect x="1498.8" y="1742.9" width="27.5" height="27.5"/>
<rect x="979.1" y="2013.5" width="27.5" height="27.5"/>
<rect x="1076.4" y="1944.6" width="27.5" height="27.5"/>
<rect x="1440.9" y="1851.3" width="27.5" height="27.5"/>
<rect x="914.9" y="2093.3" width="27.5" height="27.5"/>
<rect x="1276.5" y="1836.2" width="27.5" height="27.5"/>
<rect x="1564.8" y="1771.8" width="27.5" height="27.5"/>
<rect x="1047.8" y="1935.2" width="27.5" height="27.5"/>
<rect x="1509.3" y="1702.9" width="27.5" height="27.5"/>
<rect x="1226.6" y="1884.5" width="27.5" height="27.5"/>
<rect x="1533.4" y="1717.2" width="27.5" height="27.5"/>
<rect x="1305.6" y="1839.7" width="27.5" height="27.5"/>
<rect x="1486.3" y="1852.6" width="27.5" height="27.5"/>
<rect x="969.4" y="2022.4" width="27.5" height="27.5"/>
<rect x="1528.3" y="1791.9" width="27.5" height="27.5"/>
<rect x="1045.6" y="1994" width="27.5" height="27.5"/>
<rect x="1264.9" y="1831.9" width="27.5" height="27.5"/>
<rect x="1322.7" y="1794.2" width="27.5" height="27.5"/>
<rect x="961.9" y="2050.5" width="27.5" height="27.5"/>
<rect x="956.7" y="2045.1" width="27.5" height="27.5"/>
<rect x="1036.7" y="1937.2" width="27.5" height="27.5"/>
<rect x="990.2" y="2006.4" width="27.5" height="27.5"/>
<rect x="978.4" y="2052.6" width="27.5" height="27.5"/>
<rect x="1467.8" y="1737.7" width="27.5" height="27.5"/>
<rect x="1241" y="1810" width="27.5" height="27.5"/>
<rect x="929.1" y="2097.4" width="27.5" height="27.5"/>
<rect x="1158.1" y="1919.3" width="27.5" height="27.5"/>
<rect x="1110.6" y="1990.9" width="27.5" height="27.5"/>
<rect x="1002.1" y="2077.5" width="27.5" height="27.5"/>
<rect x="1470.9" y="1730" width="27.5" height="27.5"/>
<rect x="1128.2" y="1872.5" width="27.5" height="27.5"/>
<rect x="1354.1" y="1772.1" width="27.5" height="27.5"/>
<rect x="1282.8" y="1874.3" width="27.5" height="27.5"/>
<rect x="924.7" y="2061.2" width="27.5" height="27.5"/>
<rect x="1171" y="1941.2" width="27.5" height="27.5"/>
<rect x="1527.2" y="1748.2" width="27.5" height="27.5"/>
<rect x="1483" y="1698.5" width="27.5" height="27.5"/>
<rect x="1474.8" y="1828" width="27.5" height="27.5"/>
<rect x="1547.1" y="1786.9" width="27.5" height="27.5"/>
<rect x="1013.8" y="1995" width="27.5" height="27.5"/>
<rect x="1028" y="1982.3" width="27.5" height="27.5"/>
<rect x="1448.3" y="1740" width="27.5" height="27.5"/>
<rect x="1417.3" y="1796.6" width="27.5" height="27.5"/>
<rect x="991.4" y="2026.3" width="27.5" height="27.5"/>
<rect x="1214.5" y="1818.5" width="27.5" height="27.5"/>
<rect x="965.2" y="2072.7" width="27.5" height="27.5"/>
<rect x="1445.9" y="1811.1" width="27.5" height="27.5"/>
<rect x="1060.4" y="1931.7" width="27.5" height="27.5"/>
<rect x="952.3" y="2134.7" width="27.5" height="27.5"/>
<rect x="1321.9" y="1805.2" width="27.5" height="27.5"/>
<rect x="1299.7" y="1874.4" width="27.5" height="27.5"/>
<rect x="1508.1" y="1792.4" width="27.5" height="27.5"/>
<rect x="1215.3" y="1861.3" width="27.5" height="27.5"/>
<rect x="1031.4" y="2043.7" width="27.5" height="27.5"/>
<rect x="1404.6" y="1787.5" width="27.5" height="27.5"/>
<rect x="1506" y="1829.8" width="27.5" height="27.5"/>
<rect x="969.9" y="2009.9" width="27.5" height="27.5"/>
<rect x="919.5" y="2170.3" width="27.5" height="27.5"/>
<rect x="1492.1" y="1770" width="27.5" height="27.5"/>
<rect x="953.7" y="2069.6" width="27.5" height="27.5"/>
<rect x="1027.6" y="2037.8" width="27.5" height="27.5"/>
<rect x="921.2" y="2146.9" width="27.5" height="27.5"/>
<rect x="1008.6" y="1953.6" width="27.5" height="27.5"/>
<rect x="1372.6" y="1886.5" width="27.5" height="27.5"/>
<rect x="1404.8" y="1802.8" width="27.5" height="27.5"/>
<rect x="1287.5" y="1817" width="27.5" height="27.5"/>
<rect x="1374.6" y="1850.7" width="27.5" height="27.5"/>
<rect x="981.1" y="1976.8" width="27.5" height="27.5"/>
<rect x="1104.2" y="1891.4" width="27.5" height="27.5"/>
<rect x="1032.2" y="1932.5" width="27.5" height="27.5"/>
<rect x="941.6" y="2088" width="27.5" height="27.5"/>
<rect x="939.6" y="2041.7" width="27.5" height="27.5"/>
<rect x="907" y="2177.5" width="27.5" height="27.5"/>
<rect x="1294.1" y="1898.9" width="27.5" height="27.5"/>
<rect x="1365.9" y="1809.5" width="27.5" height="27.5"/>
<rect x="1293" y="1874.6" width="27.5" height="27.5"/>
<rect x="1068.5" y="1965" width="27.5" height="27.5"/>
<rect x="1201.2" y="1872.3" width="27.5" height="27.5"/>
<rect x="1413.2" y="1852.7" width="27.5" height="27.5"/>
<rect x="1549.9" y="1703.6" width="27.5" height="27.5"/>
<rect x="1164" y="1877" width="27.5" height="27.5"/>
<rect x="1060.8" y="1963.8" width="27.5" height="27.5"/>
<rect x="1561" y="1791.2" width="27.5" height="27.5"/>
<rect x="1178.3" y="1838.9" width="27.5" height="27.5"/>
<rect x="1366.1" y="1861.1" width="27.5" height="27.5"/>
<rect x="936.2" y="2141.7" width="27.5" height="27.5"/>
<rect x="932.1" y="2090.7" width="27.5" height="27.5"/>
<rect x="902.9" y="2147.2" width="27.5" height="27.5"/>
<rect x="1157.1" y="1826.2" width="27.5" height="27.5"/>
<rect x="917" y="2181.3" width="27.5" height="27.5"/>
<rect x="1499.5" y="1837.3" width="27.5" height="27.5"/>
<rect x="911.7" y="2121.6" width="27.5" height="27.5"/>
<rect x="1499.1" y="1824.3" width="27.5" height="27.5"/>
<rect x="1165.1" y="1934.3" width="27.5" height="27.5"/>
<rect x="1018.5" y="2056.7" width="27.5" height="27.5"/>
<rect x="1541.1" y="1799.4" width="27.5" height="27.5"/>
<rect x="976.4" y="2045.7" width="27.5" height="27.5"/>
<rect x="1045.2" y="2032.3" width="27.5" height="27.5"/>
<rect x="944.8" y="2066.2" width="27.5" height="27.5"/>
<rect x="1082.5" y="1899.1" width="27.5" height="27.5"/>
<rect x="891.2" y="2173.9" width="27.5" height="27.5"/>
<rect x="1556.8" y="1739.5" width="27.5" height="27.5"/>
<rect x="1469.7" y="1820.4" width="27.5" height="27.5"/>
<rect x="1185.1" y="1856.9" width="27.5" height="27.5"/>
<rect x="1111.4" y="1911.9" width="27.5" height="27.5"/>
<rect x="1306.4" y="1877.1" width="27.5" height="27.5"/>
<rect x="1290.4" y="1890.9" width="27.5" height="27.5"/>
<rect x="1302.4" y="1856.7" width="27.5" height="27.5"/>
<rect x="1279.3" y="1897" width="27.5" height="27.5"/>
<rect x="1043.4" y="1942.5" width="27.5" height="27.5"/>
<rect x="1124.4" y="1922.8" width="27.5" height="27.5"/>
<rect x="992.3" y="2064.1" width="27.5" height="27.5"/>
<rect x="1470.9" y="1788.2" width="27.5" height="27.5"/>
<rect x="1351.8" y="1894.1" width="27.5" height="27.5"/>
<rect x="1161.6" y="1846.4" width="27.5" height="27.5"/>
<rect x="950" y="2039.5" width="27.5" height="27.5"/>
<rect x="1155.7" y="1864" width="27.5" height="27.5"/>
<rect x="1342.1" y="1791" width="27.5" height="27.5"/>
<rect x="1045.1" y="2013.1" width="27.5" height="27.5"/>
<rect x="1493.1" y="1749" width="27.5" height="27.5"/>
<rect x="1054.2" y="2010.1" width="27.5" height="27.5"/>
<rect x="1282.3" y="1776.8" width="27.5" height="27.5"/>
<rect x="1379.6" y="1836.1" width="27.5" height="27.5"/>
<rect x="898.6" y="2177.1" width="27.5" height="27.5"/>
<rect x="1374.9" y="1762.4" width="27.5" height="27.5"/>
<rect x="901.1" y="2140" width="27.5" height="27.5"/>
<rect x="1413.4" y="1771.2" width="27.5" height="27.5"/>
<rect x="1134.8" y="1933.9" width="27.5" height="27.5"/>
<rect x="897.7" y="2156.5" width="27.5" height="27.5"/>
<rect x="917.2" y="2079.6" width="27.5" height="27.5"/>
<rect x="921.4" y="2092.5" width="27.5" height="27.5"/>
<rect x="1004.8" y="2001.8" width="27.5" height="27.5"/>
<rect x="928.9" y="2067.4" width="27.5" height="27.5"/>
<rect x="1003.6" y="1962.6" width="27.5" height="27.5"/>
<rect x="947.5" y="2115.6" width="27.5" height="27.5"/>
<rect x="1031.6" y="1969.4" width="27.5" height="27.5"/>
<rect x="1283.1" y="1882.1" width="27.5" height="27.5"/>
<rect x="1286.7" y="1868" width="27.5" height="27.5"/>
<rect x="959.1" y="2084.4" width="27.5" height="27.5"/>
<rect x="1548.2" y="1780.1" width="27.5" height="27.5"/>
<rect x="943.8" y="2074.4" width="27.5" height="27.5"/>
<rect x="904.8" y="2084.3" width="27.5" height="27.5"/>
<rect x="935.5" y="2079.9" width="27.5" height="27.5"/>
<rect x="1010.2" y="2050.6" width="27.5" height="27.5"/>
<rect x="1207.6" y="1836.6" width="27.5" height="27.5"/>
<rect x="1369.5" y="1792.5" width="27.5" height="27.5"/>
<rect x="1310" y="1773.3" width="27.5" height="27.5"/>
<rect x="885.2" y="2135.4" width="27.5" height="27.5"/>
<rect x="1354.9" y="1867.4" width="27.5" height="27.5"/>
<rect x="919.3" y="2119.4" width="27.5" height="27.5"/>
<rect x="1387.4" y="1791.9" width="27.5" height="27.5"/>
<rect x="1392.9" y="1761.6" width="27.5" height="27.5"/>
<rect x="1018.9" y="2069" width="27.5" height="27.5"/>
<rect x="1494.8" y="1701.1" width="27.5" height="27.5"/>
<rect x="971.5" y="2052.9" width="27.5" height="27.5"/>
<rect x="1137.5" y="1886.6" width="27.5" height="27.5"/>
<rect x="1336.4" y="1787.6" width="27.5" height="27.5"/>
<rect x="905.5" y="2185.3" width="27.5" height="27.5"/>
<rect x="863.7" y="2125.2" width="27.5" height="27.5"/>
<rect x="1507.4" y="1748.1" width="27.5" height="27.5"/>
<rect x="1322" y="1811.8" width="27.5" height="27.5"/>
<rect x="878.7" y="2163.4" width="27.5" height="27.5"/>
<rect x="1384.9" y="1768.1" width="27.5" height="27.5"/>
<rect x="929.7" y="2146.1" width="27.5" height="27.5"/>
<rect x="928.9" y="2075.9" width="27.5" height="27.5"/>
<rect x="939.1" y="2095.7" width="27.5" height="27.5"/>
<rect x="980.2" y="2030.7" width="27.5" height="27.5"/>
<rect x="889.3" y="2127.9" width="27.5" height="27.5"/>
<rect x="876.9" y="2173.6" width="27.5" height="27.5"/>
<rect x="897.4" y="2111.2" width="27.5" height="27.5"/>
<rect x="1337" y="1873.5" width="27.5" height="27.5"/>
<rect x="920.7" y="2101.9" width="27.5" height="27.5"/>
<rect x="1199.1" y="1836.1" width="27.5" height="27.5"/>
<rect x="1544.2" y="1551.2" width="27.5" height="27.5"/>
<rect x="872" y="2135.4" width="27.5" height="27.5"/>
<rect x="911.9" y="2172" width="27.5" height="27.5"/>
<rect x="934.4" y="2062" width="27.5" height="27.5"/>
<rect x="906.4" y="2117.6" width="27.5" height="27.5"/>
<rect x="1324.9" y="1864.5" width="27.5" height="27.5"/>
<rect x="887.2" y="2142.3" width="27.5" height="27.5"/>
<rect x="1171.6" y="1933.2" width="27.5" height="27.5"/>
<rect x="1453.3" y="1781.3" width="27.5" height="27.5"/>
<rect x="880.4" y="2145.6" width="27.5" height="27.5"/>
<rect x="938.4" y="2134.4" width="27.5" height="27.5"/>
<rect x="1092.7" y="2006.6" width="27.5" height="27.5"/>
<rect x="1158.8" y="1959.1" width="27.5" height="27.5"/>
<rect x="912.8" y="2113.5" width="27.5" height="27.5"/>
<rect x="902.4" y="2102.4" width="27.5" height="27.5"/>
<rect x="953.7" y="2119.1" width="27.5" height="27.5"/>
<rect x="897.1" y="2087.2" width="27.5" height="27.5"/>
<rect x="899.4" y="2118" width="27.5" height="27.5"/>
<rect x="871" y="2178.5" width="27.5" height="27.5"/>
<rect x="845" y="2137.8" width="27.5" height="27.5"/>
<rect x="1177" y="1927.5" width="27.5" height="27.5"/>
<rect x="926.2" y="2124.1" width="27.5" height="27.5"/>
<rect x="862.1" y="2187.9" width="27.5" height="27.5"/>
<rect x="1392.7" y="1779.6" width="27.5" height="27.5"/>
<rect x="1564.1" y="1703.7" width="27.5" height="27.5"/>
<rect x="866.8" y="2193.3" width="27.5" height="27.5"/>
<rect x="856.6" y="2176.6" width="27.5" height="27.5"/>
<rect x="1231.4" y="1843.9" width="27.5" height="27.5"/>
<rect x="920.6" y="2137" width="27.5" height="27.5"/>
<rect x="848.6" y="2173" width="27.5" height="27.5"/>
<rect x="878.7" y="2132.8" width="27.5" height="27.5"/>
<rect x="863.8" y="2201.9" width="27.5" height="27.5"/>
<rect x="865.1" y="2172.6" width="27.5" height="27.5"/>
<rect x="856.1" y="2160.3" width="27.5" height="27.5"/>
<rect x="1060.1" y="1940.8" width="27.5" height="27.5"/>
<rect x="1316.2" y="1798.2" width="27.5" height="27.5"/>
<rect x="873.2" y="2155" width="27.5" height="27.5"/>
<rect x="917.2" y="2154.1" width="27.5" height="27.5"/>
<rect x="845.2" y="2178.5" width="27.5" height="27.5"/>
<rect x="891" y="2097.9" width="27.5" height="27.5"/>
<rect x="873.9" y="2144.3" width="27.5" height="27.5"/>
<rect x="834.4" y="2203.4" width="27.5" height="27.5"/>
<rect x="857.6" y="2212.8" width="27.5" height="27.5"/>
<rect x="808.2" y="2252" width="27.5" height="27.5"/>
<rect x="858.3" y="2206" width="27.5" height="27.5"/>
<rect x="910.3" y="2098.1" width="27.5" height="27.5"/>
<rect x="852.6" y="2182" width="27.5" height="27.5"/>
<rect x="885.8" y="2149.4" width="27.5" height="27.5"/>
<rect x="1565.4" y="1710.9" width="27.5" height="27.5"/>
<rect x="1387.4" y="1740.1" width="27.5" height="27.5"/>
<rect x="839.9" y="2189.3" width="27.5" height="27.5"/>
<rect x="856.6" y="2153.7" width="27.5" height="27.5"/>
<rect x="896.7" y="2094.5" width="27.5" height="27.5"/>
<rect x="1557.9" y="1700.4" width="27.5" height="27.5"/>
<rect x="269.6" y="2467.8" width="27.5" height="27.5"/>
<rect x="274.4" y="2483.3" width="27.5" height="27.5"/>
<rect x="269.4" y="2477.8" width="27.5" height="27.5"/>
<rect x="276.5" y="2467.7" width="27.5" height="27.5"/>
<rect x="279.9" y="2474.9" width="27.5" height="27.5"/>
<rect x="828.4" y="2234.7" width="27.5" height="27.5"/>
<rect x="286.4" y="2473.5" width="27.5" height="27.5"/>
<rect x="295.3" y="2482.3" width="27.5" height="27.5"/>
<rect x="291" y="2464.1" width="27.5" height="27.5"/>
<rect x="295.3" y="2471.4" width="27.5" height="27.5"/>
<rect x="284.6" y="2467.3" width="27.5" height="27.5"/>
<rect x="299.5" y="2462.8" width="27.5" height="27.5"/>
<rect x="300.2" y="2477.4" width="27.5" height="27.5"/>
<rect x="301.7" y="2469.1" width="27.5" height="27.5"/>
<rect x="306.5" y="2461.8" width="27.5" height="27.5"/>
<rect x="306.9" y="2482.2" width="27.5" height="27.5"/>
<rect x="308.2" y="2471.5" width="27.5" height="27.5"/>
<rect x="316.2" y="2476.6" width="27.5" height="27.5"/>
<rect x="313.4" y="2463.6" width="27.5" height="27.5"/>
<rect x="322.7" y="2472.2" width="27.5" height="27.5"/>
<rect x="320.2" y="2459.3" width="27.5" height="27.5"/>
<rect x="324.3" y="2482.5" width="27.5" height="27.5"/>
<rect x="850.4" y="2166" width="27.5" height="27.5"/>
<rect x="333.4" y="2476.2" width="27.5" height="27.5"/>
<rect x="324.2" y="2465.3" width="27.5" height="27.5"/>
<rect x="342.5" y="2457.9" width="27.5" height="27.5"/>
<rect x="333" y="2467.3" width="27.5" height="27.5"/>
<rect x="330.8" y="2459.6" width="27.5" height="27.5"/>
<rect x="345.3" y="2465.1" width="27.5" height="27.5"/>
<rect x="337" y="2462" width="27.5" height="27.5"/>
<rect x="340.3" y="2469.4" width="27.5" height="27.5"/>
<rect x="345.8" y="2473" width="27.5" height="27.5"/>
<rect x="338.2" y="2482.3" width="27.5" height="27.5"/>
<rect x="355.1" y="2457" width="27.5" height="27.5"/>
<rect x="348" y="2480" width="27.5" height="27.5"/>
<rect x="354.2" y="2489.9" width="27.5" height="27.5"/>
<rect x="357.2" y="2469.3" width="27.5" height="27.5"/>
<rect x="353.9" y="2475.4" width="27.5" height="27.5"/>
<rect x="353.9" y="2482.8" width="27.5" height="27.5"/>
<rect x="351.8" y="2464" width="27.5" height="27.5"/>
<rect x="364" y="2463" width="27.5" height="27.5"/>
<rect x="366.3" y="2456.6" width="27.5" height="27.5"/>
<rect x="370.9" y="2468.4" width="27.5" height="27.5"/>
<rect x="365" y="2474.9" width="27.5" height="27.5"/>
<rect x="381" y="2461.9" width="27.5" height="27.5"/>
<rect x="373.5" y="2461.5" width="27.5" height="27.5"/>
<rect x="812.8" y="2209" width="27.5" height="27.5"/>
<rect x="852" y="2203.4" width="27.5" height="27.5"/>
<rect x="378.1" y="2454.4" width="27.5" height="27.5"/>
<rect x="377.9" y="2467.7" width="27.5" height="27.5"/>
<rect x="388.3" y="2459.7" width="27.5" height="27.5"/>
<rect x="385.3" y="2466.9" width="27.5" height="27.5"/>
<rect x="390.2" y="2451.8" width="27.5" height="27.5"/>
<rect x="391.1" y="2473.7" width="27.5" height="27.5"/>
<rect x="829.7" y="2182.7" width="27.5" height="27.5"/>
<rect x="396.4" y="2469.2" width="27.5" height="27.5"/>
<rect x="397.4" y="2461.3" width="27.5" height="27.5"/>
<rect x="405.8" y="2456.9" width="27.5" height="27.5"/>
<rect x="398.7" y="2454.4" width="27.5" height="27.5"/>
<rect x="408.4" y="2450.3" width="27.5" height="27.5"/>
<rect x="402.6" y="2471.8" width="27.5" height="27.5"/>
<rect x="404.9" y="2464.3" width="27.5" height="27.5"/>
<rect x="846.2" y="2209.8" width="27.5" height="27.5"/>
<rect x="413.9" y="2463.6" width="27.5" height="27.5"/>
<rect x="413.4" y="2471.3" width="27.5" height="27.5"/>
<rect x="412.7" y="2457" width="27.5" height="27.5"/>
<rect x="424.8" y="2463.7" width="27.5" height="27.5"/>
<rect x="419" y="2449" width="27.5" height="27.5"/>
<rect x="421.2" y="2455.4" width="27.5" height="27.5"/>
<rect x="831.7" y="2174.3" width="27.5" height="27.5"/>
<rect x="806" y="2202.9" width="27.5" height="27.5"/>
<rect x="425.2" y="2444.9" width="27.5" height="27.5"/>
<rect x="429.6" y="2454.7" width="27.5" height="27.5"/>
<rect x="424.1" y="2470.2" width="27.5" height="27.5"/>
<rect x="439.7" y="2456.2" width="27.5" height="27.5"/>
<rect x="431.5" y="2469.1" width="27.5" height="27.5"/>
<rect x="432.7" y="2447.4" width="27.5" height="27.5"/>
<rect x="438.4" y="2469.2" width="27.5" height="27.5"/>
<rect x="439.9" y="2447" width="27.5" height="27.5"/>
<rect x="446" y="2463.3" width="27.5" height="27.5"/>
<rect x="452.6" y="2454" width="27.5" height="27.5"/>
<rect x="446.3" y="2456.4" width="27.5" height="27.5"/>
<rect x="829.6" y="2197.7" width="27.5" height="27.5"/>
<rect x="818.7" y="2170.6" width="27.5" height="27.5"/>
<rect x="814.6" y="2219.1" width="27.5" height="27.5"/>
<rect x="448.9" y="2469.7" width="27.5" height="27.5"/>
<rect x="444.7" y="2442.4" width="27.5" height="27.5"/>
<rect x="448.1" y="2448.8" width="27.5" height="27.5"/>
<rect x="456.7" y="2440.5" width="27.5" height="27.5"/>
<rect x="453.7" y="2461.6" width="27.5" height="27.5"/>
<rect x="814.3" y="2202.3" width="27.5" height="27.5"/>
<rect x="457.1" y="2468.7" width="27.5" height="27.5"/>
<rect x="460.7" y="2460.7" width="27.5" height="27.5"/>
<rect x="467.2" y="2449.5" width="27.5" height="27.5"/>
<rect x="459.6" y="2450.7" width="27.5" height="27.5"/>
<rect x="466.6" y="2442.2" width="27.5" height="27.5"/>
<rect x="852" y="2131.4" width="27.5" height="27.5"/>
<rect x="472.4" y="2466.6" width="27.5" height="27.5"/>
<rect x="468.4" y="2460.9" width="27.5" height="27.5"/>
<rect x="474.2" y="2440.7" width="27.5" height="27.5"/>
<rect x="821.3" y="2196.8" width="27.5" height="27.5"/>
<rect x="470.5" y="2433.8" width="27.5" height="27.5"/>
<rect x="484.5" y="2448.5" width="27.5" height="27.5"/>
<rect x="477.5" y="2456.6" width="27.5" height="27.5"/>
<rect x="475.3" y="2447.3" width="27.5" height="27.5"/>
<rect x="480" y="2436.1" width="27.5" height="27.5"/>
<rect x="484.7" y="2428.3" width="27.5" height="27.5"/>
<rect x="478.1" y="2429.8" width="27.5" height="27.5"/>
<rect x="478.1" y="2463.1" width="27.5" height="27.5"/>
<rect x="850.5" y="2215.9" width="27.5" height="27.5"/>
<rect x="491.7" y="2449.7" width="27.5" height="27.5"/>
<rect x="485.3" y="2463.4" width="27.5" height="27.5"/>
<rect x="489.2" y="2435.4" width="27.5" height="27.5"/>
<rect x="494.5" y="2430.9" width="27.5" height="27.5"/>
<rect x="838" y="2142.7" width="27.5" height="27.5"/>
<rect x="489.1" y="2457.4" width="27.5" height="27.5"/>
<rect x="501.9" y="2429.7" width="27.5" height="27.5"/>
<rect x="487.3" y="2442.2" width="27.5" height="27.5"/>
<rect x="495.3" y="2462.2" width="27.5" height="27.5"/>
<rect x="502.4" y="2455.3" width="27.5" height="27.5"/>
<rect x="498.2" y="2422.8" width="27.5" height="27.5"/>
<rect x="502.6" y="2438.6" width="27.5" height="27.5"/>
<rect x="498.3" y="2449.8" width="27.5" height="27.5"/>
<rect x="497.5" y="2443.1" width="27.5" height="27.5"/>
<rect x="507.4" y="2433.5" width="27.5" height="27.5"/>
<rect x="503.5" y="2445.8" width="27.5" height="27.5"/>
<rect x="834" y="2161" width="27.5" height="27.5"/>
<rect x="506.7" y="2422.8" width="27.5" height="27.5"/>
<rect x="816" y="2234.3" width="27.5" height="27.5"/>
<rect x="510" y="2451.1" width="27.5" height="27.5"/>
<rect x="512.5" y="2426.2" width="27.5" height="27.5"/>
<rect x="513.4" y="2416.5" width="27.5" height="27.5"/>
<rect x="515.1" y="2434.6" width="27.5" height="27.5"/>
<rect x="519.7" y="2439.3" width="27.5" height="27.5"/>
<rect x="512.8" y="2441.6" width="27.5" height="27.5"/>
<rect x="804.7" y="2233.3" width="27.5" height="27.5"/>
<rect x="860.3" y="2131.9" width="27.5" height="27.5"/>
<rect x="522.7" y="2432.4" width="27.5" height="27.5"/>
<rect x="522.6" y="2415.8" width="27.5" height="27.5"/>
<rect x="521.2" y="2446.4" width="27.5" height="27.5"/>
<rect x="523.8" y="2424.6" width="27.5" height="27.5"/>
<rect x="533.3" y="2422.3" width="27.5" height="27.5"/>
<rect x="526.5" y="2407.8" width="27.5" height="27.5"/>
<rect x="527.4" y="2444.1" width="27.5" height="27.5"/>
<rect x="528.1" y="2436.8" width="27.5" height="27.5"/>
<rect x="529.5" y="2430.2" width="27.5" height="27.5"/>
<rect x="535.1" y="2413.6" width="27.5" height="27.5"/>
<rect x="533.7" y="2441" width="27.5" height="27.5"/>
<rect x="536" y="2431.7" width="27.5" height="27.5"/>
<rect x="536.6" y="2401.9" width="27.5" height="27.5"/>
<rect x="544" y="2429.1" width="27.5" height="27.5"/>
<rect x="552.5" y="2398.5" width="27.5" height="27.5"/>
<rect x="545.6" y="2396.1" width="27.5" height="27.5"/>
<rect x="545.9" y="2412.3" width="27.5" height="27.5"/>
<rect x="540.6" y="2407.5" width="27.5" height="27.5"/>
<rect x="870.1" y="2128.5" width="27.5" height="27.5"/>
<rect x="550.1" y="2436.1" width="27.5" height="27.5"/>
<rect x="543.4" y="2435.8" width="27.5" height="27.5"/>
<rect x="548.9" y="2422.9" width="27.5" height="27.5"/>
<rect x="556.2" y="2427.1" width="27.5" height="27.5"/>
<rect x="934.5" y="2102.7" width="27.5" height="27.5"/>
<rect x="548" y="2404.8" width="27.5" height="27.5"/>
<rect x="555.1" y="2392.4" width="27.5" height="27.5"/>
<rect x="554.5" y="2410.3" width="27.5" height="27.5"/>
<rect x="565.1" y="2413.5" width="27.5" height="27.5"/>
<rect x="561.6" y="2435.9" width="27.5" height="27.5"/>
<rect x="558.8" y="2403.4" width="27.5" height="27.5"/>
<rect x="556.6" y="2420.2" width="27.5" height="27.5"/>
<rect x="563.7" y="2397" width="27.5" height="27.5"/>
<rect x="563.1" y="2420.4" width="27.5" height="27.5"/>
<rect x="833.1" y="2228.3" width="27.5" height="27.5"/>
<rect x="570.2" y="2426.7" width="27.5" height="27.5"/>
<rect x="566.3" y="2386.2" width="27.5" height="27.5"/>
<rect x="570.7" y="2397.9" width="27.5" height="27.5"/>
<rect x="567.4" y="2405.7" width="27.5" height="27.5"/>
<rect x="836.6" y="2195.9" width="27.5" height="27.5"/>
<rect x="571.2" y="2418.1" width="27.5" height="27.5"/>
<rect x="572.8" y="2388.6" width="27.5" height="27.5"/>
<rect x="577.6" y="2400" width="27.5" height="27.5"/>
<rect x="576.2" y="2406.6" width="27.5" height="27.5"/>
<rect x="575.6" y="2413" width="27.5" height="27.5"/>
<rect x="569.1" y="2436.6" width="27.5" height="27.5"/>
<rect x="581.5" y="2422.8" width="27.5" height="27.5"/>
<rect x="580.2" y="2430.3" width="27.5" height="27.5"/>
<rect x="577.5" y="2436.7" width="27.5" height="27.5"/>
<rect x="586.4" y="2406.2" width="27.5" height="27.5"/>
<rect x="576.8" y="2378" width="27.5" height="27.5"/>
<rect x="588.5" y="2393.2" width="27.5" height="27.5"/>
<rect x="810.3" y="2224.6" width="27.5" height="27.5"/>
<rect x="585" y="2435.5" width="27.5" height="27.5"/>
<rect x="588.7" y="2380.3" width="27.5" height="27.5"/>
<rect x="594.1" y="2397.6" width="27.5" height="27.5"/>
<rect x="585.4" y="2414.8" width="27.5" height="27.5"/>
<rect x="592.2" y="2409.7" width="27.5" height="27.5"/>
<rect x="589" y="2368" width="27.5" height="27.5"/>
<rect x="581.9" y="2395" width="27.5" height="27.5"/>
<rect x="582.1" y="2373.1" width="27.5" height="27.5"/>
<rect x="599.3" y="2390.2" width="27.5" height="27.5"/>
<rect x="595.9" y="2370.9" width="27.5" height="27.5"/>
<rect x="591.2" y="2421.6" width="27.5" height="27.5"/>
<rect x="590.4" y="2431.7" width="27.5" height="27.5"/>
<rect x="600.7" y="2376.6" width="27.5" height="27.5"/>
<rect x="597.5" y="2362.2" width="27.5" height="27.5"/>
<rect x="593.7" y="2386.6" width="27.5" height="27.5"/>
<rect x="599.2" y="2402.3" width="27.5" height="27.5"/>
<rect x="607.1" y="2390.1" width="27.5" height="27.5"/>
<rect x="604.1" y="2396.7" width="27.5" height="27.5"/>
<rect x="603.9" y="2360" width="27.5" height="27.5"/>
<rect x="604.7" y="2370.7" width="27.5" height="27.5"/>
<rect x="609.6" y="2401" width="27.5" height="27.5"/>
<rect x="808.4" y="2216.8" width="27.5" height="27.5"/>
<rect x="611.9" y="2384" width="27.5" height="27.5"/>
<rect x="610.2" y="2362" width="27.5" height="27.5"/>
<rect x="614.7" y="2369.2" width="27.5" height="27.5"/>
<rect x="614.7" y="2391.2" width="27.5" height="27.5"/>
<rect x="620.2" y="2362.2" width="27.5" height="27.5"/>
<rect x="612" y="2377.2" width="27.5" height="27.5"/>
<rect x="912" y="2087.5" width="27.5" height="27.5"/>
<rect x="618.9" y="2353" width="27.5" height="27.5"/>
<rect x="624.4" y="2367.4" width="27.5" height="27.5"/>
<rect x="622" y="2373.7" width="27.5" height="27.5"/>
<rect x="778.5" y="2279.5" width="27.5" height="27.5"/>
<rect x="787.5" y="2270" width="27.5" height="27.5"/>
<rect x="634.2" y="2380.5" width="27.5" height="27.5"/>
<rect x="630.8" y="2365.8" width="27.5" height="27.5"/>
<rect x="624" y="2380.8" width="27.5" height="27.5"/>
<rect x="880.2" y="2120.7" width="27.5" height="27.5"/>
<rect x="628.7" y="2341.6" width="27.5" height="27.5"/>
<rect x="628.4" y="2348.7" width="27.5" height="27.5"/>
<rect x="630.5" y="2355.7" width="27.5" height="27.5"/>
<rect x="631.3" y="2334.2" width="27.5" height="27.5"/>
<rect x="629.6" y="2374" width="27.5" height="27.5"/>
<rect x="865.9" y="2139.2" width="27.5" height="27.5"/>
<rect x="641.5" y="2333.8" width="27.5" height="27.5"/>
<rect x="641.4" y="2326.9" width="27.5" height="27.5"/>
<rect x="768.6" y="2246.2" width="27.5" height="27.5"/>
<rect x="636.6" y="2370.1" width="27.5" height="27.5"/>
<rect x="644.5" y="2371.6" width="27.5" height="27.5"/>
<rect x="642.7" y="2345.2" width="27.5" height="27.5"/>
<rect x="644.9" y="2378.2" width="27.5" height="27.5"/>
<rect x="637.3" y="2350.5" width="27.5" height="27.5"/>
<rect x="647.5" y="2339.7" width="27.5" height="27.5"/>
<rect x="637.9" y="2357.8" width="27.5" height="27.5"/>
<rect x="647.4" y="2350.6" width="27.5" height="27.5"/>
<rect x="636.8" y="2341.8" width="27.5" height="27.5"/>
<rect x="648" y="2331.3" width="27.5" height="27.5"/>
<rect x="653.8" y="2341.5" width="27.5" height="27.5"/>
<rect x="641.5" y="2365.7" width="27.5" height="27.5"/>
<rect x="655.6" y="2376.1" width="27.5" height="27.5"/>
<rect x="786.5" y="2241.2" width="27.5" height="27.5"/>
<rect x="829" y="2166.8" width="27.5" height="27.5"/>
<rect x="655.4" y="2334.2" width="27.5" height="27.5"/>
<rect x="648.1" y="2322.9" width="27.5" height="27.5"/>
<rect x="653.3" y="2366.8" width="27.5" height="27.5"/>
<rect x="657.8" y="2325.4" width="27.5" height="27.5"/>
<rect x="649.2" y="2358.6" width="27.5" height="27.5"/>
<rect x="655.4" y="2315.2" width="27.5" height="27.5"/>
<rect x="660.4" y="2359.7" width="27.5" height="27.5"/>
<rect x="662.3" y="2367.3" width="27.5" height="27.5"/>
<rect x="654.8" y="2354.3" width="27.5" height="27.5"/>
<rect x="663.2" y="2343.3" width="27.5" height="27.5"/>
<rect x="658.3" y="2348.2" width="27.5" height="27.5"/>
<rect x="664.8" y="2336.1" width="27.5" height="27.5"/>
<rect x="667.5" y="2305.9" width="27.5" height="27.5"/>
<rect x="662.2" y="2314" width="27.5" height="27.5"/>
<rect x="669.8" y="2344.3" width="27.5" height="27.5"/>
<rect x="664.9" y="2354.5" width="27.5" height="27.5"/>
<rect x="677" y="2345.2" width="27.5" height="27.5"/>
<rect x="666.6" y="2321.7" width="27.5" height="27.5"/>
<rect x="671.2" y="2312.4" width="27.5" height="27.5"/>
<rect x="675.8" y="2325.3" width="27.5" height="27.5"/>
<rect x="669.6" y="2331.3" width="27.5" height="27.5"/>
<rect x="675.5" y="2299.7" width="27.5" height="27.5"/>
<rect x="677" y="2306.6" width="27.5" height="27.5"/>
<rect x="675.5" y="2317.5" width="27.5" height="27.5"/>
<rect x="672.5" y="2352.6" width="27.5" height="27.5"/>
<rect x="683.1" y="2302.8" width="27.5" height="27.5"/>
<rect x="676.5" y="2331.8" width="27.5" height="27.5"/>
<rect x="746" y="2277.1" width="27.5" height="27.5"/>
<rect x="681.7" y="2313.2" width="27.5" height="27.5"/>
<rect x="675.6" y="2338.9" width="27.5" height="27.5"/>
<rect x="683.4" y="2343" width="27.5" height="27.5"/>
<rect x="1545.2" y="1517.2" width="27.5" height="27.5"/>
<rect x="691.1" y="2337.4" width="27.5" height="27.5"/>
<rect x="683.7" y="2328.9" width="27.5" height="27.5"/>
<rect x="783.8" y="2229.1" width="27.5" height="27.5"/>
<rect x="689.2" y="2325.1" width="27.5" height="27.5"/>
<rect x="681.3" y="2353.7" width="27.5" height="27.5"/>
<rect x="690.1" y="2292.7" width="27.5" height="27.5"/>
<rect x="701" y="2336" width="27.5" height="27.5"/>
<rect x="683.6" y="2291.5" width="27.5" height="27.5"/>
<rect x="684.4" y="2320.2" width="27.5" height="27.5"/>
<rect x="690.9" y="2312.6" width="27.5" height="27.5"/>
<rect x="743.1" y="2263" width="27.5" height="27.5"/>
<rect x="689.3" y="2347.6" width="27.5" height="27.5"/>
<rect x="893.2" y="2139.2" width="27.5" height="27.5"/>
<rect x="929.5" y="2055" width="27.5" height="27.5"/>
<rect x="701.8" y="2290.6" width="27.5" height="27.5"/>
<rect x="694.2" y="2330.1" width="27.5" height="27.5"/>
<rect x="696.8" y="2305.3" width="27.5" height="27.5"/>
<rect x="697.2" y="2342.2" width="27.5" height="27.5"/>
<rect x="1546.2" y="1676.2" width="27.5" height="27.5"/>
<rect x="723.7" y="2318.7" width="27.5" height="27.5"/>
<rect x="708" y="2335.4" width="27.5" height="27.5"/>
<rect x="691.2" y="2299.1" width="27.5" height="27.5"/>
<rect x="704.2" y="2279.8" width="27.5" height="27.5"/>
<rect x="774.7" y="2248.6" width="27.5" height="27.5"/>
<rect x="701.4" y="2325.6" width="27.5" height="27.5"/>
<rect x="708.3" y="2328.9" width="27.5" height="27.5"/>
<rect x="695.3" y="2320.1" width="27.5" height="27.5"/>
<rect x="727.2" y="2291" width="27.5" height="27.5"/>
<rect x="702.8" y="2302.3" width="27.5" height="27.5"/>
<rect x="714.2" y="2283.8" width="27.5" height="27.5"/>
<rect x="721.7" y="2298.4" width="27.5" height="27.5"/>
<rect x="694.5" y="2285.6" width="27.5" height="27.5"/>
<rect x="701.9" y="2317.3" width="27.5" height="27.5"/>
<rect x="745.3" y="2284.2" width="27.5" height="27.5"/>
<rect x="805" y="2242.1" width="27.5" height="27.5"/>
<rect x="697" y="2295.1" width="27.5" height="27.5"/>
<rect x="716.2" y="2293.7" width="27.5" height="27.5"/>
<rect x="730.5" y="2254.6" width="27.5" height="27.5"/>
<rect x="707.9" y="2296.4" width="27.5" height="27.5"/>
<rect x="723.6" y="2312" width="27.5" height="27.5"/>
<rect x="771" y="2235.2" width="27.5" height="27.5"/>
<rect x="714.1" y="2317" width="27.5" height="27.5"/>
<rect x="710.1" y="2306.7" width="27.5" height="27.5"/>
<rect x="718.6" y="2266.7" width="27.5" height="27.5"/>
<rect x="789.8" y="2208.9" width="27.5" height="27.5"/>
<rect x="738.3" y="2300.9" width="27.5" height="27.5"/>
<rect x="716.1" y="2310.2" width="27.5" height="27.5"/>
<rect x="780.8" y="2236.1" width="27.5" height="27.5"/>
<rect x="707.8" y="2287.3" width="27.5" height="27.5"/>
<rect x="715.7" y="2326.4" width="27.5" height="27.5"/>
<rect x="780.3" y="2255" width="27.5" height="27.5"/>
<rect x="714.5" y="2300.6" width="27.5" height="27.5"/>
<rect x="720.5" y="2305.4" width="27.5" height="27.5"/>
<rect x="748.2" y="2267.2" width="27.5" height="27.5"/>
<rect x="710.7" y="2277" width="27.5" height="27.5"/>
<rect x="765.9" y="2239.6" width="27.5" height="27.5"/>
<rect x="732.3" y="2273.7" width="27.5" height="27.5"/>
<rect x="783.3" y="2262" width="27.5" height="27.5"/>
<rect x="733.1" y="2264.7" width="27.5" height="27.5"/>
<rect x="724.4" y="2259.4" width="27.5" height="27.5"/>
<rect x="731.2" y="2306.6" width="27.5" height="27.5"/>
<rect x="720.7" y="2287.2" width="27.5" height="27.5"/>
<rect x="754.4" y="2272.4" width="27.5" height="27.5"/>
<rect x="728.3" y="2297.5" width="27.5" height="27.5"/>
<rect x="761.3" y="2249" width="27.5" height="27.5"/>
<rect x="746.2" y="2253" width="27.5" height="27.5"/>
<rect x="731.2" y="2285.3" width="27.5" height="27.5"/>
<rect x="776.3" y="2225.2" width="27.5" height="27.5"/>
<rect x="760.8" y="2257.1" width="27.5" height="27.5"/>
<rect x="741.5" y="2294" width="27.5" height="27.5"/>
<rect x="754.6" y="2259.5" width="27.5" height="27.5"/>
<rect x="812.1" y="2241.8" width="27.5" height="27.5"/>
<rect x="726.1" y="2267.8" width="27.5" height="27.5"/>
<rect x="783.3" y="2275.1" width="27.5" height="27.5"/>
<rect x="729.8" y="2314.4" width="27.5" height="27.5"/>
<rect x="773.8" y="2257.4" width="27.5" height="27.5"/>
<rect x="781.6" y="2215.5" width="27.5" height="27.5"/>
<rect x="724" y="2280.5" width="27.5" height="27.5"/>
<rect x="828.2" y="2208" width="27.5" height="27.5"/>
<rect x="750.6" y="2289.9" width="27.5" height="27.5"/>
<rect x="738.6" y="2310.7" width="27.5" height="27.5"/>
<rect x="799.6" y="2201.2" width="27.5" height="27.5"/>
<rect x="758.2" y="2284.8" width="27.5" height="27.5"/>
<rect x="742.2" y="2270.4" width="27.5" height="27.5"/>
<rect x="800.9" y="2248" width="27.5" height="27.5"/>
<rect x="743.5" y="2245.8" width="27.5" height="27.5"/>
<rect x="737.9" y="2277.1" width="27.5" height="27.5"/>
<rect x="827.7" y="2148.1" width="27.5" height="27.5"/>
<rect x="816.5" y="2188.8" width="27.5" height="27.5"/>
<rect x="748.5" y="2298.3" width="27.5" height="27.5"/>
<rect x="756.4" y="2298.4" width="27.5" height="27.5"/>
<rect x="767.3" y="2225.2" width="27.5" height="27.5"/>
<rect x="738.6" y="2283.6" width="27.5" height="27.5"/>
<rect x="763.2" y="2279.7" width="27.5" height="27.5"/>
<rect x="744.2" y="2305.9" width="27.5" height="27.5"/>
<rect x="762" y="2233.8" width="27.5" height="27.5"/>
<rect x="797.4" y="2215" width="27.5" height="27.5"/>
<rect x="766" y="2290.5" width="27.5" height="27.5"/>
<rect x="739.4" y="2253.4" width="27.5" height="27.5"/>
<rect x="785.5" y="2248.1" width="27.5" height="27.5"/>
<rect x="775.3" y="2272.9" width="27.5" height="27.5"/>
<rect x="846.8" y="2144.5" width="27.5" height="27.5"/>
<rect x="850.7" y="2149.7" width="27.5" height="27.5"/>
<rect x="759.3" y="2267.3" width="27.5" height="27.5"/>
<rect x="842" y="2221.4" width="27.5" height="27.5"/>
<rect x="1394.3" y="1839.9" width="27.5" height="27.5"/>
<rect x="754.3" y="2241.3" width="27.5" height="27.5"/>
<rect x="849" y="2192.8" width="27.5" height="27.5"/>
<rect x="793.1" y="2242.3" width="27.5" height="27.5"/>
<rect x="768.3" y="2270.3" width="27.5" height="27.5"/>
<rect x="795.7" y="2263.2" width="27.5" height="27.5"/>
<rect x="757.3" y="2291.6" width="27.5" height="27.5"/>
<rect x="774.5" y="2264.3" width="27.5" height="27.5"/>
<rect x="791.4" y="2233" width="27.5" height="27.5"/>
<rect x="792" y="2250.9" width="27.5" height="27.5"/>
<rect x="752.6" y="2250.3" width="27.5" height="27.5"/>
<rect x="889.4" y="2180.4" width="27.5" height="27.5"/>
<rect x="821.9" y="2159.7" width="27.5" height="27.5"/>
<rect x="822.9" y="2175.7" width="27.5" height="27.5"/>
<rect x="918.2" y="2057.5" width="27.5" height="27.5"/>
<rect x="772.2" y="2282.6" width="27.5" height="27.5"/>
<rect x="774.8" y="2214.6" width="27.5" height="27.5"/>
<rect x="822.6" y="2183.7" width="27.5" height="27.5"/>
<rect x="779.3" y="2242.7" width="27.5" height="27.5"/>
<rect x="824.1" y="2202.8" width="27.5" height="27.5"/>
<rect x="767.6" y="2254.9" width="27.5" height="27.5"/>
<rect x="789.5" y="2258.7" width="27.5" height="27.5"/>
<rect x="791.3" y="2224" width="27.5" height="27.5"/>
<rect x="797.2" y="2229.6" width="27.5" height="27.5"/>
<rect x="882.7" y="2126.7" width="27.5" height="27.5"/>
<rect x="839.1" y="2151.7" width="27.5" height="27.5"/>
<rect x="798.8" y="2208.3" width="27.5" height="27.5"/>
<rect x="821.4" y="2244.2" width="27.5" height="27.5"/>
<rect x="809.7" y="2189.8" width="27.5" height="27.5"/>
<rect x="836.2" y="2234.7" width="27.5" height="27.5"/>
<rect x="859.4" y="2195" width="27.5" height="27.5"/>
<rect x="799.4" y="2238.1" width="27.5" height="27.5"/>
<rect x="882.1" y="2156.2" width="27.5" height="27.5"/>
<rect x="808.8" y="2181" width="27.5" height="27.5"/>
<rect x="854.2" y="2188.8" width="27.5" height="27.5"/>
<rect x="822" y="2237.5" width="27.5" height="27.5"/>
<rect x="1069.6" y="1915.7" width="27.5" height="27.5"/>
<rect x="797.6" y="2222.1" width="27.5" height="27.5"/>
<rect x="801.2" y="2193.1" width="27.5" height="27.5"/>
<rect x="826.8" y="2191.4" width="27.5" height="27.5"/>
<rect x="816.5" y="2248.4" width="27.5" height="27.5"/>
<rect x="826.1" y="2214.2" width="27.5" height="27.5"/>
<rect x="951.3" y="2125.7" width="27.5" height="27.5"/>
<rect x="803.2" y="2226.6" width="27.5" height="27.5"/>
<rect x="862.4" y="2162.3" width="27.5" height="27.5"/>
<rect x="877.3" y="2185" width="27.5" height="27.5"/>
<rect x="1005" y="2014" width="27.5" height="27.5"/>
<rect x="805.1" y="2209.8" width="27.5" height="27.5"/>
<rect x="839.9" y="2228.1" width="27.5" height="27.5"/>
<rect x="801.5" y="2256.6" width="27.5" height="27.5"/>
<rect x="824.2" y="2220.7" width="27.5" height="27.5"/>
<rect x="818.7" y="2212.7" width="27.5" height="27.5"/>
<rect x="962.6" y="2060.3" width="27.5" height="27.5"/>
<rect x="873.1" y="2120.7" width="27.5" height="27.5"/>
<rect x="845.6" y="2153.9" width="27.5" height="27.5"/>
<rect x="904.6" y="2074.9" width="27.5" height="27.5"/>
<rect x="838.5" y="2180.9" width="27.5" height="27.5"/>
<rect x="843.7" y="2160.7" width="27.5" height="27.5"/>
<rect x="862.7" y="2149.4" width="27.5" height="27.5"/>
<rect x="840.5" y="2214.6" width="27.5" height="27.5"/>
<rect x="821.6" y="2230.1" width="27.5" height="27.5"/>
<rect x="884.1" y="2167.6" width="27.5" height="27.5"/>
<rect x="1084.6" y="2010.1" width="27.5" height="27.5"/>
<rect x="845.2" y="2185.1" width="27.5" height="27.5"/>
<rect x="1483.4" y="1844.8" width="27.5" height="27.5"/>
<rect x="1463.2" y="1725.2" width="27.5" height="27.5"/>
<rect x="914.3" y="2133.7" width="27.5" height="27.5"/>
<rect x="833.3" y="2220.9" width="27.5" height="27.5"/>
<rect x="833.4" y="2188.6" width="27.5" height="27.5"/>
<rect x="1287.6" y="1839.6" width="27.5" height="27.5"/>
<rect x="897.3" y="2124.2" width="27.5" height="27.5"/>
<rect x="853.3" y="2143.2" width="27.5" height="27.5"/>
<rect x="1353.5" y="1855.2" width="27.5" height="27.5"/>
<rect x="1285.2" y="1847.6" width="27.5" height="27.5"/>
<rect x="856.9" y="2169.1" width="27.5" height="27.5"/>
<rect x="834.4" y="2211.3" width="27.5" height="27.5"/>
<rect x="871.1" y="2165.1" width="27.5" height="27.5"/>
<rect x="942.4" y="2102.8" width="27.5" height="27.5"/>
<rect x="978" y="1969.3" width="27.5" height="27.5"/>
<rect x="1530.7" y="1821.5" width="27.5" height="27.5"/>
<rect x="896.6" y="2149.5" width="27.5" height="27.5"/>
<rect x="1381.5" y="1762.4" width="27.5" height="27.5"/>
<rect x="865.9" y="2156.2" width="27.5" height="27.5"/>
<rect x="851.2" y="2222.7" width="27.5" height="27.5"/>
<rect x="926.5" y="2110.6" width="27.5" height="27.5"/>
<rect x="956.8" y="2038.2" width="27.5" height="27.5"/>
<rect x="1421.1" y="1831.8" width="27.5" height="27.5"/>
<rect x="1211.8" y="1869" width="27.5" height="27.5"/>
<rect x="843.2" y="2202.7" width="27.5" height="27.5"/>
<rect x="960.9" y="2077.8" width="27.5" height="27.5"/>
<rect x="1482.9" y="1820.2" width="27.5" height="27.5"/>
<rect x="1338.8" y="1825.1" width="27.5" height="27.5"/>
<rect x="871.3" y="2188.4" width="27.5" height="27.5"/>
<rect x="882.4" y="2179.4" width="27.5" height="27.5"/>
<rect x="1175" y="1920" width="27.5" height="27.5"/>
<rect x="930.6" y="2156.7" width="27.5" height="27.5"/>
<rect x="1362.9" y="1749.1" width="27.5" height="27.5"/>
<rect x="963.5" y="2105.7" width="27.5" height="27.5"/>
<rect x="1553.6" y="1732.7" width="27.5" height="27.5"/>
<rect x="889.4" y="2112" width="27.5" height="27.5"/>
<rect x="1481.1" y="1830.2" width="27.5" height="27.5"/>
<rect x="971.6" y="2040.5" width="27.5" height="27.5"/>
<rect x="905.1" y="2108.6" width="27.5" height="27.5"/>
<rect x="1023.3" y="1976.3" width="27.5" height="27.5"/>
<rect x="1264.8" y="1852.9" width="27.5" height="27.5"/>
<rect x="860" y="2143.2" width="27.5" height="27.5"/>
<rect x="894.9" y="2188" width="27.5" height="27.5"/>
<rect x="1467.9" y="1745.7" width="27.5" height="27.5"/>
<rect x="1013.4" y="2019.9" width="27.5" height="27.5"/>
<rect x="930.8" y="2115.5" width="27.5" height="27.5"/>
<rect x="942.2" y="2110.7" width="27.5" height="27.5"/>
<rect x="1170" y="1903" width="27.5" height="27.5"/>
<rect x="1105" y="1965.9" width="27.5" height="27.5"/>
<rect x="936.4" y="2126.8" width="27.5" height="27.5"/>
<rect x="1051.6" y="1981.5" width="27.5" height="27.5"/>
<rect x="924.9" y="2131.6" width="27.5" height="27.5"/>
<rect x="879.5" y="2194.1" width="27.5" height="27.5"/>
<rect x="970.1" y="2113.9" width="27.5" height="27.5"/>
<rect x="888" y="2187.6" width="27.5" height="27.5"/>
<rect x="1301.6" y="1783.2" width="27.5" height="27.5"/>
<rect x="1034.1" y="2028.5" width="27.5" height="27.5"/>
<rect x="888.9" y="2159.5" width="27.5" height="27.5"/>
<rect x="1300" y="1867.2" width="27.5" height="27.5"/>
<rect x="960.2" y="2112.5" width="27.5" height="27.5"/>
<rect x="918.4" y="2066" width="27.5" height="27.5"/>
<rect x="926.5" y="2087" width="27.5" height="27.5"/>
<rect x="1112.1" y="1847.4" width="27.5" height="27.5"/>
<rect x="955" y="2099.3" width="27.5" height="27.5"/>
<rect x="882.6" y="2114.1" width="27.5" height="27.5"/>
<rect x="986.7" y="1983.1" width="27.5" height="27.5"/>
<rect x="1369.8" y="1837.2" width="27.5" height="27.5"/>
<rect x="922.2" y="2071.7" width="27.5" height="27.5"/>
<rect x="916.1" y="2126.7" width="27.5" height="27.5"/>
<rect x="1133.2" y="1920" width="27.5" height="27.5"/>
<rect x="1276.5" y="1789.8" width="27.5" height="27.5"/>
<rect x="895" y="2132.9" width="27.5" height="27.5"/>
<rect x="1167.3" y="1888.8" width="27.5" height="27.5"/>
<rect x="1080.7" y="1909.3" width="27.5" height="27.5"/>
<rect x="1143.8" y="1847.4" width="27.5" height="27.5"/>
<rect x="913.7" y="2141.6" width="27.5" height="27.5"/>
<rect x="904" y="2093.3" width="27.5" height="27.5"/>
<rect x="887.3" y="2104.2" width="27.5" height="27.5"/>
<rect x="1105.1" y="1908.6" width="27.5" height="27.5"/>
<rect x="905.2" y="2159.6" width="27.5" height="27.5"/>
<rect x="1167.5" y="1916.9" width="27.5" height="27.5"/>
<rect x="964.5" y="2034.4" width="27.5" height="27.5"/>
<rect x="1164.3" y="1953.6" width="27.5" height="27.5"/>
<rect x="1278.9" y="1783.4" width="27.5" height="27.5"/>
<rect x="1017.2" y="1982.1" width="27.5" height="27.5"/>
<rect x="1240.6" y="1830.9" width="27.5" height="27.5"/>
<rect x="906.1" y="2125.1" width="27.5" height="27.5"/>
<rect x="906.5" y="2134.5" width="27.5" height="27.5"/>
<rect x="931.5" y="2165.8" width="27.5" height="27.5"/>
<rect x="889.6" y="2118.6" width="27.5" height="27.5"/>
<rect x="1088.6" y="1943.8" width="27.5" height="27.5"/>
<rect x="1152.5" y="1936" width="27.5" height="27.5"/>
<rect x="911.1" y="2105" width="27.5" height="27.5"/>
<rect x="1484.4" y="1738" width="27.5" height="27.5"/>
<rect x="1228.2" y="1817.4" width="27.5" height="27.5"/>
<rect x="911.4" y="2073.6" width="27.5" height="27.5"/>
<rect x="1215.6" y="1809.7" width="27.5" height="27.5"/>
<rect x="1280.9" y="1841.3" width="27.5" height="27.5"/>
<rect x="1044" y="1924.4" width="27.5" height="27.5"/>
<rect x="1358.5" y="1846.4" width="27.5" height="27.5"/>
<rect x="1006.9" y="2035.9" width="27.5" height="27.5"/>
<rect x="942.8" y="2149.7" width="27.5" height="27.5"/>
<rect x="947.3" y="2046.3" width="27.5" height="27.5"/>
<rect x="1508.4" y="1718.2" width="27.5" height="27.5"/>
<rect x="1319.5" y="1895.7" width="27.5" height="27.5"/>
<rect x="924.1" y="2080.4" width="27.5" height="27.5"/>
<rect x="1020.3" y="1941" width="27.5" height="27.5"/>
<rect x="941.5" y="2050.5" width="27.5" height="27.5"/>
<rect x="1120" y="1840" width="27.5" height="27.5"/>
<rect x="1522" y="1774.3" width="27.5" height="27.5"/>
<rect x="943.8" y="2122" width="27.5" height="27.5"/>
<rect x="918.9" y="2109.6" width="27.5" height="27.5"/>
<rect x="1477.7" y="1751.3" width="27.5" height="27.5"/>
<rect x="1119.4" y="1884" width="27.5" height="27.5"/>
<rect x="1460.6" y="1732.4" width="27.5" height="27.5"/>
<rect x="1361.8" y="1794.5" width="27.5" height="27.5"/>
<rect x="1116.6" y="1952.7" width="27.5" height="27.5"/>
<rect x="1282.2" y="1822.4" width="27.5" height="27.5"/>
<rect x="1066.7" y="2023.6" width="27.5" height="27.5"/>
<rect x="1219.6" y="1920" width="27.5" height="27.5"/>
<rect x="1525.1" y="1813.7" width="27.5" height="27.5"/>
<rect x="1059.7" y="1972.4" width="27.5" height="27.5"/>
<rect x="1196.9" y="1797.5" width="27.5" height="27.5"/>
<rect x="1504.7" y="1820" width="27.5" height="27.5"/>
<rect x="1101.4" y="1989" width="27.5" height="27.5"/>
<rect x="1177.4" y="1936.8" width="27.5" height="27.5"/>
<rect x="1088.7" y="1902.4" width="27.5" height="27.5"/>
<rect x="1054.4" y="1903" width="27.5" height="27.5"/>
<rect x="1104.4" y="1919.9" width="27.5" height="27.5"/>
<rect x="924.6" y="2153.4" width="27.5" height="27.5"/>
<rect x="1107.8" y="1956.2" width="27.5" height="27.5"/>
<rect x="1262.2" y="1841.4" width="27.5" height="27.5"/>
<rect x="1018.2" y="1947.3" width="27.5" height="27.5"/>
<rect x="1467.4" y="1830.8" width="27.5" height="27.5"/>
<rect x="1022" y="2011.3" width="27.5" height="27.5"/>
<rect x="938.5" y="2056.4" width="27.5" height="27.5"/>
<rect x="925.7" y="2175.2" width="27.5" height="27.5"/>
<rect x="1066.5" y="1908.2" width="27.5" height="27.5"/>
<rect x="931.2" y="2135" width="27.5" height="27.5"/>
<rect x="1550.6" y="1756.3" width="27.5" height="27.5"/>
<rect x="911.2" y="2150.3" width="27.5" height="27.5"/>
<rect x="930" y="2047.4" width="27.5" height="27.5"/>
<rect x="1398.9" y="1845.9" width="27.5" height="27.5"/>
<rect x="1480" y="1801.8" width="27.5" height="27.5"/>
<rect x="1445.1" y="1724.6" width="27.5" height="27.5"/>
<rect x="1326.6" y="1895.2" width="27.5" height="27.5"/>
<rect x="1398.3" y="1758" width="27.5" height="27.5"/>
<rect x="1551.2" y="1651.2" width="27.5" height="27.5"/>
<rect x="1037.1" y="1918" width="27.5" height="27.5"/>
<rect x="985.3" y="1971.5" width="27.5" height="27.5"/>
<rect x="1200.4" y="1822.7" width="27.5" height="27.5"/>
<rect x="1270.9" y="1826.9" width="27.5" height="27.5"/>
<rect x="982" y="2106.3" width="27.5" height="27.5"/>
<rect x="1241" y="1886.8" width="27.5" height="27.5"/>
<rect x="972.4" y="2016.3" width="27.5" height="27.5"/>
<rect x="995.6" y="1966.9" width="27.5" height="27.5"/>
<rect x="1245.4" y="1824.1" width="27.5" height="27.5"/>
<rect x="950.9" y="2058.6" width="27.5" height="27.5"/>
<rect x="1522.6" y="1781.8" width="27.5" height="27.5"/>
<rect x="1079.5" y="1972.6" width="27.5" height="27.5"/>
<rect x="1473.8" y="1741.8" width="27.5" height="27.5"/>
<rect x="1475.4" y="1843.5" width="27.5" height="27.5"/>
<rect x="1546.2" y="1545.2" width="27.5" height="27.5"/>
<rect x="1134" y="1941.3" width="27.5" height="27.5"/>
<rect x="1536.9" y="1754.6" width="27.5" height="27.5"/>
<rect x="912.8" y="2163" width="27.5" height="27.5"/>
<rect x="985.7" y="2014.8" width="27.5" height="27.5"/>
<rect x="1547" y="1492.8" width="27.5" height="27.5"/>
<rect x="1297.8" y="1841.8" width="27.5" height="27.5"/>
<rect x="1190.6" y="1871.5" width="27.5" height="27.5"/>
<rect x="1092.5" y="1871.8" width="27.5" height="27.5"/>
<rect x="1344.1" y="1882.8" width="27.5" height="27.5"/>
<rect x="1032.6" y="1996.7" width="27.5" height="27.5"/>
<rect x="1013" y="2083.2" width="27.5" height="27.5"/>
<rect x="1440.2" y="1800" width="27.5" height="27.5"/>
<rect x="937.5" y="2116.6" width="27.5" height="27.5"/>
<rect x="1013.2" y="2032.7" width="27.5" height="27.5"/>
<rect x="1464.1" y="1759.5" width="27.5" height="27.5"/>
<rect x="972.9" y="1992.9" width="27.5" height="27.5"/>
<rect x="1107.3" y="1901.9" width="27.5" height="27.5"/>
<rect x="1195.1" y="1939.6" width="27.5" height="27.5"/>
<rect x="922.6" y="2163.3" width="27.5" height="27.5"/>
<rect x="1466.4" y="1844.4" width="27.5" height="27.5"/>
<rect x="1547.2" y="1544.5" width="27.5" height="27.5"/>
<rect x="1194" y="1926.1" width="27.5" height="27.5"/>
<rect x="1277.4" y="1848.4" width="27.5" height="27.5"/>
<rect x="1502.9" y="1797.3" width="27.5" height="27.5"/>
<rect x="1232" y="1805" width="27.5" height="27.5"/>
<rect x="972.7" y="2032.2" width="27.5" height="27.5"/>
<rect x="1350.2" y="1784.8" width="27.5" height="27.5"/>
<rect x="1476" y="1773.4" width="27.5" height="27.5"/>
<rect x="1010.4" y="1975.7" width="27.5" height="27.5"/>
<rect x="1279.3" y="1803.3" width="27.5" height="27.5"/>
<rect x="1167.3" y="1959.6" width="27.5" height="27.5"/>
<rect x="1551.3" y="1521.6" width="27.5" height="27.5"/>
<rect x="949.8" y="2030.9" width="27.5" height="27.5"/>
<rect x="1235.3" y="1862.1" width="27.5" height="27.5"/>
<rect x="1344.2" y="1765.4" width="27.5" height="27.5"/>
<rect x="1498.6" y="1853.1" width="27.5" height="27.5"/>
<rect x="1490.7" y="1755.4" width="27.5" height="27.5"/>
<rect x="1100.2" y="1868.8" width="27.5" height="27.5"/>
<rect x="1230" y="1869.9" width="27.5" height="27.5"/>
<rect x="1225.6" y="1911.1" width="27.5" height="27.5"/>
<rect x="1276.3" y="1869.9" width="27.5" height="27.5"/>
<rect x="1411" y="1745.1" width="27.5" height="27.5"/>
<rect x="1125" y="1935" width="27.5" height="27.5"/>
<rect x="1094.1" y="1916" width="27.5" height="27.5"/>
<rect x="1133.4" y="1849.7" width="27.5" height="27.5"/>
<rect x="1239.2" y="1850.4" width="27.5" height="27.5"/>
<rect x="1124.3" y="1913.9" width="27.5" height="27.5"/>
<rect x="1107.2" y="2002.6" width="27.5" height="27.5"/>
<rect x="964.5" y="2089.2" width="27.5" height="27.5"/>
<rect x="1078" y="1994.6" width="27.5" height="27.5"/>
<rect x="944.1" y="2036.3" width="27.5" height="27.5"/>
<rect x="1274.5" y="1798.9" width="27.5" height="27.5"/>
<rect x="934.5" y="2150.8" width="27.5" height="27.5"/>
<rect x="1416.3" y="1786.5" width="27.5" height="27.5"/>
<rect x="1011" y="2065.8" width="27.5" height="27.5"/>
<rect x="1503" y="1774.4" width="27.5" height="27.5"/>
<rect x="1550.4" y="1763" width="27.5" height="27.5"/>
<rect x="1283.9" y="1892.3" width="27.5" height="27.5"/>
<rect x="1097.9" y="1889.1" width="27.5" height="27.5"/>
<rect x="1542.6" y="1742.6" width="27.5" height="27.5"/>
<rect x="1409.7" y="1808.7" width="27.5" height="27.5"/>
<rect x="1002.1" y="1987" width="27.5" height="27.5"/>
<rect x="1477.7" y="1704" width="27.5" height="27.5"/>
<rect x="1040.2" y="1962.8" width="27.5" height="27.5"/>
<rect x="1376.5" y="1842.9" width="27.5" height="27.5"/>
<rect x="1550.3" y="1660.5" width="27.5" height="27.5"/>
<rect x="1554.7" y="1787.3" width="27.5" height="27.5"/>
<rect x="1518" y="1727.7" width="27.5" height="27.5"/>
<rect x="1173.1" y="1848.1" width="27.5" height="27.5"/>
<rect x="1106.9" y="1856.3" width="27.5" height="27.5"/>
<rect x="1345" y="1747.1" width="27.5" height="27.5"/>
<rect x="1349.2" y="1820" width="27.5" height="27.5"/>
<rect x="1294.5" y="1763.8" width="27.5" height="27.5"/>
<rect x="1041.7" y="2001.3" width="27.5" height="27.5"/>
<rect x="1301.7" y="1813.1" width="27.5" height="27.5"/>
<rect x="937" y="2068.6" width="27.5" height="27.5"/>
<rect x="1087.8" y="1919.5" width="27.5" height="27.5"/>
<rect x="1223.3" y="1833.1" width="27.5" height="27.5"/>
<rect x="1345.7" y="1776.5" width="27.5" height="27.5"/>
<rect x="1136.1" y="1959.2" width="27.5" height="27.5"/>
<rect x="1393.3" y="1797.3" width="27.5" height="27.5"/>
<rect x="1460.1" y="1753.7" width="27.5" height="27.5"/>
<rect x="1554.5" y="1808.1" width="27.5" height="27.5"/>
<rect x="1073.9" y="1938.5" width="27.5" height="27.5"/>
<rect x="1237.8" y="1870.5" width="27.5" height="27.5"/>
<rect x="1222.1" y="1811.6" width="27.5" height="27.5"/>
<rect x="1292.1" y="1796.4" width="27.5" height="27.5"/>
<rect x="1215.2" y="1826.6" width="27.5" height="27.5"/>
<rect x="1478.1" y="1854.2" width="27.5" height="27.5"/>
<rect x="1021.3" y="2043" width="27.5" height="27.5"/>
<rect x="1140.8" y="1929.1" width="27.5" height="27.5"/>
<rect x="1207.1" y="1820.2" width="27.5" height="27.5"/>
<rect x="1397.5" y="1741" width="27.5" height="27.5"/>
<rect x="957.2" y="2031.7" width="27.5" height="27.5"/>
<rect x="1298.9" y="1792.3" width="27.5" height="27.5"/>
<rect x="1393.9" y="1747.6" width="27.5" height="27.5"/>
<rect x="1315.5" y="1757.7" width="27.5" height="27.5"/>
<rect x="1003.6" y="2051.6" width="27.5" height="27.5"/>
<rect x="1511.6" y="1732.1" width="27.5" height="27.5"/>
<rect x="1545.2" y="1630.2" width="27.5" height="27.5"/>
<rect x="946.3" y="2082" width="27.5" height="27.5"/>
<rect x="1159.2" y="1967.9" width="27.5" height="27.5"/>
<rect x="1098.3" y="2001.2" width="27.5" height="27.5"/>
<rect x="1067.2" y="1936.9" width="27.5" height="27.5"/>
<rect x="1054.6" y="1912" width="27.5" height="27.5"/>
<rect x="1418.6" y="1739.3" width="27.5" height="27.5"/>
<rect x="1041.9" y="1978.7" width="27.5" height="27.5"/>
<rect x="1205.8" y="1852.3" width="27.5" height="27.5"/>
<rect x="1463.4" y="1816.9" width="27.5" height="27.5"/>
<rect x="1139.1" y="1878.4" width="27.5" height="27.5"/>
<rect x="995" y="2079.1" width="27.5" height="27.5"/>
<rect x="1516.6" y="1698" width="27.5" height="27.5"/>
<rect x="1199.3" y="1892.7" width="27.5" height="27.5"/>
<rect x="1547.1" y="1674.2" width="27.5" height="27.5"/>
<rect x="1112.1" y="1867.9" width="27.5" height="27.5"/>
<rect x="991.8" y="2072.2" width="27.5" height="27.5"/>
<rect x="1455.5" y="1837.3" width="27.5" height="27.5"/>
<rect x="1161" y="1870.9" width="27.5" height="27.5"/>
<rect x="1190.5" y="1892" width="27.5" height="27.5"/>
<rect x="1335.4" y="1780" width="27.5" height="27.5"/>
<rect x="1129.7" y="1971.5" width="27.5" height="27.5"/>
<rect x="1065" y="1995.2" width="27.5" height="27.5"/>
<rect x="1523.9" y="1696.7" width="27.5" height="27.5"/>
<rect x="1544.5" y="1646.7" width="27.5" height="27.5"/>
<rect x="1040.7" y="2026.4" width="27.5" height="27.5"/>
<rect x="1543.8" y="1576.2" width="27.5" height="27.5"/>
<rect x="1084.1" y="1949.2" width="27.5" height="27.5"/>
<rect x="1417" y="1809" width="27.5" height="27.5"/>
<rect x="1016.7" y="1961.9" width="27.5" height="27.5"/>
<rect x="1466.9" y="1805.1" width="27.5" height="27.5"/>
<rect x="1545.2" y="1599.2" width="27.5" height="27.5"/>
<rect x="1399.4" y="1814.2" width="27.5" height="27.5"/>
<rect x="1146.5" y="1835.4" width="27.5" height="27.5"/>
<rect x="935.7" y="2109.7" width="27.5" height="27.5"/>
<rect x="1056.6" y="1895.7" width="27.5" height="27.5"/>
<rect x="1458.6" y="1763.1" width="27.5" height="27.5"/>
<rect x="1228.7" y="1917.6" width="27.5" height="27.5"/>
<rect x="1565.1" y="1725.8" width="27.5" height="27.5"/>
<rect x="1010.9" y="2057.6" width="27.5" height="27.5"/>
<rect x="1484.3" y="1766.5" width="27.5" height="27.5"/>
<rect x="1441.2" y="1743" width="27.5" height="27.5"/>
<rect x="1095.5" y="2012.7" width="27.5" height="27.5"/>
<rect x="1092.3" y="1949.9" width="27.5" height="27.5"/>
<rect x="1390.2" y="1811.8" width="27.5" height="27.5"/>
<rect x="1207" y="1920.4" width="27.5" height="27.5"/>
<rect x="981.4" y="2076.1" width="27.5" height="27.5"/>
<rect x="1303.4" y="1776.7" width="27.5" height="27.5"/>
<rect x="1132.1" y="1865.4" width="27.5" height="27.5"/>
<rect x="1531.8" y="1759" width="27.5" height="27.5"/>
<rect x="980.5" y="2037.9" width="27.5" height="27.5"/>
<rect x="1183.7" y="1890.6" width="27.5" height="27.5"/>
<rect x="1315.5" y="1765" width="27.5" height="27.5"/>
<rect x="938.3" y="2156.2" width="27.5" height="27.5"/>
<rect x="984.9" y="2058.3" width="27.5" height="27.5"/>
<rect x="1159.1" y="1896.6" width="27.5" height="27.5"/>
<rect x="1056.6" y="2041.3" width="27.5" height="27.5"/>
<rect x="1274.8" y="1808.6" width="27.5" height="27.5"/>
<rect x="1318.5" y="1832.7" width="27.5" height="27.5"/>
<rect x="1334" y="1840.4" width="27.5" height="27.5"/>
<rect x="1147.1" y="1968.5" width="27.5" height="27.5"/>
<rect x="1139.7" y="1854.2" width="27.5" height="27.5"/>
<rect x="1453.4" y="1798.9" width="27.5" height="27.5"/>
<rect x="953.9" y="2110.4" width="27.5" height="27.5"/>
<rect x="1368.8" y="1759.8" width="27.5" height="27.5"/>
<rect x="1198.5" y="1851.3" width="27.5" height="27.5"/>
<rect x="1242.4" y="1844.8" width="27.5" height="27.5"/>
<rect x="1000.7" y="1976.7" width="27.5" height="27.5"/>
<rect x="1424.3" y="1799.4" width="27.5" height="27.5"/>
<rect x="1277" y="1856.1" width="27.5" height="27.5"/>
<rect x="1364.2" y="1786.8" width="27.5" height="27.5"/>
<rect x="1491.4" y="1733.9" width="27.5" height="27.5"/>
<rect x="1416.4" y="1845.9" width="27.5" height="27.5"/>
<rect x="1537.9" y="1727.6" width="27.5" height="27.5"/>
<rect x="1094.6" y="1989.5" width="27.5" height="27.5"/>
<rect x="1269.7" y="1779" width="27.5" height="27.5"/>
<rect x="1535" y="1689.7" width="27.5" height="27.5"/>
<rect x="1196.4" y="1857.5" width="27.5" height="27.5"/>
<rect x="1130.2" y="1858.8" width="27.5" height="27.5"/>
<rect x="1298.9" y="1828.4" width="27.5" height="27.5"/>
<rect x="1361" y="1882.7" width="27.5" height="27.5"/>
<rect x="1531.7" y="1698.5" width="27.5" height="27.5"/>
<rect x="967.8" y="2081.9" width="27.5" height="27.5"/>
<rect x="1564.3" y="1687.7" width="27.5" height="27.5"/>
<rect x="1469.1" y="1720" width="27.5" height="27.5"/>
<rect x="1006.1" y="2029.4" width="27.5" height="27.5"/>
<rect x="1367" y="1801.9" width="27.5" height="27.5"/>
<rect x="1079.9" y="2001.5" width="27.5" height="27.5"/>
<rect x="1358.5" y="1821.3" width="27.5" height="27.5"/>
<rect x="1404" y="1740.6" width="27.5" height="27.5"/>
<rect x="1261.6" y="1792.7" width="27.5" height="27.5"/>
<rect x="1423.7" y="1806.1" width="27.5" height="27.5"/>
<rect x="1186.1" y="1877.9" width="27.5" height="27.5"/>
<rect x="1126.2" y="1965.4" width="27.5" height="27.5"/>
<rect x="1106.8" y="1879.6" width="27.5" height="27.5"/>
<rect x="1232.9" y="1812.6" width="27.5" height="27.5"/>
<rect x="1166.6" y="1850.7" width="27.5" height="27.5"/>
<rect x="1469.9" y="1855.3" width="27.5" height="27.5"/>
<rect x="1010" y="1965.8" width="27.5" height="27.5"/>
<rect x="1528" y="1710.7" width="27.5" height="27.5"/>
<rect x="1153.1" y="1888.1" width="27.5" height="27.5"/>
<rect x="1092.3" y="1937" width="27.5" height="27.5"/>
<rect x="1253.5" y="1796.5" width="27.5" height="27.5"/>
<rect x="1299.8" y="1891.6" width="27.5" height="27.5"/>
<rect x="1535.2" y="1776.9" width="27.5" height="27.5"/>
<rect x="1524.8" y="1754.5" width="27.5" height="27.5"/>
<rect x="1143.9" y="1904.1" width="27.5" height="27.5"/>
<rect x="1316.7" y="1883.7" width="27.5" height="27.5"/>
<rect x="1555.9" y="1619.5" width="27.5" height="27.5"/>
<rect x="1120.8" y="1891.2" width="27.5" height="27.5"/>
<rect x="1206.4" y="1893.9" width="27.5" height="27.5"/>
<rect x="1026" y="2066.1" width="27.5" height="27.5"/>
<rect x="1465.9" y="1775.1" width="27.5" height="27.5"/>
<rect x="1273" y="1894.7" width="27.5" height="27.5"/>
<rect x="1259.3" y="1800.2" width="27.5" height="27.5"/>
<rect x="1375.5" y="1798.4" width="27.5" height="27.5"/>
<rect x="1090.5" y="1910.3" width="27.5" height="27.5"/>
<rect x="1515.1" y="1713.2" width="27.5" height="27.5"/>
<rect x="1330.2" y="1888.1" width="27.5" height="27.5"/>
<rect x="1276" y="1883.7" width="27.5" height="27.5"/>
<rect x="1147.1" y="1875.3" width="27.5" height="27.5"/>
<rect x="1565.3" y="1781.9" width="27.5" height="27.5"/>
<rect x="1063" y="1949" width="27.5" height="27.5"/>
<rect x="1075.6" y="1897.6" width="27.5" height="27.5"/>
<rect x="1025.6" y="1925.9" width="27.5" height="27.5"/>
<rect x="1026.5" y="2072.9" width="27.5" height="27.5"/>
<rect x="1491.1" y="1778.5" width="27.5" height="27.5"/>
<rect x="1239.6" y="1921.1" width="27.5" height="27.5"/>
<rect x="1002.9" y="1995.2" width="27.5" height="27.5"/>
<rect x="1097" y="1908.7" width="27.5" height="27.5"/>
<rect x="1253.8" y="1872.5" width="27.5" height="27.5"/>
<rect x="1046.3" y="1957.2" width="27.5" height="27.5"/>
<rect x="991.9" y="2094.8" width="27.5" height="27.5"/>
<rect x="997.4" y="2090.7" width="27.5" height="27.5"/>
<rect x="1061.6" y="2036.5" width="27.5" height="27.5"/>
<rect x="1431.6" y="1792.9" width="27.5" height="27.5"/>
<rect x="1134.4" y="1908.5" width="27.5" height="27.5"/>
<rect x="1249" y="1845.5" width="27.5" height="27.5"/>
<rect x="1200" y="1882.3" width="27.5" height="27.5"/>
<rect x="1349.1" y="1847.6" width="27.5" height="27.5"/>
<rect x="1274.6" y="1917" width="27.5" height="27.5"/>
<rect x="1444.9" y="1749.6" width="27.5" height="27.5"/>
<rect x="1099.8" y="1947" width="27.5" height="27.5"/>
<rect x="1150.8" y="1830.1" width="27.5" height="27.5"/>
<rect x="976" y="2109" width="27.5" height="27.5"/>
<rect x="1438.4" y="1845.1" width="27.5" height="27.5"/>
<rect x="1554" y="1775" width="27.5" height="27.5"/>
<rect x="1472.3" y="1779.8" width="27.5" height="27.5"/>
<rect x="1518.4" y="1758.5" width="27.5" height="27.5"/>
<rect x="1356.8" y="1754.6" width="27.5" height="27.5"/>
<rect x="1352.8" y="1741" width="27.5" height="27.5"/>
<rect x="1176" y="1963.1" width="27.5" height="27.5"/>
<rect x="1557.2" y="1723.2" width="27.5" height="27.5"/>
<rect x="1495" y="1830" width="27.5" height="27.5"/>
<rect x="1096.3" y="1968.6" width="27.5" height="27.5"/>
<rect x="1331" y="1807.9" width="27.5" height="27.5"/>
<rect x="1330.6" y="1822.1" width="27.5" height="27.5"/>
<rect x="1292.9" y="1922.6" width="27.5" height="27.5"/>
<rect x="1490.1" y="1839.7" width="27.5" height="27.5"/>
<rect x="1294.7" y="1915.6" width="27.5" height="27.5"/>
<rect x="1254.1" y="1786.4" width="27.5" height="27.5"/>
<rect x="1265.3" y="1912.3" width="27.5" height="27.5"/>
<rect x="1162.6" y="1864.6" width="27.5" height="27.5"/>
<rect x="1063.1" y="2044" width="27.5" height="27.5"/>
<rect x="1423" y="1842.3" width="27.5" height="27.5"/>
<rect x="1025.7" y="1918.9" width="27.5" height="27.5"/>
<rect x="1057.7" y="1918.8" width="27.5" height="27.5"/>
<rect x="1219.3" y="1869.2" width="27.5" height="27.5"/>
<rect x="1300.4" y="1911.6" width="27.5" height="27.5"/>
<rect x="1505" y="1728.8" width="27.5" height="27.5"/>
<rect x="1471.5" y="1765.5" width="27.5" height="27.5"/>
<rect x="1483.5" y="1777.6" width="27.5" height="27.5"/>
<rect x="1287.3" y="1782.6" width="27.5" height="27.5"/>
<rect x="960.3" y="2066.8" width="27.5" height="27.5"/>
<rect x="1457.7" y="1743" width="27.5" height="27.5"/>
<rect x="1190.7" y="1838.8" width="27.5" height="27.5"/>
<rect x="1323.4" y="1886.3" width="27.5" height="27.5"/>
<rect x="1264.9" y="1862.9" width="27.5" height="27.5"/>
<rect x="1331.7" y="1858.1" width="27.5" height="27.5"/>
<rect x="1224.4" y="1844.7" width="27.5" height="27.5"/>
<rect x="1415.9" y="1818.3" width="27.5" height="27.5"/>
<rect x="1033.2" y="2003.3" width="27.5" height="27.5"/>
<rect x="1268.6" y="1787.3" width="27.5" height="27.5"/>
<rect x="1186.4" y="1912.2" width="27.5" height="27.5"/>
<rect x="1059.9" y="2007" width="27.5" height="27.5"/>
<rect x="1051.3" y="1972.9" width="27.5" height="27.5"/>
<rect x="1231.7" y="1830.3" width="27.5" height="27.5"/>
<rect x="1304.4" y="1757.7" width="27.5" height="27.5"/>
<rect x="1366" y="1766" width="27.5" height="27.5"/>
<rect x="1440" y="1792.8" width="27.5" height="27.5"/>
<rect x="1525" y="1764.4" width="27.5" height="27.5"/>
<rect x="1369.6" y="1880.2" width="27.5" height="27.5"/>
<rect x="1553" y="1570.2" width="27.5" height="27.5"/>
<rect x="1086" y="1958.2" width="27.5" height="27.5"/>
<rect x="1209.2" y="1900.2" width="27.5" height="27.5"/>
<rect x="1297.5" y="1770.2" width="27.5" height="27.5"/>
<rect x="1238.7" y="1899.3" width="27.5" height="27.5"/>
<rect x="1157.6" y="1912.5" width="27.5" height="27.5"/>
<rect x="1435.7" y="1785.6" width="27.5" height="27.5"/>
<rect x="1557.1" y="1781.1" width="27.5" height="27.5"/>
<rect x="1070.6" y="1953.3" width="27.5" height="27.5"/>
<rect x="1028.6" y="2017.5" width="27.5" height="27.5"/>
<rect x="1441.4" y="1782.1" width="27.5" height="27.5"/>
<rect x="1407.7" y="1793.7" width="27.5" height="27.5"/>
<rect x="1120.7" y="1857.2" width="27.5" height="27.5"/>
<rect x="1429.3" y="1770.3" width="27.5" height="27.5"/>
<rect x="1075" y="1905.9" width="27.5" height="27.5"/>
<rect x="1391.9" y="1827.1" width="27.5" height="27.5"/>
<rect x="1074.7" y="1890.2" width="27.5" height="27.5"/>
<rect x="979.3" y="2024" width="27.5" height="27.5"/>
<rect x="1076.3" y="2020.6" width="27.5" height="27.5"/>
<rect x="1312.9" y="1875.7" width="27.5" height="27.5"/>
<rect x="1244.4" y="1909.9" width="27.5" height="27.5"/>
<rect x="1055.8" y="1947.5" width="27.5" height="27.5"/>
<rect x="1341.8" y="1854.5" width="27.5" height="27.5"/>
<rect x="1141.1" y="1870.4" width="27.5" height="27.5"/>
<rect x="1200.3" y="1809.5" width="27.5" height="27.5"/>
<rect x="1194.3" y="1865.4" width="27.5" height="27.5"/>
<rect x="1501.9" y="1702.6" width="27.5" height="27.5"/>
<rect x="986.7" y="2032.3" width="27.5" height="27.5"/>
<rect x="1098" y="1940.2" width="27.5" height="27.5"/>
<rect x="1453.8" y="1712.9" width="27.5" height="27.5"/>
<rect x="1144.4" y="1961" width="27.5" height="27.5"/>
<rect x="1212.6" y="1928" width="27.5" height="27.5"/>
<rect x="1513.6" y="1817.1" width="27.5" height="27.5"/>
<rect x="1384.4" y="1784" width="27.5" height="27.5"/>
<rect x="1276.2" y="1862.8" width="27.5" height="27.5"/>
<rect x="1316.3" y="1824.3" width="27.5" height="27.5"/>
<rect x="1151.6" y="1905.7" width="27.5" height="27.5"/>
<rect x="1357.4" y="1761.3" width="27.5" height="27.5"/>
<rect x="1543.9" y="1658.7" width="27.5" height="27.5"/>
<rect x="1561.2" y="1678.5" width="27.5" height="27.5"/>
<rect x="1519.5" y="1809.8" width="27.5" height="27.5"/>
<rect x="1520" y="1706" width="27.5" height="27.5"/>
<rect x="1140.5" y="1894.4" width="27.5" height="27.5"/>
<rect x="1199.7" y="1915" width="27.5" height="27.5"/>
<rect x="995.1" y="2000.4" width="27.5" height="27.5"/>
<rect x="1231.3" y="1923.7" width="27.5" height="27.5"/>
<rect x="1063.7" y="2029.6" width="27.5" height="27.5"/>
<rect x="1368.4" y="1781.6" width="27.5" height="27.5"/>
<rect x="1323.4" y="1820.8" width="27.5" height="27.5"/>
<rect x="1526.2" y="1704.1" width="27.5" height="27.5"/>
<rect x="1048.9" y="1928.7" width="27.5" height="27.5"/>
<rect x="1245.8" y="1798.1" width="27.5" height="27.5"/>
<rect x="1055.1" y="2034.4" width="27.5" height="27.5"/>
<rect x="1359.6" y="1743" width="27.5" height="27.5"/>
<rect x="1505.2" y="1757.5" width="27.5" height="27.5"/>
<rect x="1244.2" y="1873" width="27.5" height="27.5"/>
<rect x="1494.3" y="1785.8" width="27.5" height="27.5"/>
<rect x="1089.6" y="1927.2" width="27.5" height="27.5"/>
<rect x="1186.2" y="1833.1" width="27.5" height="27.5"/>
<rect x="1339.7" y="1894.1" width="27.5" height="27.5"/>
<rect x="1545.1" y="1684.9" width="27.5" height="27.5"/>
<rect x="1270.4" y="1856.7" width="27.5" height="27.5"/>
<rect x="1123" y="1866.2" width="27.5" height="27.5"/>
<rect x="1211.5" y="1915.3" width="27.5" height="27.5"/>
<rect x="1213.4" y="1853.8" width="27.5" height="27.5"/>
<rect x="1547.6" y="1485.7" width="27.5" height="27.5"/>
<rect x="1352.9" y="1884.5" width="27.5" height="27.5"/>
<rect x="1103.4" y="1935" width="27.5" height="27.5"/>
<rect x="1198.1" y="1908.3" width="27.5" height="27.5"/>
<rect x="1311" y="1802.6" width="27.5" height="27.5"/>
<rect x="1033.5" y="1925.7" width="27.5" height="27.5"/>
<rect x="1338.1" y="1741.2" width="27.5" height="27.5"/>
<rect x="1492.2" y="1821.2" width="27.5" height="27.5"/>
<rect x="1312.1" y="1817.6" width="27.5" height="27.5"/>
<rect x="1315.5" y="1808" width="27.5" height="27.5"/>
<rect x="1313.6" y="1853.4" width="27.5" height="27.5"/>
<rect x="1416" y="1780" width="27.5" height="27.5"/>
<rect x="1277.4" y="1817.7" width="27.5" height="27.5"/>
<rect x="1307.4" y="1848.5" width="27.5" height="27.5"/>
<rect x="1395.5" y="1833.1" width="27.5" height="27.5"/>
<rect x="1221.7" y="1798.3" width="27.5" height="27.5"/>
<rect x="1283.8" y="1832.8" width="27.5" height="27.5"/>
<rect x="1517.3" y="1765.4" width="27.5" height="27.5"/>
<rect x="1242.9" y="1856.9" width="27.5" height="27.5"/>
<rect x="1326.5" y="1788.4" width="27.5" height="27.5"/>
<rect x="1313.8" y="1839.8" width="27.5" height="27.5"/>
<rect x="1073" y="2006.2" width="27.5" height="27.5"/>
<rect x="1349.2" y="1792.6" width="27.5" height="27.5"/>
<rect x="1292.9" y="1778" width="27.5" height="27.5"/>
<rect x="1395.6" y="1855" width="27.5" height="27.5"/>
<rect x="1127.5" y="1831.8" width="27.5" height="27.5"/>
<rect x="1515.9" y="1776.8" width="27.5" height="27.5"/>
<rect x="1375" y="1823.3" width="27.5" height="27.5"/>
<rect x="977.3" y="2083.7" width="27.5" height="27.5"/>
<rect x="1387.2" y="1839.6" width="27.5" height="27.5"/>
<rect x="1494.6" y="1870.7" width="27.5" height="27.5"/>
<rect x="1402.2" y="1839.2" width="27.5" height="27.5"/>
<rect x="1356.2" y="1807.7" width="27.5" height="27.5"/>
<rect x="1127" y="1980.2" width="27.5" height="27.5"/>
<rect x="1532.8" y="1770.6" width="27.5" height="27.5"/>
<rect x="1268" y="1804.4" width="27.5" height="27.5"/>
<rect x="991.1" y="2087.2" width="27.5" height="27.5"/>
<rect x="1439.7" y="1807.3" width="27.5" height="27.5"/>
<rect x="1276.5" y="1905.4" width="27.5" height="27.5"/>
<rect x="1356" y="1814.4" width="27.5" height="27.5"/>
<rect x="1553.1" y="1693.7" width="27.5" height="27.5"/>
<rect x="1412.1" y="1764.8" width="27.5" height="27.5"/>
<rect x="998.5" y="2020.4" width="27.5" height="27.5"/>
<rect x="1548.5" y="1810.8" width="27.5" height="27.5"/>
<rect x="1118.5" y="1962.3" width="27.5" height="27.5"/>
<rect x="1126.5" y="1885.6" width="27.5" height="27.5"/>
<rect x="1398.6" y="1765.9" width="27.5" height="27.5"/>
<rect x="1237" y="1892.3" width="27.5" height="27.5"/>
<rect x="1138.8" y="1838" width="27.5" height="27.5"/>
<rect x="973.7" y="2090.9" width="27.5" height="27.5"/>
<rect x="1381.3" y="1863.2" width="27.5" height="27.5"/>
<rect x="1249.7" y="1814.6" width="27.5" height="27.5"/>
<rect x="1019.5" y="1968.8" width="27.5" height="27.5"/>
<rect x="1154.9" y="1836.6" width="27.5" height="27.5"/>
<rect x="1080.9" y="1881" width="27.5" height="27.5"/>
<rect x="1058" y="2024.9" width="27.5" height="27.5"/>
<rect x="1041.7" y="2018.7" width="27.5" height="27.5"/>
<rect x="1112.5" y="1968.1" width="27.5" height="27.5"/>
<rect x="1061.7" y="1924.7" width="27.5" height="27.5"/>
<rect x="1499.6" y="1749.8" width="27.5" height="27.5"/>
<rect x="1232.1" y="1910" width="27.5" height="27.5"/>
<rect x="1306" y="1884.1" width="27.5" height="27.5"/>
<rect x="1536.1" y="1668.6" width="27.5" height="27.5"/>
<rect x="1373.4" y="1739" width="27.5" height="27.5"/>
<rect x="1251.6" y="1829.7" width="27.5" height="27.5"/>
<rect x="1116.3" y="1981.4" width="27.5" height="27.5"/>
<rect x="1170.1" y="1924.9" width="27.5" height="27.5"/>
<rect x="1203.2" y="1793" width="27.5" height="27.5"/>
<rect x="1149.8" y="1861.2" width="27.5" height="27.5"/>
<rect x="1179.6" y="1899.3" width="27.5" height="27.5"/>
<rect x="1022.2" y="1932.5" width="27.5" height="27.5"/>
<rect x="1121.1" y="1945.1" width="27.5" height="27.5"/>
<rect x="976.1" y="2067.3" width="27.5" height="27.5"/>
<rect x="1035.2" y="2021.9" width="27.5" height="27.5"/>
<rect x="1151.4" y="1961" width="27.5" height="27.5"/>
<rect x="1501.3" y="1812.6" width="27.5" height="27.5"/>
<rect x="1077.9" y="1951.8" width="27.5" height="27.5"/>
<rect x="1251.3" y="1885.3" width="27.5" height="27.5"/>
<rect x="978.4" y="2060.2" width="27.5" height="27.5"/>
<rect x="1329.5" y="1763.6" width="27.5" height="27.5"/>
<rect x="1457.1" y="1792.9" width="27.5" height="27.5"/>
<rect x="1238.4" y="1906" width="27.5" height="27.5"/>
<rect x="1248.9" y="1915.7" width="27.5" height="27.5"/>
<rect x="1541.7" y="1779.1" width="27.5" height="27.5"/>
<rect x="1376.5" y="1789.7" width="27.5" height="27.5"/>
<rect x="1323.5" y="1878.7" width="27.5" height="27.5"/>
<rect x="1478.1" y="1760.9" width="27.5" height="27.5"/>
<rect x="1261.5" y="1873.1" width="27.5" height="27.5"/>
<rect x="1188.6" y="1825.1" width="27.5" height="27.5"/>
<rect x="1167.6" y="1826.7" width="27.5" height="27.5"/>
<rect x="1356.9" y="1877" width="27.5" height="27.5"/>
<rect x="1494.9" y="1728" width="27.5" height="27.5"/>
<rect x="1069.9" y="1901.1" width="27.5" height="27.5"/>
<rect x="1389.2" y="1869.2" width="27.5" height="27.5"/>
<rect x="1439.1" y="1836.4" width="27.5" height="27.5"/>
<rect x="1545" y="1693.3" width="27.5" height="27.5"/>
<rect x="1369.3" y="1866.9" width="27.5" height="27.5"/>
<rect x="1173.1" y="1874.3" width="27.5" height="27.5"/>
<rect x="1498.2" y="1846.3" width="27.5" height="27.5"/>
<rect x="1343.8" y="1871" width="27.5" height="27.5"/>
<rect x="1082.9" y="1940.2" width="27.5" height="27.5"/>
<rect x="1513.4" y="1691.5" width="27.5" height="27.5"/>
<rect x="1406.8" y="1844.1" width="27.5" height="27.5"/>
<rect x="1005.8" y="2020.6" width="27.5" height="27.5"/>
<rect x="1490.5" y="1763.6" width="27.5" height="27.5"/>
<rect x="1553.7" y="1548.4" width="27.5" height="27.5"/>
<rect x="1483.6" y="1859.6" width="27.5" height="27.5"/>
<rect x="1147" y="1854" width="27.5" height="27.5"/>
<rect x="1192.7" y="1901.5" width="27.5" height="27.5"/>
<rect x="1255.8" y="1891.3" width="27.5" height="27.5"/>
<rect x="1188.1" y="1939.8" width="27.5" height="27.5"/>
<rect x="1179.8" y="1881" width="27.5" height="27.5"/>
<rect x="1204" y="1926.7" width="27.5" height="27.5"/>
<rect x="1036.6" y="2049.7" width="27.5" height="27.5"/>
<rect x="1553.5" y="1541.5" width="27.5" height="27.5"/>
<rect x="1221.4" y="1875.9" width="27.5" height="27.5"/>
<rect x="1207.2" y="1828.2" width="27.5" height="27.5"/>
<rect x="1544.4" y="1759.6" width="27.5" height="27.5"/>
<rect x="1345.7" y="1740.5" width="27.5" height="27.5"/>
<rect x="1200.3" y="1900.7" width="27.5" height="27.5"/>
<rect x="1261.2" y="1774.4" width="27.5" height="27.5"/>
<rect x="1176.8" y="1951" width="27.5" height="27.5"/>
<rect x="1532.9" y="1814.1" width="27.5" height="27.5"/>
<rect x="1500.6" y="1766" width="27.5" height="27.5"/>
<rect x="1548.7" y="1737" width="27.5" height="27.5"/>
<rect x="1476.4" y="1816.5" width="27.5" height="27.5"/>
<rect x="1035.1" y="1984.3" width="27.5" height="27.5"/>
<rect x="1131.6" y="1837.7" width="27.5" height="27.5"/>
<rect x="1305.9" y="1862.2" width="27.5" height="27.5"/>
<rect x="1518.7" y="1749.2" width="27.5" height="27.5"/>
<rect x="1163.3" y="1835.2" width="27.5" height="27.5"/>
<rect x="1173.3" y="1858.3" width="27.5" height="27.5"/>
<rect x="1213.2" y="1893.5" width="27.5" height="27.5"/>
<rect x="1267.4" y="1771.2" width="27.5" height="27.5"/>
<rect x="1405.5" y="1822.9" width="27.5" height="27.5"/>
<rect x="1473.9" y="1836.5" width="27.5" height="27.5"/>
<rect x="1547.6" y="1510.2" width="27.5" height="27.5"/>
<rect x="1024" y="1959.1" width="27.5" height="27.5"/>
<rect x="1133.5" y="1950.7" width="27.5" height="27.5"/>
<rect x="1502.5" y="1712.7" width="27.5" height="27.5"/>
<rect x="1061.5" y="2017.1" width="27.5" height="27.5"/>
<rect x="1327.5" y="1799.1" width="27.5" height="27.5"/>
<rect x="1549.2" y="1607.6" width="27.5" height="27.5"/>
<rect x="1311" y="1749.7" width="27.5" height="27.5"/>
<rect x="1029.2" y="2060.3" width="27.5" height="27.5"/>
<rect x="1450.9" y="1830.8" width="27.5" height="27.5"/>
<rect x="1322.5" y="1747.3" width="27.5" height="27.5"/>
<rect x="1370.8" y="1746.1" width="27.5" height="27.5"/>
<rect x="1547.2" y="1499.9" width="27.5" height="27.5"/>
<rect x="1231.1" y="1903.5" width="27.5" height="27.5"/>
<rect x="1038.5" y="2007.2" width="27.5" height="27.5"/>
<rect x="1563.9" y="1752.1" width="27.5" height="27.5"/>
<rect x="1448.1" y="1793.5" width="27.5" height="27.5"/>
<rect x="1180.1" y="1943.1" width="27.5" height="27.5"/>
<rect x="1560.2" y="1716.1" width="27.5" height="27.5"/>
<rect x="1462.8" y="1796.3" width="27.5" height="27.5"/>
<rect x="1122.9" y="1951.5" width="27.5" height="27.5"/>
<rect x="1193.5" y="1808.7" width="27.5" height="27.5"/>
<rect x="1546.2" y="1485.2" width="27.5" height="27.5"/>
<rect x="1121.3" y="1900" width="27.5" height="27.5"/>
<rect x="1492.1" y="1795.6" width="27.5" height="27.5"/>
<rect x="1512.3" y="1723.6" width="27.5" height="27.5"/>
<rect x="1193" y="1830.8" width="27.5" height="27.5"/>
<rect x="1432.8" y="1806" width="27.5" height="27.5"/>
<rect x="977.1" y="2003.1" width="27.5" height="27.5"/>
<rect x="1117.9" y="1931.9" width="27.5" height="27.5"/>
<rect x="1555.8" y="1627" width="27.5" height="27.5"/>
<rect x="1458.7" y="1850" width="27.5" height="27.5"/>
<rect x="1447.5" y="1844.8" width="27.5" height="27.5"/>
<rect x="1399.8" y="1779.5" width="27.5" height="27.5"/>
<rect x="1290.1" y="1770" width="27.5" height="27.5"/>
<rect x="1211" y="1908.8" width="27.5" height="27.5"/>
<rect x="1148" y="1868.2" width="27.5" height="27.5"/>
<rect x="1068" y="1973.6" width="27.5" height="27.5"/>
<rect x="1101.1" y="1876.3" width="27.5" height="27.5"/>
<rect x="1502.8" y="1735.2" width="27.5" height="27.5"/>
<rect x="1563.1" y="1732.1" width="27.5" height="27.5"/>
<rect x="984.4" y="1997" width="27.5" height="27.5"/>
<rect x="1537.4" y="1748.1" width="27.5" height="27.5"/>
<rect x="1547.1" y="1801.8" width="27.5" height="27.5"/>
<rect x="1009.1" y="1982.1" width="27.5" height="27.5"/>
<rect x="1316.7" y="1771.9" width="27.5" height="27.5"/>
<rect x="1556.4" y="1767.6" width="27.5" height="27.5"/>
<rect x="1379" y="1881.3" width="27.5" height="27.5"/>
<rect x="1363.4" y="1755.8" width="27.5" height="27.5"/>
<rect x="1546.2" y="1654.2" width="27.5" height="27.5"/>
<rect x="1040.2" y="1911.4" width="27.5" height="27.5"/>
<rect x="1313.1" y="1860.1" width="27.5" height="27.5"/>
<rect x="1534.8" y="1678.9" width="27.5" height="27.5"/>
<rect x="1508.4" y="1812.9" width="27.5" height="27.5"/>
<rect x="1178.6" y="1862.7" width="27.5" height="27.5"/>
<rect x="1416.9" y="1759.3" width="27.5" height="27.5"/>
<rect x="1474.1" y="1806" width="27.5" height="27.5"/>
<rect x="1461.8" y="1839.7" width="27.5" height="27.5"/>
<rect x="1538.1" y="1695.7" width="27.5" height="27.5"/>
<rect x="1060" y="1906.7" width="27.5" height="27.5"/>
<rect x="1544.1" y="1558.5" width="27.5" height="27.5"/>
<rect x="1070.1" y="2000" width="27.5" height="27.5"/>
<rect x="1026.9" y="2029.5" width="27.5" height="27.5"/>
<rect x="1336.9" y="1883.4" width="27.5" height="27.5"/>
<rect x="1438.9" y="1768.4" width="27.5" height="27.5"/>
<rect x="1457.4" y="1786.4" width="27.5" height="27.5"/>
<rect x="1483.4" y="1786.5" width="27.5" height="27.5"/>
<rect x="1378.9" y="1856.8" width="27.5" height="27.5"/>
<rect x="1268.9" y="1795.6" width="27.5" height="27.5"/>
<rect x="1548.6" y="1710.1" width="27.5" height="27.5"/>
<rect x="1551.4" y="1600.7" width="27.5" height="27.5"/>
<rect x="1374.9" y="1783.2" width="27.5" height="27.5"/>
<rect x="1493.2" y="1814.1" width="27.5" height="27.5"/>
<rect x="1491.7" y="1716.2" width="27.5" height="27.5"/>
<rect x="1317.7" y="1865.3" width="27.5" height="27.5"/>
<rect x="1128.5" y="1844.4" width="27.5" height="27.5"/>
<rect x="1002.7" y="1970.2" width="27.5" height="27.5"/>
<rect x="1450.6" y="1759.8" width="27.5" height="27.5"/>
<rect x="1241.8" y="1863.3" width="27.5" height="27.5"/>
<rect x="1438.3" y="1826" width="27.5" height="27.5"/>
<rect x="1382.1" y="1744.8" width="27.5" height="27.5"/>
<rect x="1139" y="1968.2" width="27.5" height="27.5"/>
<rect x="997.2" y="1958.8" width="27.5" height="27.5"/>
<rect x="1219" y="1913" width="27.5" height="27.5"/>
<rect x="1348.5" y="1865.6" width="27.5" height="27.5"/>
<rect x="1557.1" y="1707.7" width="27.5" height="27.5"/>
<rect x="1252.8" y="1822.4" width="27.5" height="27.5"/>
<rect x="1074.4" y="2035.2" width="27.5" height="27.5"/>
<rect x="1220.7" y="1850.3" width="27.5" height="27.5"/>
<rect x="1094.9" y="1922.6" width="27.5" height="27.5"/>
<rect x="1455.7" y="1843.8" width="27.5" height="27.5"/>
<rect x="1553.2" y="1593.2" width="27.5" height="27.5"/>
<rect x="1267.4" y="1764.4" width="27.5" height="27.5"/>
<rect x="1140" y="1922.3" width="27.5" height="27.5"/>
<rect x="989.7" y="2038.5" width="27.5" height="27.5"/>
<rect x="1434.3" y="1750.7" width="27.5" height="27.5"/>
<rect x="985.1" y="2067.2" width="27.5" height="27.5"/>
<rect x="1509.8" y="1773.8" width="27.5" height="27.5"/>
<rect x="1029.3" y="1946.8" width="27.5" height="27.5"/>
<rect x="1102.6" y="1861.4" width="27.5" height="27.5"/>
<rect x="1445" y="1756.5" width="27.5" height="27.5"/>
<rect x="1442.1" y="1733.5" width="27.5" height="27.5"/>
<rect x="1339.2" y="1773.8" width="27.5" height="27.5"/>
<rect x="1409.3" y="1754.9" width="27.5" height="27.5"/>
<rect x="1032.3" y="1913.5" width="27.5" height="27.5"/>
<rect x="1018.6" y="1989.3" width="27.5" height="27.5"/>
<rect x="1550.5" y="1641.6" width="27.5" height="27.5"/>
<rect x="1512.5" y="1828.4" width="27.5" height="27.5"/>
<rect x="1245.6" y="1881.4" width="27.5" height="27.5"/>
<rect x="1132" y="1890.1" width="27.5" height="27.5"/>
<rect x="1558" y="1756" width="27.5" height="27.5"/>
<rect x="1303.3" y="1803.7" width="27.5" height="27.5"/>
<rect x="1253.2" y="1909.6" width="27.5" height="27.5"/>
<rect x="1401" y="1750.9" width="27.5" height="27.5"/>
<rect x="1382.7" y="1821.1" width="27.5" height="27.5"/>
<rect x="1486.6" y="1799.9" width="27.5" height="27.5"/>
<rect x="1492.1" y="1848.9" width="27.5" height="27.5"/>
<rect x="1018.4" y="2025" width="27.5" height="27.5"/>
<rect x="1158.1" y="1929" width="27.5" height="27.5"/>
<rect x="1259.4" y="1917.4" width="27.5" height="27.5"/>
<rect x="1054.7" y="1925.3" width="27.5" height="27.5"/>
<rect x="1290.6" y="1757.9" width="27.5" height="27.5"/>
<rect x="1169.8" y="1865.8" width="27.5" height="27.5"/>
<rect x="1495.2" y="1710.2" width="27.5" height="27.5"/>
<rect x="1373.6" y="1830.3" width="27.5" height="27.5"/>
<rect x="1235.1" y="1824" width="27.5" height="27.5"/>
<rect x="1557.5" y="1748.9" width="27.5" height="27.5"/>
<rect x="1048.3" y="2022" width="27.5" height="27.5"/>
<rect x="1565.3" y="1742.8" width="27.5" height="27.5"/>
<rect x="1400.1" y="1827.5" width="27.5" height="27.5"/>
<rect x="1204.5" y="1909.2" width="27.5" height="27.5"/>
<rect x="1452.3" y="1851.6" width="27.5" height="27.5"/>
<rect x="1483.4" y="1836.4" width="27.5" height="27.5"/>
<rect x="1081.3" y="1887.6" width="27.5" height="27.5"/>
<rect x="1109.2" y="1977" width="27.5" height="27.5"/>
<rect x="1325.6" y="1827.7" width="27.5" height="27.5"/>
<rect x="1228.2" y="1896.8" width="27.5" height="27.5"/>
<rect x="1427.3" y="1734.1" width="27.5" height="27.5"/>
<rect x="1028.7" y="2011" width="27.5" height="27.5"/>
<rect x="1113.9" y="1946.3" width="27.5" height="27.5"/>
<rect x="1163.9" y="1908.7" width="27.5" height="27.5"/>
<rect x="1296.5" y="1802.6" width="27.5" height="27.5"/>
<rect x="1543.8" y="1565.6" width="27.5" height="27.5"/>
<rect x="1303.7" y="1920.3" width="27.5" height="27.5"/>
<rect x="563.8" y="2428.2" width="27.5" height="27.5"/>
<rect x="621.2" y="2341.9" width="27.5" height="27.5"/>
<rect x="609.4" y="2352.1" width="27.5" height="27.5"/>
<rect x="780.3" y="2268.7" width="27.5" height="27.5"/>
<rect x="719.1" y="2273.6" width="27.5" height="27.5"/>
<rect x="287.2" y="2480.3" width="27.5" height="27.5"/>
<rect x="892.6" y="2165.4" width="27.5" height="27.5"/>
<rect x="839.4" y="2168.7" width="27.5" height="27.5"/>
<rect x="604" y="2382.5" width="27.5" height="27.5"/>
<rect x="379.7" y="2474.5" width="27.5" height="27.5"/>
<rect x="815.9" y="2178.5" width="27.5" height="27.5"/>
<rect x="435.2" y="2462.2" width="27.5" height="27.5"/>
<rect x="829.2" y="2155" width="27.5" height="27.5"/>
<rect x="683.4" y="2336.2" width="27.5" height="27.5"/>
<rect x="465.1" y="2467.2" width="27.5" height="27.5"/>
<rect x="910.7" y="2064.2" width="27.5" height="27.5"/>
<rect x="580.1" y="2384.2" width="27.5" height="27.5"/>
<rect x="281.2" y="2483.3" width="27.5" height="27.5"/>
<rect x="316.3" y="2469.9" width="27.5" height="27.5"/>
<rect x="788" y="2217.8" width="27.5" height="27.5"/>
<rect x="541.2" y="2421.4" width="27.5" height="27.5"/>
<rect x="662.7" y="2329.7" width="27.5" height="27.5"/>
<rect x="902.2" y="2166.2" width="27.5" height="27.5"/>
<rect x="703.2" y="2309.1" width="27.5" height="27.5"/>
<rect x="734.4" y="2293.8" width="27.5" height="27.5"/>
<rect x="616.1" y="2346.6" width="27.5" height="27.5"/>
<rect x="751.5" y="2281.6" width="27.5" height="27.5"/>
<rect x="870.7" y="2199.1" width="27.5" height="27.5"/>
<rect x="865.1" y="2182.1" width="27.5" height="27.5"/>
<rect x="708.9" y="2321.5" width="27.5" height="27.5"/>
<rect x="910.7" y="2080.4" width="27.5" height="27.5"/>
<rect x="895.4" y="2104.3" width="27.5" height="27.5"/>
<rect x="671.7" y="2359.3" width="27.5" height="27.5"/>
<rect x="766.6" y="2263.6" width="27.5" height="27.5"/>
<rect x="812.7" y="2195.8" width="27.5" height="27.5"/>
<rect x="1546.2" y="1862.2" width="27.5" height="27.5"/>
<rect x="927.2" y="2216.2" width="27.5" height="27.5"/>
<rect x="958.2" y="2178.2" width="27.5" height="27.5"/>
<rect x="993.2" y="2153.2" width="27.5" height="27.5"/>
</g>
<rect x="283" y="40.5" width="1595" height="1141.5" fill="none" stroke="#000" stroke-width="6"/>
<path d="M267.5 1182H283M283 1182V1198.5M267.5 953.7H283M602 1182V1198.5M267.5 725.4H283M921 1182V1198.5M267.5 497.1H283M1240 1182V1198.5M267.5 268.8H283M1559 1182V1198.5M267.5 40.5H283M1878 1182V1198.5" stroke="#000" stroke-width="5" stroke-linecap="round" fill="none"/>
<g style="font-family:'Liberation Sans',Arial,sans-serif" font-size="54" fill="#000"><text x="240" y="1201" text-anchor="end">0</text><text x="283" y="1274.7" text-anchor="middle">0</text><text x="240" y="972.7" text-anchor="end">500</text><text x="602" y="1274.7" text-anchor="middle">500</text><text x="240" y="744.4" text-anchor="end">1000</text><text x="921" y="1274.7" text-anchor="middle">1000</text><text x="240" y="516.1" text-anchor="end">1500</text><text x="1240" y="1274.7" text-anchor="middle">1500</text><text x="240" y="287.8" text-anchor="end">2000</text><text x="1559" y="1274.7" text-anchor="middle">2000</text><text x="240" y="59.5" text-anchor="end">2500</text><text x="1878" y="1274.7" text-anchor="middle">2500</text></g>
<text transform="translate(68 612) rotate(-90)" text-anchor="middle" style="font-family:'Liberation Sans',Arial,sans-serif;font-style:italic" font-size="54">Predicted wind turbine output power (kW)</text>
<text x="1081" y="1376" text-anchor="middle" style="font-family:'Liberation Sans',Arial,sans-serif;font-style:italic" font-size="54">Actual wind turbine output power (kW)</text>
<rect x="283" y="1463" width="1595" height="1141.5" fill="none" stroke="#000" stroke-width="6"/>
<path d="M267.5 2604.5H283M283 2604.5V2621M267.5 2376.2H283M602 2604.5V2621M267.5 2147.9H283M921 2604.5V2621M267.5 1919.6H283M1240 2604.5V2621M267.5 1691.3H283M1559 2604.5V2621M267.5 1463H283M1878 2604.5V2621" stroke="#000" stroke-width="5" stroke-linecap="round" fill="none"/>
<g style="font-family:'Liberation Sans',Arial,sans-serif" font-size="54" fill="#000"><text x="240" y="2623.5" text-anchor="end">0</text><text x="283" y="2697.2" text-anchor="middle">0</text><text x="240" y="2395.2" text-anchor="end">500</text><text x="602" y="2697.2" text-anchor="middle">500</text><text x="240" y="2166.9" text-anchor="end">1000</text><text x="921" y="2697.2" text-anchor="middle">1000</text><text x="240" y="1938.6" text-anchor="end">1500</text><text x="1240" y="2697.2" text-anchor="middle">1500</text><text x="240" y="1710.3" text-anchor="end">2000</text><text x="1559" y="2697.2" text-anchor="middle">2000</text><text x="240" y="1482" text-anchor="end">2500</text><text x="1878" y="2697.2" text-anchor="middle">2500</text></g>
<text transform="translate(68 2034.5) rotate(-90)" text-anchor="middle" style="font-family:'Liberation Sans',Arial,sans-serif;font-style:italic" font-size="54">Predicted wind turbine output power (kW)</text>
<text x="1081" y="2798.5" text-anchor="middle" style="font-family:'Liberation Sans',Arial,sans-serif;font-style:italic" font-size="54">Actual wind turbine output power (kW)</text>
<circle cx="379" cy="116" r="15" fill="#ff0000" stroke="#000" stroke-width="6"/>
<line x1="319.5" y1="185.3" x2="441.5" y2="185.3" stroke="#0000ff" stroke-width="6.6" stroke-linecap="round"/>
<g style="font-family:'Liberation Sans',Arial,sans-serif;font-style:italic" font-size="54.3"><text x="471.5" y="135.8">Nonlinear regression-based model (NRM)</text><text x="471.5" y="205">Line of perfect agreement (1:1)</text></g>
<rect x="366.8" y="1526" width="27.5" height="27.5" fill="#ff0000" stroke="#000" stroke-width="5.5" shape-rendering="crispEdges"/>
<line x1="319.5" y1="1607.8" x2="441.5" y2="1607.8" stroke="#0000ff" stroke-width="6.6" stroke-linecap="round"/>
<g style="font-family:'Liberation Sans',Arial,sans-serif;font-style:italic" font-size="54.3"><text x="471.5" y="1558.3">Nonlinear regression-based model (NRM)</text><text x="471.5" y="1627.5">Line of perfect agreement (1:1)</text></g>
<g transform="translate(0 0)">
<text x="669" y="414.5" text-anchor="middle" style="font-family:'Liberation Sans',Arial,sans-serif" font-size="54"><tspan font-style="italic">R</tspan><tspan font-size="34" dy="-14.7">2</tspan><tspan dy="14.7"> = 0.9783 (</tspan><tspan font-weight="bold">training set</tspan>)</text>
<text x="669" y="477.5" text-anchor="middle" style="font-family:'Liberation Sans',Arial,sans-serif" font-size="54"><tspan font-style="italic">y</tspan> = 0.9697 <tspan font-style="italic">x</tspan> + 33.7679</text>
<path d="M727.4 540.4C728.5 541.6 732.1 545 734.1 547.9C736.1 550.8 738.1 554.3 739.4 557.7C740.7 561.1 741.6 564.7 742 568.2C742.4 571.7 742.1 574.9 741.7 578.7C741.3 582.5 740.5 586.5 739.4 590.8C738.3 595.1 736.6 599.5 734.9 604.3C733.1 609 730.9 614.5 728.9 619.3C726.9 624.1 724.5 629 722.9 632.9C721.3 636.8 720.1 640 719.4 642.6C718.7 645.2 718.5 647 718.8 648.6C719 650.2 719.7 651.6 720.9 652.4C722.1 653.2 723.9 653.5 725.9 653.2C727.9 652.9 729.7 652.1 732.6 650.6C735.5 649.1 737.9 647.8 743.2 644.1C748.5 640.4 757.2 633.7 764.2 628.3C771.2 622.9 778 617.4 785.3 611.8C792.6 606.2 800.3 600.3 807.8 594.5C815.3 588.7 822.9 583.1 830.4 577.2C837.9 571.3 845.4 565.1 852.9 559.2C860.4 553.3 869.2 546.9 875.5 541.9C881.8 536.9 886.5 532.5 890.5 529.1C894.5 525.7 897.2 523.5 899.5 521.6C901.8 519.7 902.8 518.3 904.1 517.8C905.4 517.3 906.7 517.7 907.1 518.6C907.5 519.5 907.3 521.1 906.3 523.1C905.3 525.1 903.7 527.4 901.1 530.6C898.5 533.9 894.8 537.8 890.5 542.6C886.2 547.4 880.5 553.6 875.5 559.2C870.5 564.9 865.5 570.5 860.5 576.5C855.5 582.5 849.7 589.7 845.4 595.3C841.1 600.9 837.8 605.5 834.9 610.3C832 615 829.6 619.3 828.1 623.8C826.6 628.3 825.9 633.1 825.9 637.4C825.9 641.7 826.6 646 828.1 649.4C829.6 652.8 832 655.5 834.9 657.7C837.8 660 841.6 661.5 845.4 662.9C849.1 664.3 853.3 665.1 857.4 665.9C861.5 666.6 868.1 667.1 870.2 667.4" fill="none" stroke="#000" stroke-width="5.5" stroke-linecap="butt" stroke-linejoin="round"/>
<path d="M704.1 514.1L734.9 532.9L719.8 546.8Z" fill="#000"/>
</g>
<g transform="translate(43 1371.5)">
<text x="669" y="414.5" text-anchor="middle" style="font-family:'Liberation Sans',Arial,sans-serif" font-size="54"><tspan font-style="italic">R</tspan><tspan font-size="34" dy="-14.7">2</tspan><tspan dy="14.7"> = 0.9789 (</tspan><tspan font-weight="bold">testing set</tspan>)</text>
<text x="669" y="477.5" text-anchor="middle" style="font-family:'Liberation Sans',Arial,sans-serif" font-size="54"><tspan font-style="italic">y</tspan> = 0.9666 <tspan font-style="italic">x</tspan> + 36.7948</text>
<path d="M727.4 540.4C728.5 541.6 732.1 545 734.1 547.9C736.1 550.8 738.1 554.3 739.4 557.7C740.7 561.1 741.6 564.7 742 568.2C742.4 571.7 742.1 574.9 741.7 578.7C741.3 582.5 740.5 586.5 739.4 590.8C738.3 595.1 736.6 599.5 734.9 604.3C733.1 609 730.9 614.5 728.9 619.3C726.9 624.1 724.5 629 722.9 632.9C721.3 636.8 720.1 640 719.4 642.6C718.7 645.2 718.5 647 718.8 648.6C719 650.2 719.7 651.6 720.9 652.4C722.1 653.2 723.9 653.5 725.9 653.2C727.9 652.9 729.7 652.1 732.6 650.6C735.5 649.1 737.9 647.8 743.2 644.1C748.5 640.4 757.2 633.7 764.2 628.3C771.2 622.9 778 617.4 785.3 611.8C792.6 606.2 800.3 600.3 807.8 594.5C815.3 588.7 822.9 583.1 830.4 577.2C837.9 571.3 845.4 565.1 852.9 559.2C860.4 553.3 869.2 546.9 875.5 541.9C881.8 536.9 886.5 532.5 890.5 529.1C894.5 525.7 897.2 523.5 899.5 521.6C901.8 519.7 902.8 518.3 904.1 517.8C905.4 517.3 906.7 517.7 907.1 518.6C907.5 519.5 907.3 521.1 906.3 523.1C905.3 525.1 903.7 527.4 901.1 530.6C898.5 533.9 894.8 537.8 890.5 542.6C886.2 547.4 880.5 553.6 875.5 559.2C870.5 564.9 865.5 570.5 860.5 576.5C855.5 582.5 849.7 589.7 845.4 595.3C841.1 600.9 837.8 605.5 834.9 610.3C832 615 829.6 619.3 828.1 623.8C826.6 628.3 825.9 633.1 825.9 637.4C825.9 641.7 826.6 646 828.1 649.4C829.6 652.8 832 655.5 834.9 657.7C837.8 660 841.6 661.5 845.4 662.9C849.1 664.3 853.3 665.1 857.4 665.9C861.5 666.6 868.1 667.1 870.2 667.4" fill="none" stroke="#000" stroke-width="5.5" stroke-linecap="butt" stroke-linejoin="round"/>
<path d="M704.1 514.1L734.9 532.9L719.8 546.8Z" fill="#000"/>
</g>
<text transform="translate(560 836.6) rotate(-43.4)" text-anchor="middle" style="font-family:'Liberation Sans',Arial,sans-serif" font-size="53.4" fill="#ff0000" dy="0.35em">+32% Error Line</text>
<text transform="translate(880.5 943.6) rotate(-25.9)" text-anchor="middle" style="font-family:'Liberation Sans',Arial,sans-serif" font-size="54.2" fill="#ff0000" dy="0.35em">-32% Error Line</text>
<text transform="translate(607.5 2226.5) rotate(-42.9)" text-anchor="middle" style="font-family:'Liberation Sans',Arial,sans-serif" font-size="54" fill="#ff0000" dy="0.35em">+30% Error Line</text>
<text transform="translate(886.8 2371.3) rotate(-26.6)" text-anchor="middle" style="font-family:'Liberation Sans',Arial,sans-serif" font-size="54.6" fill="#ff0000" dy="0.35em">-30% Error Line</text>
<ellipse cx="1770.2" cy="282.7" rx="68.5" ry="67" fill="none" stroke="#000" stroke-width="6"/><text x="1771.5" y="310.9" text-anchor="middle" style="font-family:'Liberation Sans',Arial,sans-serif" font-size="95" textLength="48.4" lengthAdjust="spacingAndGlyphs">a</text>
<ellipse cx="1755.2" cy="1702.8" rx="68.5" ry="67" fill="none" stroke="#000" stroke-width="6"/><text x="1757.9" y="1735.1" text-anchor="middle" style="font-family:'Liberation Sans',Arial,sans-serif" font-size="95">b</text>
<g transform="translate(0 0)">
<g fill="#fff" stroke="#000" stroke-width="5">
<circle cx="1456" cy="693.8" r="61"/>
<circle cx="1594.9" cy="686.5" r="61"/>
<circle cx="1342.2" cy="773" r="61"/>
<circle cx="1310.8" cy="911.8" r="61"/>
<circle cx="1355.3" cy="1038" r="61"/>
<circle cx="1467.6" cy="1110.2" r="61"/>
<circle cx="1607.9" cy="1110.2" r="61"/>
<ellipse cx="1777.7" cy="897.3" rx="82" ry="61"/>
<circle cx="1534.3" cy="898.7" r="70" fill="#ff0000"/>
</g>
<path d="M1470.6 761L1481.1 792L1474.6 794.2L1503.4 830.9L1503.7 784.2L1497.2 786.5L1486.6 755.6ZM1574.8 751.3L1563.2 782.6L1556.8 780.2L1555.9 826.8L1585.7 790.9L1579.2 788.5L1590.8 757.3ZM1389.1 827.2L1414.7 847.5L1410.4 852.9L1454.5 868.2L1429.6 828.7L1425.3 834.1L1399.7 813.8ZM1381 918L1417.5 918L1417.5 924.9L1461.5 909.5L1417.5 894.1L1417.5 901L1381 901ZM1416.1 999.2L1441.2 976.8L1445.8 981.9L1468.4 941.1L1425.3 959L1429.9 964.1L1404.7 986.6ZM1494.5 1048.1L1507.6 1014.6L1514 1017.1L1515.6 970.5L1485.3 1005.9L1491.7 1008.4L1478.7 1041.9ZM1594.9 1042.3L1584 1009.5L1590.5 1007.3L1562 970.4L1561.3 1017L1567.8 1014.9L1578.7 1047.7ZM1612.9 909.2L1649.6 909.2L1649.6 916.1L1693.6 900.7L1649.6 885.3L1649.6 892.2L1612.9 892.2Z" fill="#000"/>
<g style="font-family:'Liberation Sans',Arial,sans-serif" font-size="40" text-anchor="middle">
<text x="1456.5" y="713">RSG</text>
<text x="1597.8" y="705.4">VN</text>
<text x="1345.3" y="791.6">GT</text>
<text x="1315.4" y="930.7">PA</text>
<text x="1357.3" y="1058.3">AT</text>
<text x="1471.1" y="1130">WD</text>
<text x="1610.5" y="1132">WS</text>
<text x="1776.9" y="917.5">WTOP</text>
<text x="1536.5" y="916.8" font-weight="bold" textLength="100" lengthAdjust="spacingAndGlyphs" font-size="39">NRM</text>
</g></g>
<g transform="translate(-2.6 1412.3)">
<g fill="#fff" stroke="#000" stroke-width="5">
<circle cx="1456" cy="693.8" r="61"/>
<circle cx="1594.9" cy="686.5" r="61"/>
<circle cx="1342.2" cy="773" r="61"/>
<circle cx="1310.8" cy="911.8" r="61"/>
<circle cx="1355.3" cy="1038" r="61"/>
<circle cx="1467.6" cy="1110.2" r="61"/>
<circle cx="1607.9" cy="1110.2" r="61"/>
<ellipse cx="1777.7" cy="897.3" rx="82" ry="61"/>
<circle cx="1534.3" cy="898.7" r="70" fill="#ff0000"/>
</g>
<path d="M1470.6 761L1481.1 792L1474.6 794.2L1503.4 830.9L1503.7 784.2L1497.2 786.5L1486.6 755.6ZM1574.8 751.3L1563.2 782.6L1556.8 780.2L1555.9 826.8L1585.7 790.9L1579.2 788.5L1590.8 757.3ZM1389.1 827.2L1414.7 847.5L1410.4 852.9L1454.5 868.2L1429.6 828.7L1425.3 834.1L1399.7 813.8ZM1381 918L1417.5 918L1417.5 924.9L1461.5 909.5L1417.5 894.1L1417.5 901L1381 901ZM1416.1 999.2L1441.2 976.8L1445.8 981.9L1468.4 941.1L1425.3 959L1429.9 964.1L1404.7 986.6ZM1494.5 1048.1L1507.6 1014.6L1514 1017.1L1515.6 970.5L1485.3 1005.9L1491.7 1008.4L1478.7 1041.9ZM1594.9 1042.3L1584 1009.5L1590.5 1007.3L1562 970.4L1561.3 1017L1567.8 1014.9L1578.7 1047.7ZM1612.9 909.2L1649.6 909.2L1649.6 916.1L1693.6 900.7L1649.6 885.3L1649.6 892.2L1612.9 892.2Z" fill="#000"/>
<g style="font-family:'Liberation Sans',Arial,sans-serif" font-size="40" text-anchor="middle">
<text x="1456.5" y="713">RSG</text>
<text x="1597.8" y="705.4">VN</text>
<text x="1345.3" y="791.6">GT</text>
<text x="1315.4" y="930.7">PA</text>
<text x="1357.3" y="1058.3">AT</text>
<text x="1471.1" y="1130">WD</text>
<text x="1610.5" y="1132">WS</text>
<text x="1776.9" y="917.5">WTOP</text>
<text x="1536.5" y="916.8" font-weight="bold" textLength="100" lengthAdjust="spacingAndGlyphs" font-size="39">NRM</text>
</g></g>
<line x1="283" y1="1182" x2="1878" y2="40.5" stroke="#0000ff" stroke-width="8" stroke-linecap="butt"/>
<path d="M285.3 1179.8L315.7 1151.1M329.3 1138.3L359.7 1109.6M373.3 1096.7L403.6 1068M417.3 1055.2L447.6 1026.5M461.2 1013.6L491.6 984.9M505.2 972.1L535.6 943.4M549.2 930.5L579.6 901.8M593.2 889L623.5 860.3M637.2 847.4L667.5 818.8M681.1 805.9L711.5 777.2M725.1 764.3L755.5 735.7M769.1 722.8L799.5 694.1M813.1 681.2L843.4 652.6M857.1 639.7L887.4 611M901 598.1L931.4 569.5M945 556.6L975.4 527.9M989 515L1019.4 486.4M1033 473.5L1063.3 444.8M1077 431.9L1107.3 403.3M1120.9 390.4L1151.3 361.7M1164.9 348.9L1195.3 320.2M1208.9 307.3L1239.3 278.6M1252.9 265.8L1283.2 237.1M1296.9 224.2L1327.2 195.5M1340.8 182.7L1371.2 154M1384.8 141.1L1415.2 112.4M1428.8 99.6L1459.2 70.9M1472.8 58L1489 42.7" stroke="#ff0000" stroke-width="6.4" stroke-linecap="round" fill="none"/>
<path d="M285.9 1180.6L315.1 1166.4M329.9 1159.2L359.1 1145M373.8 1137.8L403.1 1123.6M417.8 1116.4L447.1 1102.2M461.8 1095L491 1080.8M505.8 1073.6L535 1059.4M549.8 1052.2L579 1037.9M593.7 1030.8L623 1016.5M637.7 1009.4L667 995.1M681.7 988L710.9 973.7M725.7 966.6L754.9 952.3M769.7 945.2L798.9 930.9M813.6 923.8L842.9 909.5M857.6 902.4L886.9 888.1M901.6 881L930.8 866.7M945.6 859.6L974.8 845.3M989.6 838.1L1018.8 823.9M1033.5 816.7L1062.8 802.5M1077.5 795.3L1106.8 781.1M1121.5 773.9L1150.7 759.7M1165.5 752.5L1194.7 738.3M1209.5 731.1L1238.7 716.9M1253.4 709.7L1282.7 695.5M1297.4 688.3L1326.7 674.1M1341.4 666.9L1370.6 652.7M1385.4 645.5L1414.6 631.3M1429.4 624.1L1458.6 609.9M1473.3 602.7L1502.6 588.5M1517.3 581.3L1546.6 567.1M1561.3 559.9L1590.5 545.7M1605.3 538.5L1634.5 524.3M1649.3 517.1L1678.5 502.9M1693.2 495.7L1722.5 481.5M1737.2 474.3L1766.5 460.1M1781.2 452.9L1810.4 438.7M1825.2 431.5L1854.4 417.3M1869.2 410.1L1875.1 407.2" stroke="#ff0000" stroke-width="6.4" stroke-linecap="round" fill="none"/>
<line x1="283" y1="2604.5" x2="1878" y2="1463" stroke="#0000ff" stroke-width="8" stroke-linecap="butt"/>
<path d="M285.3 2602.3L315.7 2574.1M329.3 2561.4L359.6 2533.2M373.3 2520.5L403.6 2492.3M417.3 2479.6L447.6 2451.4M461.3 2438.6L491.6 2410.4M505.2 2397.7L535.6 2369.5M549.2 2356.8L579.5 2328.6M593.2 2315.9L623.5 2287.7M637.2 2275L667.5 2246.8M681.2 2234.1L711.5 2205.9M725.1 2193.1L755.5 2164.9M769.1 2152.2L799.4 2124M813.1 2111.3L843.4 2083.1M857.1 2070.4L887.4 2042.2M901.1 2029.5L931.4 2001.3M945 1988.6L975.4 1960.3M989 1947.6L1019.3 1919.4M1033 1906.7L1063.3 1878.5M1077 1865.8L1107.3 1837.6M1121 1824.9L1151.3 1796.7M1164.9 1784L1195.3 1755.8M1208.9 1743L1239.2 1714.8M1252.9 1702.1L1283.2 1673.9M1296.9 1661.2L1327.2 1633M1340.9 1620.3L1371.2 1592.1M1384.8 1579.4L1415.2 1551.2M1428.8 1538.5L1459.1 1510.2M1472.8 1497.5L1503.1 1469.3" stroke="#ff0000" stroke-width="6.4" stroke-linecap="round" fill="none"/>
<path d="M285.9 2603.1L315.1 2588.4M329.8 2581L359.1 2566.4M373.8 2559L403.1 2544.3M417.8 2537L447.1 2522.3M461.8 2514.9L491.1 2500.3M505.8 2492.9L535 2478.2M549.7 2470.9L579 2456.2M593.7 2448.8L623 2434.2M637.7 2426.8L667 2412.1M681.7 2404.8L711 2390.1M725.7 2382.7L754.9 2368.1M769.6 2360.7L798.9 2346M813.6 2338.7L842.9 2324M857.6 2316.6L886.9 2302M901.6 2294.6L930.9 2279.9M945.6 2272.6L974.8 2257.9M989.5 2250.5L1018.8 2235.9M1033.5 2228.5L1062.8 2213.8M1077.5 2206.5L1106.8 2191.8M1121.5 2184.4L1150.8 2169.8M1165.5 2162.4L1194.7 2147.7M1209.4 2140.4L1238.7 2125.7M1253.4 2118.3L1282.7 2103.7M1297.4 2096.3L1326.7 2081.6M1341.4 2074.3L1370.7 2059.6M1385.4 2052.2L1414.6 2037.6M1429.3 2030.2L1458.6 2015.5M1473.3 2008.2L1502.6 1993.5M1517.3 1986.1L1546.6 1971.5M1561.3 1964.1L1590.6 1949.4M1605.3 1942.1L1634.5 1927.4M1649.2 1920.1L1678.5 1905.4M1693.2 1898L1722.5 1883.4M1737.2 1876L1766.5 1861.3M1781.2 1854L1810.5 1839.3M1825.2 1831.9L1854.4 1817.3M1869.1 1809.9L1875.1 1806.9" stroke="#ff0000" stroke-width="6.4" stroke-linecap="round" fill="none"/>
</svg>
</body></html>
